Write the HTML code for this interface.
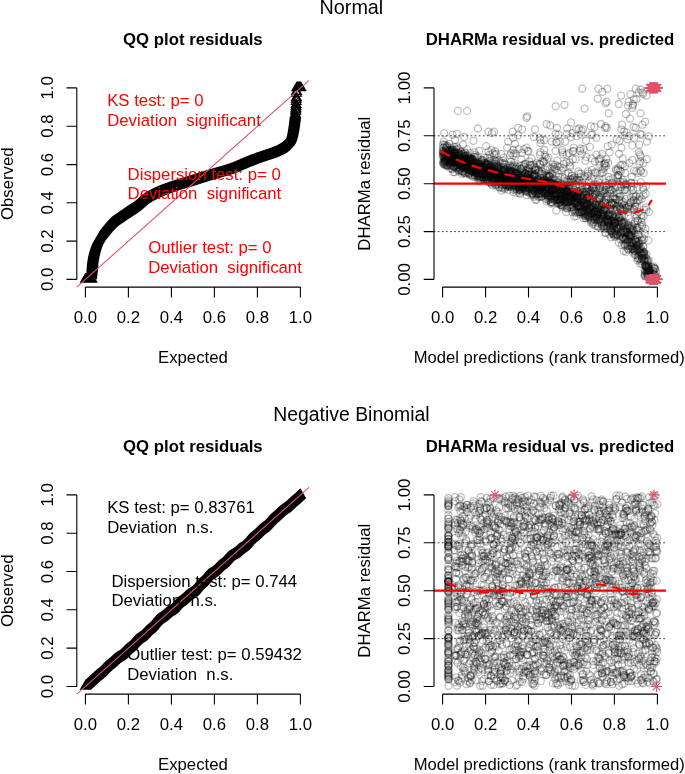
<!DOCTYPE html><html><head><meta charset="utf-8"><title>DHARMa residual plots</title>
<style>html,body{margin:0;padding:0;background:#fff}svg{display:block}text{font-family:"Liberation Sans",sans-serif;font-size:16.75px;fill:#000;white-space:pre}.b{font-weight:bold}.m{text-anchor:middle}.r{fill:#f00}.ax{stroke:#000;stroke-width:1.1;fill:none;stroke-linecap:butt}svg{will-change:transform}</style></head><body>
<svg width="685" height="774" viewBox="0 0 685 774">
<rect width="685" height="774" fill="#fff"/>
<defs><g id="st" stroke="#DF536B" stroke-opacity="1" stroke-width="1.1" fill="none"><path d="M-5.4 0H5.4M0-5.4V5.4M-3.8-3.8L3.8 3.8M-3.8 3.8L3.8-3.8"/></g><filter id="bl" x="-5%" y="-5%" width="110%" height="110%"><feGaussianBlur stdDeviation="0.45"/></filter></defs>
<text class="m" style="font-size:19.8px" x="351.4" y="14">Normal</text>
<text class="m" style="font-size:19.4px" x="351.4" y="421">Negative Binomial</text>
<path d="M91.0 270.5l4.9 8.5h-9.8zM91.0 270.3l4.9 8.5h-9.8zM91.1 270.0l4.9 8.5h-9.8zM91.1 269.8l4.9 8.5h-9.8zM91.2 269.5l4.9 8.5h-9.8zM91.3 269.2l4.9 8.5h-9.8zM91.3 268.9l4.9 8.5h-9.8zM91.4 268.5l4.9 8.5h-9.8zM91.4 268.2l4.9 8.5h-9.8zM91.5 267.8l4.9 8.5h-9.8zM91.6 267.4l4.9 8.5h-9.8zM91.6 267.0l4.9 8.5h-9.8zM91.7 266.6l4.9 8.5h-9.8zM91.7 266.2l4.9 8.5h-9.8zM91.8 265.7l4.9 8.5h-9.8zM91.9 265.3l4.9 8.5h-9.8zM91.9 264.8l4.9 8.5h-9.8zM92.0 264.4l4.9 8.5h-9.8zM92.0 263.9l4.9 8.5h-9.8zM92.0 263.5l4.9 8.5h-9.8zM92.1 263.0l4.9 8.5h-9.8zM92.1 262.6l4.9 8.5h-9.8zM92.2 262.1l4.9 8.5h-9.8zM92.2 261.6l4.9 8.5h-9.8zM92.2 261.1l4.9 8.5h-9.8zM92.3 260.7l4.9 8.5h-9.8zM92.3 260.2l4.9 8.5h-9.8zM92.3 259.7l4.9 8.5h-9.8zM92.4 259.3l4.9 8.5h-9.8zM92.4 258.8l4.9 8.5h-9.8zM92.4 258.3l4.9 8.5h-9.8zM92.5 257.9l4.9 8.5h-9.8zM92.5 257.4l4.9 8.5h-9.8zM92.6 256.9l4.9 8.5h-9.8zM92.6 256.5l4.9 8.5h-9.8zM92.6 256.0l4.9 8.5h-9.8zM92.7 255.5l4.9 8.5h-9.8zM92.7 255.1l4.9 8.5h-9.8zM92.8 254.6l4.9 8.5h-9.8zM92.8 254.2l4.9 8.5h-9.8zM92.9 253.7l4.9 8.5h-9.8zM93.0 253.2l4.9 8.5h-9.8zM93.0 252.8l4.9 8.5h-9.8zM93.1 252.3l4.9 8.5h-9.8zM93.2 251.9l4.9 8.5h-9.8zM93.2 251.4l4.9 8.5h-9.8zM93.3 251.0l4.9 8.5h-9.8zM93.4 250.5l4.9 8.5h-9.8zM93.5 250.1l4.9 8.5h-9.8zM93.6 249.6l4.9 8.5h-9.8zM93.6 249.2l4.9 8.5h-9.8zM93.7 248.7l4.9 8.5h-9.8zM93.8 248.3l4.9 8.5h-9.8zM93.9 247.8l4.9 8.5h-9.8zM94.0 247.4l4.9 8.5h-9.8zM94.1 246.9l4.9 8.5h-9.8zM94.2 246.5l4.9 8.5h-9.8zM94.3 246.0l4.9 8.5h-9.8zM94.4 245.6l4.9 8.5h-9.8zM94.5 245.1l4.9 8.5h-9.8zM94.6 244.7l4.9 8.5h-9.8zM94.8 244.2l4.9 8.5h-9.8zM94.9 243.8l4.9 8.5h-9.8zM95.0 243.3l4.9 8.5h-9.8zM95.1 242.9l4.9 8.5h-9.8zM95.2 242.4l4.9 8.5h-9.8zM95.4 242.0l4.9 8.5h-9.8zM95.5 241.5l4.9 8.5h-9.8zM95.6 241.1l4.9 8.5h-9.8zM95.8 240.6l4.9 8.5h-9.8zM95.9 240.2l4.9 8.5h-9.8zM96.1 239.7l4.9 8.5h-9.8zM96.2 239.3l4.9 8.5h-9.8zM96.4 238.8l4.9 8.5h-9.8zM96.5 238.4l4.9 8.5h-9.8zM96.7 237.9l4.9 8.5h-9.8zM96.9 237.5l4.9 8.5h-9.8zM97.1 237.0l4.9 8.5h-9.8zM97.2 236.6l4.9 8.5h-9.8zM97.4 236.2l4.9 8.5h-9.8zM97.6 235.7l4.9 8.5h-9.8zM97.8 235.3l4.9 8.5h-9.8zM98.0 234.9l4.9 8.5h-9.8zM98.3 234.5l4.9 8.5h-9.8zM98.5 234.1l4.9 8.5h-9.8zM98.7 233.7l4.9 8.5h-9.8zM98.9 233.3l4.9 8.5h-9.8zM99.2 232.9l4.9 8.5h-9.8zM99.4 232.5l4.9 8.5h-9.8zM99.6 232.1l4.9 8.5h-9.8zM99.9 231.7l4.9 8.5h-9.8zM100.1 231.3l4.9 8.5h-9.8zM100.4 231.0l4.9 8.5h-9.8zM100.7 230.6l4.9 8.5h-9.8zM100.9 230.2l4.9 8.5h-9.8zM101.2 229.9l4.9 8.5h-9.8zM101.5 229.5l4.9 8.5h-9.8zM101.8 229.2l4.9 8.5h-9.8zM102.0 228.8l4.9 8.5h-9.8zM102.3 228.4l4.9 8.5h-9.8zM102.6 228.1l4.9 8.5h-9.8zM102.9 227.8l4.9 8.5h-9.8zM103.2 227.4l4.9 8.5h-9.8zM103.5 227.1l4.9 8.5h-9.8zM103.8 226.7l4.9 8.5h-9.8zM104.0 226.4l4.9 8.5h-9.8zM104.3 226.0l4.9 8.5h-9.8zM104.6 225.7l4.9 8.5h-9.8zM104.9 225.3l4.9 8.5h-9.8zM105.2 224.9l4.9 8.5h-9.8zM105.5 224.6l4.9 8.5h-9.8zM105.8 224.2l4.9 8.5h-9.8zM106.1 223.9l4.9 8.5h-9.8zM106.4 223.5l4.9 8.5h-9.8zM106.7 223.2l4.9 8.5h-9.8zM107.0 222.8l4.9 8.5h-9.8zM107.3 222.4l4.9 8.5h-9.8zM107.6 222.1l4.9 8.5h-9.8zM108.0 221.7l4.9 8.5h-9.8zM108.3 221.4l4.9 8.5h-9.8zM108.6 221.0l4.9 8.5h-9.8zM108.9 220.7l4.9 8.5h-9.8zM109.2 220.3l4.9 8.5h-9.8zM109.6 220.0l4.9 8.5h-9.8zM109.9 219.7l4.9 8.5h-9.8zM110.2 219.3l4.9 8.5h-9.8zM110.6 219.0l4.9 8.5h-9.8zM110.9 218.7l4.9 8.5h-9.8zM111.2 218.3l4.9 8.5h-9.8zM111.6 218.0l4.9 8.5h-9.8zM111.9 217.7l4.9 8.5h-9.8zM112.3 217.4l4.9 8.5h-9.8zM112.6 217.1l4.9 8.5h-9.8zM113.0 216.8l4.9 8.5h-9.8zM113.3 216.6l4.9 8.5h-9.8zM113.7 216.3l4.9 8.5h-9.8zM114.1 216.1l4.9 8.5h-9.8zM114.4 215.8l4.9 8.5h-9.8zM114.8 215.6l4.9 8.5h-9.8zM115.2 215.3l4.9 8.5h-9.8zM115.5 215.0l4.9 8.5h-9.8zM115.9 214.8l4.9 8.5h-9.8zM116.3 214.5l4.9 8.5h-9.8zM116.7 214.3l4.9 8.5h-9.8zM117.0 214.0l4.9 8.5h-9.8zM117.4 213.7l4.9 8.5h-9.8zM117.8 213.5l4.9 8.5h-9.8zM118.2 213.2l4.9 8.5h-9.8zM118.6 212.9l4.9 8.5h-9.8zM119.0 212.7l4.9 8.5h-9.8zM119.4 212.4l4.9 8.5h-9.8zM119.7 212.1l4.9 8.5h-9.8zM120.1 211.9l4.9 8.5h-9.8zM120.5 211.6l4.9 8.5h-9.8zM120.9 211.3l4.9 8.5h-9.8zM121.3 211.1l4.9 8.5h-9.8zM121.7 210.8l4.9 8.5h-9.8zM122.1 210.5l4.9 8.5h-9.8zM122.5 210.3l4.9 8.5h-9.8zM122.8 210.0l4.9 8.5h-9.8zM123.2 209.7l4.9 8.5h-9.8zM123.6 209.5l4.9 8.5h-9.8zM124.0 209.2l4.9 8.5h-9.8zM124.4 208.9l4.9 8.5h-9.8zM124.8 208.7l4.9 8.5h-9.8zM125.2 208.4l4.9 8.5h-9.8zM125.6 208.2l4.9 8.5h-9.8zM126.0 207.9l4.9 8.5h-9.8zM126.4 207.6l4.9 8.5h-9.8zM126.7 207.4l4.9 8.5h-9.8zM127.1 207.1l4.9 8.5h-9.8zM127.5 206.9l4.9 8.5h-9.8zM127.9 206.6l4.9 8.5h-9.8zM128.3 206.4l4.9 8.5h-9.8zM128.7 206.1l4.9 8.5h-9.8zM129.1 205.9l4.9 8.5h-9.8zM129.5 205.6l4.9 8.5h-9.8zM129.9 205.4l4.9 8.5h-9.8zM130.3 205.1l4.9 8.5h-9.8zM130.6 204.9l4.9 8.5h-9.8zM131.0 204.6l4.9 8.5h-9.8zM131.4 204.4l4.9 8.5h-9.8zM131.8 204.1l4.9 8.5h-9.8zM132.2 203.9l4.9 8.5h-9.8zM132.6 203.6l4.9 8.5h-9.8zM133.0 203.3l4.9 8.5h-9.8zM133.3 203.1l4.9 8.5h-9.8zM133.7 202.8l4.9 8.5h-9.8zM134.1 202.5l4.9 8.5h-9.8zM134.5 202.3l4.9 8.5h-9.8zM134.8 202.0l4.9 8.5h-9.8zM135.2 201.7l4.9 8.5h-9.8zM135.6 201.4l4.9 8.5h-9.8zM136.0 201.1l4.9 8.5h-9.8zM136.3 200.8l4.9 8.5h-9.8zM136.7 200.5l4.9 8.5h-9.8zM137.1 200.2l4.9 8.5h-9.8zM137.4 199.9l4.9 8.5h-9.8zM137.8 199.6l4.9 8.5h-9.8zM138.1 199.3l4.9 8.5h-9.8zM138.5 199.0l4.9 8.5h-9.8zM138.8 198.7l4.9 8.5h-9.8zM139.2 198.3l4.9 8.5h-9.8zM139.5 198.0l4.9 8.5h-9.8zM139.9 197.7l4.9 8.5h-9.8zM140.2 197.4l4.9 8.5h-9.8zM140.6 197.1l4.9 8.5h-9.8zM140.9 196.8l4.9 8.5h-9.8zM141.2 196.5l4.9 8.5h-9.8zM141.6 196.2l4.9 8.5h-9.8zM141.9 195.9l4.9 8.5h-9.8zM142.3 195.6l4.9 8.5h-9.8zM142.6 195.3l4.9 8.5h-9.8zM143.0 195.1l4.9 8.5h-9.8zM143.3 194.8l4.9 8.5h-9.8zM143.7 194.6l4.9 8.5h-9.8zM144.0 194.3l4.9 8.5h-9.8zM144.4 194.1l4.9 8.5h-9.8zM144.7 193.8l4.9 8.5h-9.8zM145.1 193.6l4.9 8.5h-9.8zM145.4 193.4l4.9 8.5h-9.8zM145.8 193.1l4.9 8.5h-9.8zM146.2 192.9l4.9 8.5h-9.8zM146.5 192.7l4.9 8.5h-9.8zM146.9 192.5l4.9 8.5h-9.8zM147.3 192.3l4.9 8.5h-9.8zM147.6 192.0l4.9 8.5h-9.8zM148.0 191.8l4.9 8.5h-9.8zM148.4 191.6l4.9 8.5h-9.8zM148.8 191.4l4.9 8.5h-9.8zM149.2 191.2l4.9 8.5h-9.8zM149.6 191.0l4.9 8.5h-9.8zM150.0 190.8l4.9 8.5h-9.8zM150.3 190.6l4.9 8.5h-9.8zM150.7 190.4l4.9 8.5h-9.8zM151.1 190.2l4.9 8.5h-9.8zM151.5 190.0l4.9 8.5h-9.8zM151.9 189.8l4.9 8.5h-9.8zM152.3 189.6l4.9 8.5h-9.8zM152.7 189.4l4.9 8.5h-9.8zM153.1 189.2l4.9 8.5h-9.8zM153.5 189.0l4.9 8.5h-9.8zM153.9 188.8l4.9 8.5h-9.8zM154.4 188.6l4.9 8.5h-9.8zM154.8 188.4l4.9 8.5h-9.8zM155.2 188.2l4.9 8.5h-9.8zM155.6 188.0l4.9 8.5h-9.8zM156.0 187.9l4.9 8.5h-9.8zM156.4 187.7l4.9 8.5h-9.8zM156.8 187.5l4.9 8.5h-9.8zM157.2 187.3l4.9 8.5h-9.8zM157.6 187.1l4.9 8.5h-9.8zM158.0 187.0l4.9 8.5h-9.8zM158.5 186.8l4.9 8.5h-9.8zM158.9 186.6l4.9 8.5h-9.8zM159.3 186.4l4.9 8.5h-9.8zM159.7 186.3l4.9 8.5h-9.8zM160.1 186.1l4.9 8.5h-9.8zM160.5 185.9l4.9 8.5h-9.8zM160.9 185.7l4.9 8.5h-9.8zM161.4 185.6l4.9 8.5h-9.8zM161.8 185.4l4.9 8.5h-9.8zM162.2 185.2l4.9 8.5h-9.8zM162.6 185.1l4.9 8.5h-9.8zM163.0 184.9l4.9 8.5h-9.8zM163.5 184.8l4.9 8.5h-9.8zM163.9 184.6l4.9 8.5h-9.8zM164.3 184.5l4.9 8.5h-9.8zM164.7 184.3l4.9 8.5h-9.8zM165.2 184.1l4.9 8.5h-9.8zM165.6 184.0l4.9 8.5h-9.8zM166.0 183.8l4.9 8.5h-9.8zM166.4 183.7l4.9 8.5h-9.8zM166.9 183.5l4.9 8.5h-9.8zM167.3 183.4l4.9 8.5h-9.8zM167.7 183.2l4.9 8.5h-9.8zM168.2 183.1l4.9 8.5h-9.8zM168.6 182.9l4.9 8.5h-9.8zM169.0 182.8l4.9 8.5h-9.8zM169.5 182.6l4.9 8.5h-9.8zM169.9 182.5l4.9 8.5h-9.8zM170.3 182.4l4.9 8.5h-9.8zM170.8 182.2l4.9 8.5h-9.8zM171.2 182.1l4.9 8.5h-9.8zM171.7 181.9l4.9 8.5h-9.8zM172.1 181.8l4.9 8.5h-9.8zM172.5 181.6l4.9 8.5h-9.8zM173.0 181.5l4.9 8.5h-9.8zM173.4 181.3l4.9 8.5h-9.8zM173.9 181.2l4.9 8.5h-9.8zM174.3 181.1l4.9 8.5h-9.8zM174.7 180.9l4.9 8.5h-9.8zM175.2 180.8l4.9 8.5h-9.8zM175.6 180.6l4.9 8.5h-9.8zM176.1 180.5l4.9 8.5h-9.8zM176.5 180.4l4.9 8.5h-9.8zM176.9 180.2l4.9 8.5h-9.8zM177.4 180.1l4.9 8.5h-9.8zM177.8 180.0l4.9 8.5h-9.8zM178.2 179.8l4.9 8.5h-9.8zM178.7 179.7l4.9 8.5h-9.8zM179.1 179.6l4.9 8.5h-9.8zM179.5 179.5l4.9 8.5h-9.8zM180.0 179.3l4.9 8.5h-9.8zM180.4 179.2l4.9 8.5h-9.8zM180.8 179.1l4.9 8.5h-9.8zM181.2 179.0l4.9 8.5h-9.8zM181.7 178.8l4.9 8.5h-9.8zM182.1 178.7l4.9 8.5h-9.8zM182.5 178.6l4.9 8.5h-9.8zM182.9 178.5l4.9 8.5h-9.8zM183.4 178.4l4.9 8.5h-9.8zM183.8 178.2l4.9 8.5h-9.8zM184.2 178.1l4.9 8.5h-9.8zM184.6 178.0l4.9 8.5h-9.8zM185.1 177.9l4.9 8.5h-9.8zM185.5 177.7l4.9 8.5h-9.8zM185.9 177.6l4.9 8.5h-9.8zM186.3 177.5l4.9 8.5h-9.8zM186.8 177.3l4.9 8.5h-9.8zM187.2 177.2l4.9 8.5h-9.8zM187.6 177.1l4.9 8.5h-9.8zM188.0 177.0l4.9 8.5h-9.8zM188.5 176.8l4.9 8.5h-9.8zM188.9 176.7l4.9 8.5h-9.8zM189.3 176.5l4.9 8.5h-9.8zM189.7 176.4l4.9 8.5h-9.8zM190.2 176.3l4.9 8.5h-9.8zM190.6 176.1l4.9 8.5h-9.8zM191.0 176.0l4.9 8.5h-9.8zM191.4 175.9l4.9 8.5h-9.8zM191.9 175.7l4.9 8.5h-9.8zM192.3 175.6l4.9 8.5h-9.8zM192.7 175.4l4.9 8.5h-9.8zM193.2 175.3l4.9 8.5h-9.8zM193.6 175.2l4.9 8.5h-9.8zM194.0 175.0l4.9 8.5h-9.8zM194.5 174.9l4.9 8.5h-9.8zM194.9 174.7l4.9 8.5h-9.8zM195.4 174.6l4.9 8.5h-9.8zM195.8 174.4l4.9 8.5h-9.8zM196.2 174.3l4.9 8.5h-9.8zM196.7 174.2l4.9 8.5h-9.8zM197.1 174.0l4.9 8.5h-9.8zM197.6 173.9l4.9 8.5h-9.8zM198.0 173.7l4.9 8.5h-9.8zM198.5 173.6l4.9 8.5h-9.8zM198.9 173.4l4.9 8.5h-9.8zM199.4 173.3l4.9 8.5h-9.8zM199.8 173.2l4.9 8.5h-9.8zM200.3 173.0l4.9 8.5h-9.8zM200.7 172.9l4.9 8.5h-9.8zM201.2 172.7l4.9 8.5h-9.8zM201.6 172.6l4.9 8.5h-9.8zM202.1 172.5l4.9 8.5h-9.8zM202.5 172.3l4.9 8.5h-9.8zM203.0 172.2l4.9 8.5h-9.8zM203.4 172.0l4.9 8.5h-9.8zM203.9 171.9l4.9 8.5h-9.8zM204.3 171.8l4.9 8.5h-9.8zM204.7 171.6l4.9 8.5h-9.8zM205.2 171.5l4.9 8.5h-9.8zM205.6 171.4l4.9 8.5h-9.8zM206.1 171.2l4.9 8.5h-9.8zM206.5 171.1l4.9 8.5h-9.8zM207.0 171.0l4.9 8.5h-9.8zM207.4 170.8l4.9 8.5h-9.8zM207.8 170.7l4.9 8.5h-9.8zM208.3 170.6l4.9 8.5h-9.8zM208.7 170.4l4.9 8.5h-9.8zM209.2 170.3l4.9 8.5h-9.8zM209.6 170.2l4.9 8.5h-9.8zM210.0 170.0l4.9 8.5h-9.8zM210.5 169.9l4.9 8.5h-9.8zM210.9 169.8l4.9 8.5h-9.8zM211.4 169.7l4.9 8.5h-9.8zM211.8 169.5l4.9 8.5h-9.8zM212.2 169.4l4.9 8.5h-9.8zM212.7 169.3l4.9 8.5h-9.8zM213.1 169.1l4.9 8.5h-9.8zM213.6 169.0l4.9 8.5h-9.8zM214.0 168.9l4.9 8.5h-9.8zM214.5 168.7l4.9 8.5h-9.8zM214.9 168.6l4.9 8.5h-9.8zM215.4 168.5l4.9 8.5h-9.8zM215.8 168.4l4.9 8.5h-9.8zM216.2 168.2l4.9 8.5h-9.8zM216.7 168.1l4.9 8.5h-9.8zM217.1 168.0l4.9 8.5h-9.8zM217.6 167.8l4.9 8.5h-9.8zM218.0 167.7l4.9 8.5h-9.8zM218.5 167.6l4.9 8.5h-9.8zM218.9 167.4l4.9 8.5h-9.8zM219.4 167.3l4.9 8.5h-9.8zM219.8 167.2l4.9 8.5h-9.8zM220.3 167.1l4.9 8.5h-9.8zM220.7 166.9l4.9 8.5h-9.8zM221.2 166.8l4.9 8.5h-9.8zM221.6 166.7l4.9 8.5h-9.8zM222.1 166.6l4.9 8.5h-9.8zM222.5 166.4l4.9 8.5h-9.8zM223.0 166.3l4.9 8.5h-9.8zM223.4 166.2l4.9 8.5h-9.8zM223.8 166.0l4.9 8.5h-9.8zM224.3 165.9l4.9 8.5h-9.8zM224.7 165.8l4.9 8.5h-9.8zM225.2 165.6l4.9 8.5h-9.8zM225.6 165.5l4.9 8.5h-9.8zM226.1 165.4l4.9 8.5h-9.8zM226.5 165.2l4.9 8.5h-9.8zM227.0 165.1l4.9 8.5h-9.8zM227.4 164.9l4.9 8.5h-9.8zM227.9 164.8l4.9 8.5h-9.8zM228.3 164.6l4.9 8.5h-9.8zM228.8 164.5l4.9 8.5h-9.8zM229.2 164.4l4.9 8.5h-9.8zM229.6 164.2l4.9 8.5h-9.8zM230.1 164.0l4.9 8.5h-9.8zM230.5 163.9l4.9 8.5h-9.8zM231.0 163.7l4.9 8.5h-9.8zM231.4 163.6l4.9 8.5h-9.8zM231.8 163.4l4.9 8.5h-9.8zM232.3 163.2l4.9 8.5h-9.8zM232.7 163.1l4.9 8.5h-9.8zM233.1 162.9l4.9 8.5h-9.8zM233.6 162.7l4.9 8.5h-9.8zM234.0 162.6l4.9 8.5h-9.8zM234.5 162.4l4.9 8.5h-9.8zM234.9 162.2l4.9 8.5h-9.8zM235.3 162.0l4.9 8.5h-9.8zM235.8 161.8l4.9 8.5h-9.8zM236.2 161.6l4.9 8.5h-9.8zM236.6 161.5l4.9 8.5h-9.8zM237.0 161.3l4.9 8.5h-9.8zM237.5 161.1l4.9 8.5h-9.8zM237.9 160.9l4.9 8.5h-9.8zM238.3 160.7l4.9 8.5h-9.8zM238.7 160.5l4.9 8.5h-9.8zM239.2 160.3l4.9 8.5h-9.8zM239.6 160.2l4.9 8.5h-9.8zM240.0 160.0l4.9 8.5h-9.8zM240.4 159.8l4.9 8.5h-9.8zM240.9 159.6l4.9 8.5h-9.8zM241.3 159.4l4.9 8.5h-9.8zM241.7 159.2l4.9 8.5h-9.8zM242.1 159.1l4.9 8.5h-9.8zM242.5 158.9l4.9 8.5h-9.8zM243.0 158.7l4.9 8.5h-9.8zM243.4 158.5l4.9 8.5h-9.8zM243.8 158.3l4.9 8.5h-9.8zM244.2 158.2l4.9 8.5h-9.8zM244.6 158.0l4.9 8.5h-9.8zM245.1 157.8l4.9 8.5h-9.8zM245.5 157.6l4.9 8.5h-9.8zM245.9 157.5l4.9 8.5h-9.8zM246.3 157.3l4.9 8.5h-9.8zM246.7 157.1l4.9 8.5h-9.8zM247.2 157.0l4.9 8.5h-9.8zM247.6 156.8l4.9 8.5h-9.8zM248.0 156.6l4.9 8.5h-9.8zM248.4 156.5l4.9 8.5h-9.8zM248.8 156.3l4.9 8.5h-9.8zM249.3 156.1l4.9 8.5h-9.8zM249.7 156.0l4.9 8.5h-9.8zM250.1 155.8l4.9 8.5h-9.8zM250.5 155.6l4.9 8.5h-9.8zM251.0 155.5l4.9 8.5h-9.8zM251.4 155.3l4.9 8.5h-9.8zM251.8 155.1l4.9 8.5h-9.8zM252.2 155.0l4.9 8.5h-9.8zM252.6 154.8l4.9 8.5h-9.8zM253.1 154.7l4.9 8.5h-9.8zM253.5 154.5l4.9 8.5h-9.8zM253.9 154.3l4.9 8.5h-9.8zM254.3 154.2l4.9 8.5h-9.8zM254.8 154.0l4.9 8.5h-9.8zM255.2 153.9l4.9 8.5h-9.8zM255.6 153.7l4.9 8.5h-9.8zM256.0 153.6l4.9 8.5h-9.8zM256.5 153.4l4.9 8.5h-9.8zM256.9 153.3l4.9 8.5h-9.8zM257.3 153.1l4.9 8.5h-9.8zM257.8 153.0l4.9 8.5h-9.8zM258.2 152.8l4.9 8.5h-9.8zM258.7 152.7l4.9 8.5h-9.8zM259.1 152.5l4.9 8.5h-9.8zM259.5 152.4l4.9 8.5h-9.8zM260.0 152.2l4.9 8.5h-9.8zM260.4 152.1l4.9 8.5h-9.8zM260.9 151.9l4.9 8.5h-9.8zM261.3 151.8l4.9 8.5h-9.8zM261.8 151.6l4.9 8.5h-9.8zM262.2 151.5l4.9 8.5h-9.8zM262.7 151.3l4.9 8.5h-9.8zM263.1 151.2l4.9 8.5h-9.8zM263.6 151.0l4.9 8.5h-9.8zM264.0 150.9l4.9 8.5h-9.8zM264.5 150.7l4.9 8.5h-9.8zM264.9 150.6l4.9 8.5h-9.8zM265.4 150.4l4.9 8.5h-9.8zM265.9 150.3l4.9 8.5h-9.8zM266.3 150.2l4.9 8.5h-9.8zM266.8 150.0l4.9 8.5h-9.8zM267.2 149.9l4.9 8.5h-9.8zM267.7 149.7l4.9 8.5h-9.8zM268.1 149.6l4.9 8.5h-9.8zM268.5 149.4l4.9 8.5h-9.8zM269.0 149.3l4.9 8.5h-9.8zM269.4 149.1l4.9 8.5h-9.8zM269.9 148.9l4.9 8.5h-9.8zM270.3 148.8l4.9 8.5h-9.8zM270.8 148.6l4.9 8.5h-9.8zM271.2 148.5l4.9 8.5h-9.8zM271.6 148.3l4.9 8.5h-9.8zM272.1 148.1l4.9 8.5h-9.8zM272.5 148.0l4.9 8.5h-9.8zM272.9 147.8l4.9 8.5h-9.8zM273.4 147.6l4.9 8.5h-9.8zM273.8 147.5l4.9 8.5h-9.8zM274.2 147.3l4.9 8.5h-9.8zM274.7 147.1l4.9 8.5h-9.8zM275.1 146.9l4.9 8.5h-9.8zM275.5 146.7l4.9 8.5h-9.8zM276.0 146.5l4.9 8.5h-9.8zM276.4 146.3l4.9 8.5h-9.8zM276.8 146.2l4.9 8.5h-9.8zM277.2 146.0l4.9 8.5h-9.8zM277.6 145.8l4.9 8.5h-9.8zM278.1 145.5l4.9 8.5h-9.8zM278.5 145.3l4.9 8.5h-9.8zM278.9 145.1l4.9 8.5h-9.8zM279.3 144.9l4.9 8.5h-9.8zM279.7 144.7l4.9 8.5h-9.8zM280.1 144.4l4.9 8.5h-9.8zM280.5 144.2l4.9 8.5h-9.8zM280.9 143.9l4.9 8.5h-9.8zM281.3 143.7l4.9 8.5h-9.8zM281.7 143.4l4.9 8.5h-9.8zM282.1 143.1l4.9 8.5h-9.8zM282.5 142.8l4.9 8.5h-9.8zM282.9 142.5l4.9 8.5h-9.8zM283.2 142.2l4.9 8.5h-9.8zM283.6 141.9l4.9 8.5h-9.8zM284.0 141.6l4.9 8.5h-9.8zM284.4 141.3l4.9 8.5h-9.8zM284.7 140.9l4.9 8.5h-9.8zM285.1 140.6l4.9 8.5h-9.8zM285.4 140.2l4.9 8.5h-9.8zM285.8 139.8l4.9 8.5h-9.8zM286.1 139.5l4.9 8.5h-9.8zM286.5 139.2l4.9 8.5h-9.8zM286.8 138.8l4.9 8.5h-9.8zM287.1 138.5l4.9 8.5h-9.8zM287.4 138.2l4.9 8.5h-9.8zM287.7 137.9l4.9 8.5h-9.8zM288.0 137.5l4.9 8.5h-9.8zM288.3 137.2l4.9 8.5h-9.8zM288.6 136.8l4.9 8.5h-9.8zM288.9 136.4l4.9 8.5h-9.8zM289.1 136.1l4.9 8.5h-9.8zM289.4 135.7l4.9 8.5h-9.8zM289.6 135.3l4.9 8.5h-9.8zM289.8 134.9l4.9 8.5h-9.8zM290.1 134.5l4.9 8.5h-9.8zM290.3 134.1l4.9 8.5h-9.8zM290.5 133.7l4.9 8.5h-9.8zM290.7 133.3l4.9 8.5h-9.8zM290.9 132.8l4.9 8.5h-9.8zM291.0 132.4l4.9 8.5h-9.8zM291.2 132.0l4.9 8.5h-9.8zM291.4 131.6l4.9 8.5h-9.8zM291.5 131.1l4.9 8.5h-9.8zM291.7 130.7l4.9 8.5h-9.8zM291.8 130.2l4.9 8.5h-9.8zM291.9 129.8l4.9 8.5h-9.8zM292.0 129.3l4.9 8.5h-9.8zM292.2 128.9l4.9 8.5h-9.8zM292.3 128.4l4.9 8.5h-9.8zM292.4 128.0l4.9 8.5h-9.8zM292.5 127.5l4.9 8.5h-9.8zM292.6 127.1l4.9 8.5h-9.8zM292.7 126.6l4.9 8.5h-9.8zM292.8 126.1l4.9 8.5h-9.8zM292.9 125.7l4.9 8.5h-9.8zM293.0 125.2l4.9 8.5h-9.8zM293.1 124.8l4.9 8.5h-9.8zM293.2 124.3l4.9 8.5h-9.8zM293.3 123.8l4.9 8.5h-9.8zM293.3 123.4l4.9 8.5h-9.8zM293.4 122.9l4.9 8.5h-9.8zM293.5 122.5l4.9 8.5h-9.8zM293.6 122.0l4.9 8.5h-9.8zM293.7 121.5l4.9 8.5h-9.8zM293.7 121.1l4.9 8.5h-9.8zM293.8 120.6l4.9 8.5h-9.8zM293.9 120.1l4.9 8.5h-9.8zM294.0 119.7l4.9 8.5h-9.8zM294.0 119.2l4.9 8.5h-9.8zM294.1 118.7l4.9 8.5h-9.8zM294.2 118.3l4.9 8.5h-9.8zM294.2 117.8l4.9 8.5h-9.8zM294.3 117.3l4.9 8.5h-9.8zM294.4 116.8l4.9 8.5h-9.8zM294.4 116.4l4.9 8.5h-9.8zM294.5 115.9l4.9 8.5h-9.8zM294.6 115.4l4.9 8.5h-9.8zM294.6 115.0l4.9 8.5h-9.8zM294.7 114.5l4.9 8.5h-9.8zM294.8 114.0l4.9 8.5h-9.8zM294.8 113.6l4.9 8.5h-9.8zM294.9 113.1l4.9 8.5h-9.8zM294.9 112.7l4.9 8.5h-9.8zM295.0 112.2l4.9 8.5h-9.8zM295.0 111.8l4.9 8.5h-9.8zM295.1 111.4l4.9 8.5h-9.8zM295.1 111.0l4.9 8.5h-9.8zM295.2 110.6l4.9 8.5h-9.8zM295.2 110.2l4.9 8.5h-9.8zM295.2 109.8l4.9 8.5h-9.8zM295.3 109.5l4.9 8.5h-9.8zM295.3 109.2l4.9 8.5h-9.8zM295.4 108.9l4.9 8.5h-9.8zM295.4 108.6l4.9 8.5h-9.8zM295.4 108.3l4.9 8.5h-9.8zM295.4 108.1l4.9 8.5h-9.8zM295.7 105.6l4.9 8.5h-9.8zM295.8 104.3l4.9 8.5h-9.8zM295.9 102.8l4.9 8.5h-9.8zM296.0 100.6l4.9 8.5h-9.8zM296.1 98.9l4.9 8.5h-9.8zM296.2 95.9l4.9 8.5h-9.8zM296.3 93.8l4.9 8.5h-9.8zM296.4 91.9l4.9 8.5h-9.8zM296.5 87.8l4.9 8.5h-9.8zM296.6 85.9l4.9 8.5h-9.8z" fill="none" stroke="#000" stroke-width="1.07" stroke-linejoin="miter"/>
<path d="M85.4 273.8l4.9 8.5h-9.8zM85.9 273.8l4.9 8.5h-9.8zM86.4 273.8l4.9 8.5h-9.8zM86.9 273.8l4.9 8.5h-9.8zM87.4 273.8l4.9 8.5h-9.8zM87.9 273.8l4.9 8.5h-9.8zM88.4 273.8l4.9 8.5h-9.8zM88.9 273.8l4.9 8.5h-9.8zM89.4 273.8l4.9 8.5h-9.8zM89.9 273.8l4.9 8.5h-9.8zM90.4 273.8l4.9 8.5h-9.8zM90.9 273.8l4.9 8.5h-9.8zM91.4 273.8l4.9 8.5h-9.8zM91.9 273.8l4.9 8.5h-9.8zM296.8 82.3l4.9 8.5h-9.8zM297.4 82.3l4.9 8.5h-9.8zM298.0 82.3l4.9 8.5h-9.8zM298.6 82.3l4.9 8.5h-9.8zM299.2 82.3l4.9 8.5h-9.8zM299.8 82.3l4.9 8.5h-9.8zM300.4 82.3l4.9 8.5h-9.8zM301.0 82.3l4.9 8.5h-9.8z" fill="#000" stroke="#000" stroke-width="1.07" stroke-linejoin="miter"/>
<path d="M76.8 287.1L309 80.3" stroke="#DF536B" stroke-width="1.1" fill="none"/>
<path class="ax" d="M76.8 87.9V279.4M76.8 279.4h-10.3M76.8 241.1h-10.3M76.8 202.8h-10.3M76.8 164.6h-10.3M76.8 126.2h-10.3M76.8 87.9h-10.3M85.4 287.1H300.4M85.4 287.1v10.3M128.4 287.1v10.3M171.4 287.1v10.3M214.4 287.1v10.3M257.4 287.1v10.3M300.4 287.1v10.3"/>
<text class="m" x="85.4" y="322.6">0.0</text>
<text class="m" x="128.4" y="322.6">0.2</text>
<text class="m" x="171.4" y="322.6">0.4</text>
<text class="m" x="214.4" y="322.6">0.6</text>
<text class="m" x="257.4" y="322.6">0.8</text>
<text class="m" x="300.4" y="322.6">1.0</text>
<text class="m" transform="translate(53.1 279.4) rotate(-90)">0.0</text>
<text class="m" transform="translate(53.1 241.1) rotate(-90)">0.2</text>
<text class="m" transform="translate(53.1 202.8) rotate(-90)">0.4</text>
<text class="m" transform="translate(53.1 164.6) rotate(-90)">0.6</text>
<text class="m" transform="translate(53.1 126.2) rotate(-90)">0.8</text>
<text class="m" transform="translate(53.1 87.9) rotate(-90)">1.0</text>
<text class="m b" x="192.9" y="45.1">QQ plot residuals</text>
<text class="m" x="192.9" y="363.1">Expected</text>
<text class="m" transform="translate(13 183.7) rotate(-90)">Observed</text>
<text class="r" x="107.2" y="106.3">KS test: p= 0</text>
<text class="r" x="107.2" y="125.9">Deviation  significant</text>
<text class="r" x="127.6" y="179.6">Dispersion test: p= 0</text>
<text class="r" x="127.6" y="199.2">Deviation  significant</text>
<text class="r" x="148.2" y="253.1">Outlier test: p= 0</text>
<text class="r" x="148.2" y="272.7">Deviation  significant</text>
<path d="M85.4 680.8l4.9 8.5h-9.8zM85.7 680.4l4.9 8.5h-9.8zM86.1 680.1l4.9 8.5h-9.8zM86.4 679.8l4.9 8.5h-9.8zM86.7 679.5l4.9 8.5h-9.8zM87.1 679.2l4.9 8.5h-9.8zM87.4 678.9l4.9 8.5h-9.8zM87.8 678.6l4.9 8.5h-9.8zM88.1 678.3l4.9 8.5h-9.8zM88.4 678.0l4.9 8.5h-9.8zM88.8 677.7l4.9 8.5h-9.8zM89.1 677.4l4.9 8.5h-9.8zM89.4 677.1l4.9 8.5h-9.8zM89.8 676.8l4.9 8.5h-9.8zM90.1 676.5l4.9 8.5h-9.8zM90.4 676.2l4.9 8.5h-9.8zM90.8 675.9l4.9 8.5h-9.8zM91.1 675.6l4.9 8.5h-9.8zM91.5 675.2l4.9 8.5h-9.8zM91.8 674.9l4.9 8.5h-9.8zM92.1 674.6l4.9 8.5h-9.8zM92.5 674.3l4.9 8.5h-9.8zM92.8 674.0l4.9 8.5h-9.8zM93.1 673.6l4.9 8.5h-9.8zM93.5 673.3l4.9 8.5h-9.8zM93.8 673.0l4.9 8.5h-9.8zM94.1 672.7l4.9 8.5h-9.8zM94.5 672.4l4.9 8.5h-9.8zM94.8 672.1l4.9 8.5h-9.8zM95.2 671.8l4.9 8.5h-9.8zM95.5 671.5l4.9 8.5h-9.8zM95.8 671.2l4.9 8.5h-9.8zM96.2 671.0l4.9 8.5h-9.8zM96.5 670.7l4.9 8.5h-9.8zM96.8 670.4l4.9 8.5h-9.8zM97.2 670.2l4.9 8.5h-9.8zM97.5 669.9l4.9 8.5h-9.8zM97.8 669.6l4.9 8.5h-9.8zM98.2 669.4l4.9 8.5h-9.8zM98.5 669.1l4.9 8.5h-9.8zM98.9 668.8l4.9 8.5h-9.8zM99.2 668.6l4.9 8.5h-9.8zM99.5 668.3l4.9 8.5h-9.8zM99.9 668.0l4.9 8.5h-9.8zM100.2 667.7l4.9 8.5h-9.8zM100.5 667.4l4.9 8.5h-9.8zM100.9 667.1l4.9 8.5h-9.8zM101.2 666.7l4.9 8.5h-9.8zM101.6 666.4l4.9 8.5h-9.8zM101.9 666.1l4.9 8.5h-9.8zM102.2 665.7l4.9 8.5h-9.8zM102.6 665.4l4.9 8.5h-9.8zM102.9 665.0l4.9 8.5h-9.8zM103.2 664.6l4.9 8.5h-9.8zM103.6 664.3l4.9 8.5h-9.8zM103.9 663.9l4.9 8.5h-9.8zM104.2 663.6l4.9 8.5h-9.8zM104.6 663.2l4.9 8.5h-9.8zM104.9 662.9l4.9 8.5h-9.8zM105.3 662.6l4.9 8.5h-9.8zM105.6 662.3l4.9 8.5h-9.8zM105.9 661.9l4.9 8.5h-9.8zM106.3 661.6l4.9 8.5h-9.8zM106.6 661.3l4.9 8.5h-9.8zM106.9 661.1l4.9 8.5h-9.8zM107.3 660.8l4.9 8.5h-9.8zM107.6 660.5l4.9 8.5h-9.8zM107.9 660.2l4.9 8.5h-9.8zM108.3 660.0l4.9 8.5h-9.8zM108.6 659.7l4.9 8.5h-9.8zM109.0 659.4l4.9 8.5h-9.8zM109.3 659.2l4.9 8.5h-9.8zM109.6 658.9l4.9 8.5h-9.8zM110.0 658.6l4.9 8.5h-9.8zM110.3 658.3l4.9 8.5h-9.8zM110.6 658.0l4.9 8.5h-9.8zM111.0 657.7l4.9 8.5h-9.8zM111.3 657.4l4.9 8.5h-9.8zM111.6 657.1l4.9 8.5h-9.8zM112.0 656.8l4.9 8.5h-9.8zM112.3 656.5l4.9 8.5h-9.8zM112.7 656.1l4.9 8.5h-9.8zM113.0 655.8l4.9 8.5h-9.8zM113.3 655.5l4.9 8.5h-9.8zM113.7 655.2l4.9 8.5h-9.8zM114.0 654.9l4.9 8.5h-9.8zM114.3 654.6l4.9 8.5h-9.8zM114.7 654.3l4.9 8.5h-9.8zM115.0 654.0l4.9 8.5h-9.8zM115.3 653.7l4.9 8.5h-9.8zM115.7 653.5l4.9 8.5h-9.8zM116.0 653.2l4.9 8.5h-9.8zM116.4 653.0l4.9 8.5h-9.8zM116.7 652.8l4.9 8.5h-9.8zM117.0 652.6l4.9 8.5h-9.8zM117.4 652.4l4.9 8.5h-9.8zM117.7 652.2l4.9 8.5h-9.8zM118.0 652.0l4.9 8.5h-9.8zM118.4 651.8l4.9 8.5h-9.8zM118.7 651.6l4.9 8.5h-9.8zM119.0 651.4l4.9 8.5h-9.8zM119.4 651.2l4.9 8.5h-9.8zM119.7 651.0l4.9 8.5h-9.8zM120.1 650.7l4.9 8.5h-9.8zM120.4 650.5l4.9 8.5h-9.8zM120.7 650.2l4.9 8.5h-9.8zM121.1 650.0l4.9 8.5h-9.8zM121.4 649.7l4.9 8.5h-9.8zM121.7 649.4l4.9 8.5h-9.8zM122.1 649.1l4.9 8.5h-9.8zM122.4 648.8l4.9 8.5h-9.8zM122.7 648.5l4.9 8.5h-9.8zM123.1 648.1l4.9 8.5h-9.8zM123.4 647.8l4.9 8.5h-9.8zM123.8 647.4l4.9 8.5h-9.8zM124.1 647.1l4.9 8.5h-9.8zM124.4 646.7l4.9 8.5h-9.8zM124.8 646.4l4.9 8.5h-9.8zM125.1 646.1l4.9 8.5h-9.8zM125.4 645.7l4.9 8.5h-9.8zM125.8 645.4l4.9 8.5h-9.8zM126.1 645.1l4.9 8.5h-9.8zM126.4 644.8l4.9 8.5h-9.8zM126.8 644.5l4.9 8.5h-9.8zM127.1 644.2l4.9 8.5h-9.8zM127.5 643.9l4.9 8.5h-9.8zM127.8 643.6l4.9 8.5h-9.8zM128.1 643.4l4.9 8.5h-9.8zM128.5 643.1l4.9 8.5h-9.8zM128.8 642.8l4.9 8.5h-9.8zM129.1 642.5l4.9 8.5h-9.8zM129.5 642.2l4.9 8.5h-9.8zM129.8 642.0l4.9 8.5h-9.8zM130.1 641.7l4.9 8.5h-9.8zM130.5 641.3l4.9 8.5h-9.8zM130.8 641.0l4.9 8.5h-9.8zM131.2 640.7l4.9 8.5h-9.8zM131.5 640.4l4.9 8.5h-9.8zM131.8 640.0l4.9 8.5h-9.8zM132.2 639.6l4.9 8.5h-9.8zM132.5 639.3l4.9 8.5h-9.8zM132.8 638.9l4.9 8.5h-9.8zM133.2 638.5l4.9 8.5h-9.8zM133.5 638.1l4.9 8.5h-9.8zM133.9 637.7l4.9 8.5h-9.8zM134.2 637.3l4.9 8.5h-9.8zM134.5 637.0l4.9 8.5h-9.8zM134.9 636.6l4.9 8.5h-9.8zM135.2 636.2l4.9 8.5h-9.8zM135.5 635.9l4.9 8.5h-9.8zM135.9 635.6l4.9 8.5h-9.8zM136.2 635.3l4.9 8.5h-9.8zM136.5 635.0l4.9 8.5h-9.8zM136.9 634.7l4.9 8.5h-9.8zM137.2 634.4l4.9 8.5h-9.8zM137.6 634.2l4.9 8.5h-9.8zM137.9 633.9l4.9 8.5h-9.8zM138.2 633.7l4.9 8.5h-9.8zM138.6 633.5l4.9 8.5h-9.8zM138.9 633.3l4.9 8.5h-9.8zM139.2 633.0l4.9 8.5h-9.8zM139.6 632.8l4.9 8.5h-9.8zM139.9 632.6l4.9 8.5h-9.8zM140.2 632.4l4.9 8.5h-9.8zM140.6 632.1l4.9 8.5h-9.8zM140.9 631.9l4.9 8.5h-9.8zM141.3 631.6l4.9 8.5h-9.8zM141.6 631.3l4.9 8.5h-9.8zM141.9 631.1l4.9 8.5h-9.8zM142.3 630.7l4.9 8.5h-9.8zM142.6 630.4l4.9 8.5h-9.8zM142.9 630.1l4.9 8.5h-9.8zM143.3 629.8l4.9 8.5h-9.8zM143.6 629.4l4.9 8.5h-9.8zM143.9 629.0l4.9 8.5h-9.8zM144.3 628.7l4.9 8.5h-9.8zM144.6 628.3l4.9 8.5h-9.8zM145.0 628.0l4.9 8.5h-9.8zM145.3 627.6l4.9 8.5h-9.8zM145.6 627.2l4.9 8.5h-9.8zM146.0 626.9l4.9 8.5h-9.8zM146.3 626.6l4.9 8.5h-9.8zM146.6 626.2l4.9 8.5h-9.8zM147.0 625.9l4.9 8.5h-9.8zM147.3 625.6l4.9 8.5h-9.8zM147.6 625.3l4.9 8.5h-9.8zM148.0 625.0l4.9 8.5h-9.8zM148.3 624.8l4.9 8.5h-9.8zM148.7 624.5l4.9 8.5h-9.8zM149.0 624.2l4.9 8.5h-9.8zM149.3 623.9l4.9 8.5h-9.8zM149.7 623.7l4.9 8.5h-9.8zM150.0 623.4l4.9 8.5h-9.8zM150.3 623.1l4.9 8.5h-9.8zM150.7 622.8l4.9 8.5h-9.8zM151.0 622.4l4.9 8.5h-9.8zM151.3 622.1l4.9 8.5h-9.8zM151.7 621.7l4.9 8.5h-9.8zM152.0 621.4l4.9 8.5h-9.8zM152.4 621.0l4.9 8.5h-9.8zM152.7 620.6l4.9 8.5h-9.8zM153.0 620.2l4.9 8.5h-9.8zM153.4 619.8l4.9 8.5h-9.8zM153.7 619.4l4.9 8.5h-9.8zM154.0 618.9l4.9 8.5h-9.8zM154.4 618.5l4.9 8.5h-9.8zM154.7 618.1l4.9 8.5h-9.8zM155.0 617.7l4.9 8.5h-9.8zM155.4 617.2l4.9 8.5h-9.8zM155.7 616.8l4.9 8.5h-9.8zM156.1 616.5l4.9 8.5h-9.8zM156.4 616.1l4.9 8.5h-9.8zM156.7 615.8l4.9 8.5h-9.8zM157.1 615.4l4.9 8.5h-9.8zM157.4 615.1l4.9 8.5h-9.8zM157.7 614.8l4.9 8.5h-9.8zM158.1 614.6l4.9 8.5h-9.8zM158.4 614.3l4.9 8.5h-9.8zM158.7 614.1l4.9 8.5h-9.8zM159.1 613.8l4.9 8.5h-9.8zM159.4 613.6l4.9 8.5h-9.8zM159.8 613.4l4.9 8.5h-9.8zM160.1 613.2l4.9 8.5h-9.8zM160.4 613.0l4.9 8.5h-9.8zM160.8 612.8l4.9 8.5h-9.8zM161.1 612.5l4.9 8.5h-9.8zM161.4 612.3l4.9 8.5h-9.8zM161.8 612.1l4.9 8.5h-9.8zM162.1 611.8l4.9 8.5h-9.8zM162.5 611.6l4.9 8.5h-9.8zM162.8 611.3l4.9 8.5h-9.8zM163.1 611.0l4.9 8.5h-9.8zM163.5 610.7l4.9 8.5h-9.8zM163.8 610.4l4.9 8.5h-9.8zM164.1 610.1l4.9 8.5h-9.8zM164.5 609.8l4.9 8.5h-9.8zM164.8 609.5l4.9 8.5h-9.8zM165.1 609.2l4.9 8.5h-9.8zM165.5 608.9l4.9 8.5h-9.8zM165.8 608.6l4.9 8.5h-9.8zM166.2 608.3l4.9 8.5h-9.8zM166.5 608.0l4.9 8.5h-9.8zM166.8 607.7l4.9 8.5h-9.8zM167.2 607.5l4.9 8.5h-9.8zM167.5 607.3l4.9 8.5h-9.8zM167.8 607.0l4.9 8.5h-9.8zM168.2 606.8l4.9 8.5h-9.8zM168.5 606.6l4.9 8.5h-9.8zM168.8 606.4l4.9 8.5h-9.8zM169.2 606.2l4.9 8.5h-9.8zM169.5 606.1l4.9 8.5h-9.8zM169.9 605.9l4.9 8.5h-9.8zM170.2 605.7l4.9 8.5h-9.8zM170.5 605.5l4.9 8.5h-9.8zM170.9 605.3l4.9 8.5h-9.8zM171.2 605.0l4.9 8.5h-9.8zM171.5 604.8l4.9 8.5h-9.8zM171.9 604.5l4.9 8.5h-9.8zM172.2 604.3l4.9 8.5h-9.8zM172.5 604.0l4.9 8.5h-9.8zM172.9 603.6l4.9 8.5h-9.8zM173.2 603.3l4.9 8.5h-9.8zM173.6 603.0l4.9 8.5h-9.8zM173.9 602.6l4.9 8.5h-9.8zM174.2 602.2l4.9 8.5h-9.8zM174.6 601.8l4.9 8.5h-9.8zM174.9 601.4l4.9 8.5h-9.8zM175.2 601.0l4.9 8.5h-9.8zM175.6 600.6l4.9 8.5h-9.8zM175.9 600.2l4.9 8.5h-9.8zM176.2 599.9l4.9 8.5h-9.8zM176.6 599.5l4.9 8.5h-9.8zM176.9 599.1l4.9 8.5h-9.8zM177.3 598.8l4.9 8.5h-9.8zM177.6 598.5l4.9 8.5h-9.8zM177.9 598.1l4.9 8.5h-9.8zM178.3 597.9l4.9 8.5h-9.8zM178.6 597.6l4.9 8.5h-9.8zM178.9 597.3l4.9 8.5h-9.8zM179.3 597.1l4.9 8.5h-9.8zM179.6 596.8l4.9 8.5h-9.8zM179.9 596.6l4.9 8.5h-9.8zM180.3 596.4l4.9 8.5h-9.8zM180.6 596.1l4.9 8.5h-9.8zM181.0 595.9l4.9 8.5h-9.8zM181.3 595.7l4.9 8.5h-9.8zM181.6 595.4l4.9 8.5h-9.8zM182.0 595.2l4.9 8.5h-9.8zM182.3 594.9l4.9 8.5h-9.8zM182.6 594.6l4.9 8.5h-9.8zM183.0 594.3l4.9 8.5h-9.8zM183.3 594.1l4.9 8.5h-9.8zM183.6 593.7l4.9 8.5h-9.8zM184.0 593.4l4.9 8.5h-9.8zM184.3 593.1l4.9 8.5h-9.8zM184.7 592.8l4.9 8.5h-9.8zM185.0 592.4l4.9 8.5h-9.8zM185.3 592.1l4.9 8.5h-9.8zM185.7 591.8l4.9 8.5h-9.8zM186.0 591.4l4.9 8.5h-9.8zM186.3 591.1l4.9 8.5h-9.8zM186.7 590.8l4.9 8.5h-9.8zM187.0 590.5l4.9 8.5h-9.8zM187.3 590.2l4.9 8.5h-9.8zM187.7 590.0l4.9 8.5h-9.8zM188.0 589.7l4.9 8.5h-9.8zM188.4 589.5l4.9 8.5h-9.8zM188.7 589.3l4.9 8.5h-9.8zM189.0 589.1l4.9 8.5h-9.8zM189.4 588.9l4.9 8.5h-9.8zM189.7 588.7l4.9 8.5h-9.8zM190.0 588.5l4.9 8.5h-9.8zM190.4 588.3l4.9 8.5h-9.8zM190.7 588.2l4.9 8.5h-9.8zM191.0 588.0l4.9 8.5h-9.8zM191.4 587.8l4.9 8.5h-9.8zM191.7 587.5l4.9 8.5h-9.8zM192.1 587.3l4.9 8.5h-9.8zM192.4 587.1l4.9 8.5h-9.8zM192.7 586.8l4.9 8.5h-9.8zM193.1 586.5l4.9 8.5h-9.8zM193.4 586.2l4.9 8.5h-9.8zM193.7 585.8l4.9 8.5h-9.8zM194.1 585.5l4.9 8.5h-9.8zM194.4 585.1l4.9 8.5h-9.8zM194.8 584.7l4.9 8.5h-9.8zM195.1 584.3l4.9 8.5h-9.8zM195.4 583.9l4.9 8.5h-9.8zM195.8 583.5l4.9 8.5h-9.8zM196.1 583.1l4.9 8.5h-9.8zM196.4 582.7l4.9 8.5h-9.8zM196.8 582.3l4.9 8.5h-9.8zM197.1 581.8l4.9 8.5h-9.8zM197.4 581.4l4.9 8.5h-9.8zM197.8 581.1l4.9 8.5h-9.8zM198.1 580.7l4.9 8.5h-9.8zM198.5 580.3l4.9 8.5h-9.8zM198.8 580.0l4.9 8.5h-9.8zM199.1 579.6l4.9 8.5h-9.8zM199.5 579.3l4.9 8.5h-9.8zM199.8 579.0l4.9 8.5h-9.8zM200.1 578.7l4.9 8.5h-9.8zM200.5 578.4l4.9 8.5h-9.8zM200.8 578.1l4.9 8.5h-9.8zM201.1 577.8l4.9 8.5h-9.8zM201.5 577.5l4.9 8.5h-9.8zM201.8 577.2l4.9 8.5h-9.8zM202.2 576.9l4.9 8.5h-9.8zM202.5 576.5l4.9 8.5h-9.8zM202.8 576.2l4.9 8.5h-9.8zM203.2 575.9l4.9 8.5h-9.8zM203.5 575.5l4.9 8.5h-9.8zM203.8 575.1l4.9 8.5h-9.8zM204.2 574.7l4.9 8.5h-9.8zM204.5 574.3l4.9 8.5h-9.8zM204.8 573.9l4.9 8.5h-9.8zM205.2 573.5l4.9 8.5h-9.8zM205.5 573.1l4.9 8.5h-9.8zM205.9 572.7l4.9 8.5h-9.8zM206.2 572.3l4.9 8.5h-9.8zM206.5 571.9l4.9 8.5h-9.8zM206.9 571.5l4.9 8.5h-9.8zM207.2 571.2l4.9 8.5h-9.8zM207.5 570.8l4.9 8.5h-9.8zM207.9 570.5l4.9 8.5h-9.8zM208.2 570.2l4.9 8.5h-9.8zM208.5 569.9l4.9 8.5h-9.8zM208.9 569.6l4.9 8.5h-9.8zM209.2 569.3l4.9 8.5h-9.8zM209.6 569.1l4.9 8.5h-9.8zM209.9 568.9l4.9 8.5h-9.8zM210.2 568.7l4.9 8.5h-9.8zM210.6 568.5l4.9 8.5h-9.8zM210.9 568.3l4.9 8.5h-9.8zM211.2 568.1l4.9 8.5h-9.8zM211.6 567.9l4.9 8.5h-9.8zM211.9 567.7l4.9 8.5h-9.8zM212.2 567.5l4.9 8.5h-9.8zM212.6 567.3l4.9 8.5h-9.8zM212.9 567.0l4.9 8.5h-9.8zM213.3 566.8l4.9 8.5h-9.8zM213.6 566.5l4.9 8.5h-9.8zM213.9 566.3l4.9 8.5h-9.8zM214.3 566.0l4.9 8.5h-9.8zM214.6 565.7l4.9 8.5h-9.8zM214.9 565.4l4.9 8.5h-9.8zM215.3 565.0l4.9 8.5h-9.8zM215.6 564.7l4.9 8.5h-9.8zM215.9 564.3l4.9 8.5h-9.8zM216.3 564.0l4.9 8.5h-9.8zM216.6 563.6l4.9 8.5h-9.8zM217.0 563.3l4.9 8.5h-9.8zM217.3 562.9l4.9 8.5h-9.8zM217.6 562.5l4.9 8.5h-9.8zM218.0 562.2l4.9 8.5h-9.8zM218.3 561.9l4.9 8.5h-9.8zM218.6 561.6l4.9 8.5h-9.8zM219.0 561.3l4.9 8.5h-9.8zM219.3 561.0l4.9 8.5h-9.8zM219.6 560.7l4.9 8.5h-9.8zM220.0 560.4l4.9 8.5h-9.8zM220.3 560.2l4.9 8.5h-9.8zM220.7 559.9l4.9 8.5h-9.8zM221.0 559.6l4.9 8.5h-9.8zM221.3 559.4l4.9 8.5h-9.8zM221.7 559.1l4.9 8.5h-9.8zM222.0 558.9l4.9 8.5h-9.8zM222.3 558.6l4.9 8.5h-9.8zM222.7 558.3l4.9 8.5h-9.8zM223.0 558.0l4.9 8.5h-9.8zM223.3 557.7l4.9 8.5h-9.8zM223.7 557.4l4.9 8.5h-9.8zM224.0 557.1l4.9 8.5h-9.8zM224.4 556.8l4.9 8.5h-9.8zM224.7 556.4l4.9 8.5h-9.8zM225.0 556.0l4.9 8.5h-9.8zM225.4 555.7l4.9 8.5h-9.8zM225.7 555.3l4.9 8.5h-9.8zM226.0 554.9l4.9 8.5h-9.8zM226.4 554.5l4.9 8.5h-9.8zM226.7 554.1l4.9 8.5h-9.8zM227.1 553.7l4.9 8.5h-9.8zM227.4 553.4l4.9 8.5h-9.8zM227.7 553.0l4.9 8.5h-9.8zM228.1 552.6l4.9 8.5h-9.8zM228.4 552.3l4.9 8.5h-9.8zM228.7 552.0l4.9 8.5h-9.8zM229.1 551.7l4.9 8.5h-9.8zM229.4 551.4l4.9 8.5h-9.8zM229.7 551.2l4.9 8.5h-9.8zM230.1 551.0l4.9 8.5h-9.8zM230.4 550.7l4.9 8.5h-9.8zM230.8 550.5l4.9 8.5h-9.8zM231.1 550.3l4.9 8.5h-9.8zM231.4 550.2l4.9 8.5h-9.8zM231.8 550.0l4.9 8.5h-9.8zM232.1 549.8l4.9 8.5h-9.8zM232.4 549.6l4.9 8.5h-9.8zM232.8 549.4l4.9 8.5h-9.8zM233.1 549.2l4.9 8.5h-9.8zM233.4 549.0l4.9 8.5h-9.8zM233.8 548.8l4.9 8.5h-9.8zM234.1 548.6l4.9 8.5h-9.8zM234.5 548.4l4.9 8.5h-9.8zM234.8 548.1l4.9 8.5h-9.8zM235.1 547.9l4.9 8.5h-9.8zM235.5 547.6l4.9 8.5h-9.8zM235.8 547.3l4.9 8.5h-9.8zM236.1 547.0l4.9 8.5h-9.8zM236.5 546.7l4.9 8.5h-9.8zM236.8 546.4l4.9 8.5h-9.8zM237.1 546.1l4.9 8.5h-9.8zM237.5 545.8l4.9 8.5h-9.8zM237.8 545.5l4.9 8.5h-9.8zM238.2 545.2l4.9 8.5h-9.8zM238.5 544.9l4.9 8.5h-9.8zM238.8 544.6l4.9 8.5h-9.8zM239.2 544.4l4.9 8.5h-9.8zM239.5 544.1l4.9 8.5h-9.8zM239.8 543.9l4.9 8.5h-9.8zM240.2 543.6l4.9 8.5h-9.8zM240.5 543.4l4.9 8.5h-9.8zM240.8 543.2l4.9 8.5h-9.8zM241.2 542.9l4.9 8.5h-9.8zM241.5 542.7l4.9 8.5h-9.8zM241.9 542.5l4.9 8.5h-9.8zM242.2 542.3l4.9 8.5h-9.8zM242.5 542.0l4.9 8.5h-9.8zM242.9 541.8l4.9 8.5h-9.8zM243.2 541.5l4.9 8.5h-9.8zM243.5 541.3l4.9 8.5h-9.8zM243.9 541.0l4.9 8.5h-9.8zM244.2 540.7l4.9 8.5h-9.8zM244.5 540.4l4.9 8.5h-9.8zM244.9 540.0l4.9 8.5h-9.8zM245.2 539.7l4.9 8.5h-9.8zM245.6 539.3l4.9 8.5h-9.8zM245.9 538.9l4.9 8.5h-9.8zM246.2 538.5l4.9 8.5h-9.8zM246.6 538.1l4.9 8.5h-9.8zM246.9 537.7l4.9 8.5h-9.8zM247.2 537.3l4.9 8.5h-9.8zM247.6 536.9l4.9 8.5h-9.8zM247.9 536.5l4.9 8.5h-9.8zM248.2 536.1l4.9 8.5h-9.8zM248.6 535.7l4.9 8.5h-9.8zM248.9 535.3l4.9 8.5h-9.8zM249.3 534.9l4.9 8.5h-9.8zM249.6 534.6l4.9 8.5h-9.8zM249.9 534.3l4.9 8.5h-9.8zM250.3 533.9l4.9 8.5h-9.8zM250.6 533.6l4.9 8.5h-9.8zM250.9 533.3l4.9 8.5h-9.8zM251.3 533.0l4.9 8.5h-9.8zM251.6 532.8l4.9 8.5h-9.8zM251.9 532.5l4.9 8.5h-9.8zM252.3 532.2l4.9 8.5h-9.8zM252.6 532.0l4.9 8.5h-9.8zM253.0 531.7l4.9 8.5h-9.8zM253.3 531.5l4.9 8.5h-9.8zM253.6 531.2l4.9 8.5h-9.8zM254.0 530.9l4.9 8.5h-9.8zM254.3 530.6l4.9 8.5h-9.8zM254.6 530.3l4.9 8.5h-9.8zM255.0 530.0l4.9 8.5h-9.8zM255.3 529.7l4.9 8.5h-9.8zM255.7 529.4l4.9 8.5h-9.8zM256.0 529.1l4.9 8.5h-9.8zM256.3 528.7l4.9 8.5h-9.8zM256.7 528.4l4.9 8.5h-9.8zM257.0 528.1l4.9 8.5h-9.8zM257.3 527.7l4.9 8.5h-9.8zM257.7 527.4l4.9 8.5h-9.8zM258.0 527.0l4.9 8.5h-9.8zM258.3 526.7l4.9 8.5h-9.8zM258.7 526.4l4.9 8.5h-9.8zM259.0 526.0l4.9 8.5h-9.8zM259.4 525.7l4.9 8.5h-9.8zM259.7 525.4l4.9 8.5h-9.8zM260.0 525.1l4.9 8.5h-9.8zM260.4 524.9l4.9 8.5h-9.8zM260.7 524.6l4.9 8.5h-9.8zM261.0 524.3l4.9 8.5h-9.8zM261.4 524.1l4.9 8.5h-9.8zM261.7 523.9l4.9 8.5h-9.8zM262.0 523.6l4.9 8.5h-9.8zM262.4 523.4l4.9 8.5h-9.8zM262.7 523.1l4.9 8.5h-9.8zM263.1 522.9l4.9 8.5h-9.8zM263.4 522.7l4.9 8.5h-9.8zM263.7 522.4l4.9 8.5h-9.8zM264.1 522.1l4.9 8.5h-9.8zM264.4 521.8l4.9 8.5h-9.8zM264.7 521.6l4.9 8.5h-9.8zM265.1 521.2l4.9 8.5h-9.8zM265.4 520.9l4.9 8.5h-9.8zM265.7 520.6l4.9 8.5h-9.8zM266.1 520.2l4.9 8.5h-9.8zM266.4 519.9l4.9 8.5h-9.8zM266.8 519.5l4.9 8.5h-9.8zM267.1 519.1l4.9 8.5h-9.8zM267.4 518.7l4.9 8.5h-9.8zM267.8 518.4l4.9 8.5h-9.8zM268.1 518.0l4.9 8.5h-9.8zM268.4 517.6l4.9 8.5h-9.8zM268.8 517.2l4.9 8.5h-9.8zM269.1 516.8l4.9 8.5h-9.8zM269.4 516.4l4.9 8.5h-9.8zM269.8 516.1l4.9 8.5h-9.8zM270.1 515.7l4.9 8.5h-9.8zM270.5 515.4l4.9 8.5h-9.8zM270.8 515.1l4.9 8.5h-9.8zM271.1 514.7l4.9 8.5h-9.8zM271.5 514.4l4.9 8.5h-9.8zM271.8 514.1l4.9 8.5h-9.8zM272.1 513.8l4.9 8.5h-9.8zM272.5 513.6l4.9 8.5h-9.8zM272.8 513.3l4.9 8.5h-9.8zM273.1 513.0l4.9 8.5h-9.8zM273.5 512.7l4.9 8.5h-9.8zM273.8 512.4l4.9 8.5h-9.8zM274.2 512.1l4.9 8.5h-9.8zM274.5 511.8l4.9 8.5h-9.8zM274.8 511.5l4.9 8.5h-9.8zM275.2 511.2l4.9 8.5h-9.8zM275.5 510.9l4.9 8.5h-9.8zM275.8 510.6l4.9 8.5h-9.8zM276.2 510.3l4.9 8.5h-9.8zM276.5 510.0l4.9 8.5h-9.8zM276.8 509.6l4.9 8.5h-9.8zM277.2 509.3l4.9 8.5h-9.8zM277.5 509.0l4.9 8.5h-9.8zM277.9 508.7l4.9 8.5h-9.8zM278.2 508.3l4.9 8.5h-9.8zM278.5 508.0l4.9 8.5h-9.8zM278.9 507.7l4.9 8.5h-9.8zM279.2 507.4l4.9 8.5h-9.8zM279.5 507.1l4.9 8.5h-9.8zM279.9 506.8l4.9 8.5h-9.8zM280.2 506.5l4.9 8.5h-9.8zM280.5 506.2l4.9 8.5h-9.8zM280.9 506.0l4.9 8.5h-9.8zM281.2 505.7l4.9 8.5h-9.8zM281.6 505.5l4.9 8.5h-9.8zM281.9 505.2l4.9 8.5h-9.8zM282.2 505.0l4.9 8.5h-9.8zM282.6 504.8l4.9 8.5h-9.8zM282.9 504.5l4.9 8.5h-9.8zM283.2 504.3l4.9 8.5h-9.8zM283.6 504.1l4.9 8.5h-9.8zM283.9 503.9l4.9 8.5h-9.8zM284.2 503.6l4.9 8.5h-9.8zM284.6 503.4l4.9 8.5h-9.8zM284.9 503.2l4.9 8.5h-9.8zM285.3 502.9l4.9 8.5h-9.8zM285.6 502.6l4.9 8.5h-9.8zM285.9 502.4l4.9 8.5h-9.8zM286.3 502.1l4.9 8.5h-9.8zM286.6 501.8l4.9 8.5h-9.8zM286.9 501.5l4.9 8.5h-9.8zM287.3 501.2l4.9 8.5h-9.8zM287.6 500.9l4.9 8.5h-9.8zM288.0 500.6l4.9 8.5h-9.8zM288.3 500.2l4.9 8.5h-9.8zM288.6 499.9l4.9 8.5h-9.8zM289.0 499.6l4.9 8.5h-9.8zM289.3 499.3l4.9 8.5h-9.8zM289.6 499.0l4.9 8.5h-9.8zM290.0 498.7l4.9 8.5h-9.8zM290.3 498.3l4.9 8.5h-9.8zM290.6 498.0l4.9 8.5h-9.8zM291.0 497.7l4.9 8.5h-9.8zM291.3 497.4l4.9 8.5h-9.8zM291.7 497.1l4.9 8.5h-9.8zM292.0 496.9l4.9 8.5h-9.8zM292.3 496.6l4.9 8.5h-9.8zM292.7 496.3l4.9 8.5h-9.8zM293.0 496.0l4.9 8.5h-9.8zM293.3 495.7l4.9 8.5h-9.8zM293.7 495.4l4.9 8.5h-9.8zM294.0 495.1l4.9 8.5h-9.8zM294.3 494.9l4.9 8.5h-9.8zM294.7 494.6l4.9 8.5h-9.8zM295.0 494.3l4.9 8.5h-9.8zM295.4 494.0l4.9 8.5h-9.8zM295.7 493.7l4.9 8.5h-9.8zM296.0 493.4l4.9 8.5h-9.8zM296.4 493.0l4.9 8.5h-9.8zM296.7 492.7l4.9 8.5h-9.8zM297.0 492.4l4.9 8.5h-9.8zM297.4 492.1l4.9 8.5h-9.8zM297.7 491.8l4.9 8.5h-9.8zM298.0 491.4l4.9 8.5h-9.8zM298.4 491.1l4.9 8.5h-9.8zM298.7 490.8l4.9 8.5h-9.8zM299.1 490.5l4.9 8.5h-9.8zM299.4 490.2l4.9 8.5h-9.8zM299.7 489.9l4.9 8.5h-9.8zM300.1 489.6l4.9 8.5h-9.8zM300.4 489.3l4.9 8.5h-9.8z" fill="none" stroke="#000" stroke-width="1.07" stroke-linejoin="miter"/>
<path d="M76.8 694.1L309 487.3" stroke="#DF536B" stroke-width="1.1" fill="none"/>
<path class="ax" d="M76.8 494.9V686.5M76.8 686.5h-10.3M76.8 648.1h-10.3M76.8 609.8h-10.3M76.8 571.5h-10.3M76.8 533.2h-10.3M76.8 494.9h-10.3M85.4 694.1H300.4M85.4 694.1v10.3M128.4 694.1v10.3M171.4 694.1v10.3M214.4 694.1v10.3M257.4 694.1v10.3M300.4 694.1v10.3"/>
<text class="m" x="85.4" y="729.6">0.0</text>
<text class="m" x="128.4" y="729.6">0.2</text>
<text class="m" x="171.4" y="729.6">0.4</text>
<text class="m" x="214.4" y="729.6">0.6</text>
<text class="m" x="257.4" y="729.6">0.8</text>
<text class="m" x="300.4" y="729.6">1.0</text>
<text class="m" transform="translate(53.1 686.5) rotate(-90)">0.0</text>
<text class="m" transform="translate(53.1 648.1) rotate(-90)">0.2</text>
<text class="m" transform="translate(53.1 609.8) rotate(-90)">0.4</text>
<text class="m" transform="translate(53.1 571.5) rotate(-90)">0.6</text>
<text class="m" transform="translate(53.1 533.2) rotate(-90)">0.8</text>
<text class="m" transform="translate(53.1 494.9) rotate(-90)">1.0</text>
<text class="m b" x="192.9" y="452.1">QQ plot residuals</text>
<text class="m" x="192.9" y="770.1">Expected</text>
<text class="m" transform="translate(13 590.7) rotate(-90)">Observed</text>
<text class="k" x="107.2" y="513.3">KS test: p= 0.83761</text>
<text class="k" x="107.2" y="532.9">Deviation  n.s.</text>
<text class="k" x="111.4" y="586.6">Dispersion test: p= 0.744</text>
<text class="k" x="111.4" y="606.2">Deviation  n.s.</text>
<text class="k" x="127.2" y="660.1">Outlier test: p= 0.59432</text>
<text class="k" x="127.2" y="679.7">Deviation  n.s.</text>
<g filter="url(#bl)" fill="none" stroke="#000" stroke-opacity="0.25" stroke-width="1.3"><circle cx="467" cy="170.7" r="3.5"/><circle cx="632.3" cy="160" r="3.5"/><circle cx="502.2" cy="181.4" r="3.5"/><circle cx="507.2" cy="173" r="3.5"/><circle cx="453.4" cy="172.2" r="3.5"/><circle cx="644.8" cy="258" r="3.5"/><circle cx="498.3" cy="166.8" r="3.5"/><circle cx="565.2" cy="193.7" r="3.5"/><circle cx="606.2" cy="223.5" r="3.5"/><circle cx="608.8" cy="222" r="3.5"/><circle cx="474.2" cy="169.9" r="3.5"/><circle cx="624.8" cy="189.8" r="3.5"/><circle cx="565.2" cy="192.1" r="3.5"/><circle cx="615.5" cy="236.6" r="3.5"/><circle cx="604.5" cy="167.6" r="3.5"/><circle cx="582.1" cy="182.9" r="3.5"/><circle cx="540.8" cy="196.7" r="3.5"/><circle cx="489.1" cy="169.9" r="3.5"/><circle cx="452.7" cy="156.1" r="3.5"/><circle cx="595.1" cy="172.2" r="3.5"/><circle cx="498.6" cy="173" r="3.5"/><circle cx="511.2" cy="182.2" r="3.5"/><circle cx="541" cy="192.9" r="3.5"/><circle cx="632.6" cy="248.8" r="3.5"/><circle cx="526.2" cy="179.9" r="3.5"/><circle cx="540.9" cy="189.8" r="3.5"/><circle cx="486.1" cy="175.3" r="3.5"/><circle cx="463" cy="144.6" r="3.5"/><circle cx="594.6" cy="210.5" r="3.5"/><circle cx="480.4" cy="168.4" r="3.5"/><circle cx="554.6" cy="191.4" r="3.5"/><circle cx="445.2" cy="155.4" r="3.5"/><circle cx="583.2" cy="195.2" r="3.5"/><circle cx="595.8" cy="204.4" r="3.5"/><circle cx="541.1" cy="187.5" r="3.5"/><circle cx="455.1" cy="162.3" r="3.5"/><circle cx="556.7" cy="185.2" r="3.5"/><circle cx="613" cy="178.3" r="3.5"/><circle cx="458.4" cy="148.5" r="3.5"/><circle cx="585.9" cy="191.4" r="3.5"/><circle cx="601.7" cy="173" r="3.5"/><circle cx="461.8" cy="163" r="3.5"/><circle cx="521.1" cy="189.1" r="3.5"/><circle cx="595.5" cy="214.3" r="3.5"/><circle cx="444.6" cy="155.4" r="3.5"/><circle cx="549.7" cy="182.9" r="3.5"/><circle cx="481.3" cy="174.5" r="3.5"/><circle cx="580.5" cy="148.5" r="3.5"/><circle cx="532" cy="189.1" r="3.5"/><circle cx="459.1" cy="153.1" r="3.5"/><circle cx="486.8" cy="166.1" r="3.5"/><circle cx="592" cy="169.9" r="3.5"/><circle cx="615.2" cy="230.4" r="3.5"/><circle cx="622.1" cy="124.7" r="3.5"/><circle cx="621.2" cy="220.5" r="3.5"/><circle cx="545.9" cy="199" r="3.5"/><circle cx="524.3" cy="181.4" r="3.5"/><circle cx="618.5" cy="184.5" r="3.5"/><circle cx="492" cy="133.1" r="3.5"/><circle cx="612.9" cy="225.8" r="3.5"/><circle cx="483" cy="166.8" r="3.5"/><circle cx="520.6" cy="174.5" r="3.5"/><circle cx="520.7" cy="180.6" r="3.5"/><circle cx="457.7" cy="167.6" r="3.5"/><circle cx="583.4" cy="192.1" r="3.5"/><circle cx="556.2" cy="142.3" r="3.5"/><circle cx="594.9" cy="161.5" r="3.5"/><circle cx="523.2" cy="179.1" r="3.5"/><circle cx="514.7" cy="169.1" r="3.5"/><circle cx="606.8" cy="196" r="3.5"/><circle cx="455.4" cy="158.4" r="3.5"/><circle cx="537.8" cy="193.7" r="3.5"/><circle cx="560.5" cy="205.1" r="3.5"/><circle cx="540.2" cy="182.2" r="3.5"/><circle cx="468.3" cy="159.2" r="3.5"/><circle cx="550.3" cy="125.5" r="3.5"/><circle cx="585.6" cy="202.8" r="3.5"/><circle cx="508" cy="181.4" r="3.5"/><circle cx="554.9" cy="189.8" r="3.5"/><circle cx="445" cy="157.7" r="3.5"/><circle cx="592.2" cy="208.2" r="3.5"/><circle cx="512.8" cy="179.9" r="3.5"/><circle cx="621.5" cy="147.7" r="3.5"/><circle cx="467.6" cy="165.3" r="3.5"/><circle cx="470.9" cy="175.3" r="3.5"/><circle cx="477.5" cy="173" r="3.5"/><circle cx="609.3" cy="179.9" r="3.5"/><circle cx="498.8" cy="173.7" r="3.5"/><circle cx="510.8" cy="171.4" r="3.5"/><circle cx="457.5" cy="163" r="3.5"/><circle cx="565.7" cy="185.2" r="3.5"/><circle cx="565.1" cy="141.6" r="3.5"/><circle cx="511.8" cy="181.4" r="3.5"/><circle cx="571.1" cy="122.4" r="3.5"/><circle cx="637.7" cy="250.3" r="3.5"/><circle cx="478.2" cy="167.6" r="3.5"/><circle cx="449.7" cy="153.8" r="3.5"/><circle cx="589.6" cy="204.4" r="3.5"/><circle cx="530.5" cy="182.9" r="3.5"/><circle cx="522.3" cy="185.2" r="3.5"/><circle cx="619.2" cy="205.9" r="3.5"/><circle cx="577.9" cy="207.4" r="3.5"/><circle cx="581" cy="196" r="3.5"/><circle cx="605.4" cy="103.3" r="3.5"/><circle cx="456.4" cy="160.7" r="3.5"/><circle cx="533.3" cy="188.3" r="3.5"/><circle cx="589.7" cy="209.7" r="3.5"/><circle cx="561.2" cy="193.7" r="3.5"/><circle cx="586.5" cy="198.3" r="3.5"/><circle cx="598.1" cy="181.4" r="3.5"/><circle cx="451.5" cy="153.8" r="3.5"/><circle cx="527.8" cy="181.4" r="3.5"/><circle cx="565.4" cy="202.8" r="3.5"/><circle cx="481.8" cy="160" r="3.5"/><circle cx="622.2" cy="222" r="3.5"/><circle cx="491.7" cy="163" r="3.5"/><circle cx="546.7" cy="182.2" r="3.5"/><circle cx="510.2" cy="173.7" r="3.5"/><circle cx="478.6" cy="165.3" r="3.5"/><circle cx="579.6" cy="193.7" r="3.5"/><circle cx="564.4" cy="199" r="3.5"/><circle cx="529.2" cy="174.5" r="3.5"/><circle cx="479.2" cy="150.8" r="3.5"/><circle cx="556.3" cy="210.5" r="3.5"/><circle cx="464.5" cy="171.4" r="3.5"/><circle cx="605.5" cy="202.8" r="3.5"/><circle cx="645.9" cy="207.4" r="3.5"/><circle cx="561.8" cy="204.4" r="3.5"/><circle cx="618.5" cy="218.9" r="3.5"/><circle cx="457.4" cy="159.2" r="3.5"/><circle cx="647.5" cy="260.3" r="3.5"/><circle cx="553.8" cy="183.7" r="3.5"/><circle cx="489.5" cy="168.4" r="3.5"/><circle cx="536.3" cy="187.5" r="3.5"/><circle cx="627.2" cy="139.3" r="3.5"/><circle cx="635.9" cy="218.2" r="3.5"/><circle cx="638.6" cy="92.5" r="3.5"/><circle cx="650.3" cy="272.6" r="3.5"/><circle cx="632.8" cy="248.8" r="3.5"/><circle cx="630.2" cy="209" r="3.5"/><circle cx="628.2" cy="224.3" r="3.5"/><circle cx="447" cy="145.4" r="3.5"/><circle cx="622.9" cy="179.9" r="3.5"/><circle cx="638.7" cy="258.8" r="3.5"/><circle cx="504" cy="171.4" r="3.5"/><circle cx="479.7" cy="163.8" r="3.5"/><circle cx="589.8" cy="202.1" r="3.5"/><circle cx="558.1" cy="179.9" r="3.5"/><circle cx="515.7" cy="180.6" r="3.5"/><circle cx="457.1" cy="161.5" r="3.5"/><circle cx="502.6" cy="176" r="3.5"/><circle cx="543.1" cy="179.1" r="3.5"/><circle cx="577.2" cy="196" r="3.5"/><circle cx="584.9" cy="215.9" r="3.5"/><circle cx="450.3" cy="151.5" r="3.5"/><circle cx="612.7" cy="228.1" r="3.5"/><circle cx="458.1" cy="163.8" r="3.5"/><circle cx="494.3" cy="180.6" r="3.5"/><circle cx="553.4" cy="189.8" r="3.5"/><circle cx="588.5" cy="212" r="3.5"/><circle cx="631.9" cy="246.5" r="3.5"/><circle cx="594.4" cy="219.7" r="3.5"/><circle cx="480.9" cy="167.6" r="3.5"/><circle cx="598.4" cy="226.6" r="3.5"/><circle cx="630.7" cy="197.5" r="3.5"/><circle cx="524.7" cy="173" r="3.5"/><circle cx="444.6" cy="161.5" r="3.5"/><circle cx="490.9" cy="177.6" r="3.5"/><circle cx="487.7" cy="162.3" r="3.5"/><circle cx="624.2" cy="131.6" r="3.5"/><circle cx="534.9" cy="180.6" r="3.5"/><circle cx="587.2" cy="215.1" r="3.5"/><circle cx="491.5" cy="150" r="3.5"/><circle cx="457.6" cy="160.7" r="3.5"/><circle cx="638" cy="250.3" r="3.5"/><circle cx="588.2" cy="209" r="3.5"/><circle cx="539.3" cy="179.9" r="3.5"/><circle cx="601.1" cy="197.5" r="3.5"/><circle cx="481.1" cy="169.1" r="3.5"/><circle cx="475.9" cy="172.2" r="3.5"/><circle cx="601.5" cy="210.5" r="3.5"/><circle cx="564.5" cy="181.4" r="3.5"/><circle cx="611.2" cy="223.5" r="3.5"/><circle cx="595" cy="219.7" r="3.5"/><circle cx="579.9" cy="186" r="3.5"/><circle cx="559.7" cy="196.7" r="3.5"/><circle cx="548.7" cy="176" r="3.5"/><circle cx="482.8" cy="174.5" r="3.5"/><circle cx="464" cy="169.1" r="3.5"/><circle cx="459.8" cy="170.7" r="3.5"/><circle cx="497.9" cy="176" r="3.5"/><circle cx="577.3" cy="195.2" r="3.5"/><circle cx="518.8" cy="182.9" r="3.5"/><circle cx="584.3" cy="203.6" r="3.5"/><circle cx="497.3" cy="170.7" r="3.5"/><circle cx="567.3" cy="200.6" r="3.5"/><circle cx="455.3" cy="157.7" r="3.5"/><circle cx="620.5" cy="196" r="3.5"/><circle cx="510.1" cy="173.7" r="3.5"/><circle cx="566.9" cy="133.9" r="3.5"/><circle cx="544.7" cy="181.4" r="3.5"/><circle cx="523" cy="187.5" r="3.5"/><circle cx="605.3" cy="208.2" r="3.5"/><circle cx="555.6" cy="150.8" r="3.5"/><circle cx="644.2" cy="238.9" r="3.5"/><circle cx="531" cy="182.9" r="3.5"/><circle cx="533.9" cy="188.3" r="3.5"/><circle cx="450.8" cy="153.1" r="3.5"/><circle cx="623" cy="232.7" r="3.5"/><circle cx="590.1" cy="208.2" r="3.5"/><circle cx="525.3" cy="188.3" r="3.5"/><circle cx="500.5" cy="169.9" r="3.5"/><circle cx="477.9" cy="173.7" r="3.5"/><circle cx="543.9" cy="185.2" r="3.5"/><circle cx="600.5" cy="195.2" r="3.5"/><circle cx="536.8" cy="187.5" r="3.5"/><circle cx="542.5" cy="184.5" r="3.5"/><circle cx="626.2" cy="251.9" r="3.5"/><circle cx="559.6" cy="203.6" r="3.5"/><circle cx="561.5" cy="198.3" r="3.5"/><circle cx="493.3" cy="169.1" r="3.5"/><circle cx="460.9" cy="164.6" r="3.5"/><circle cx="514.6" cy="185.2" r="3.5"/><circle cx="557.2" cy="189.8" r="3.5"/><circle cx="620" cy="217.4" r="3.5"/><circle cx="638" cy="221.2" r="3.5"/><circle cx="499" cy="160.7" r="3.5"/><circle cx="501.5" cy="185.2" r="3.5"/><circle cx="460.4" cy="165.3" r="3.5"/><circle cx="607.3" cy="215.1" r="3.5"/><circle cx="519.6" cy="171.4" r="3.5"/><circle cx="473.5" cy="140.8" r="3.5"/><circle cx="634.6" cy="249.6" r="3.5"/><circle cx="591.1" cy="220.5" r="3.5"/><circle cx="504.4" cy="163" r="3.5"/><circle cx="621.5" cy="232" r="3.5"/><circle cx="512.9" cy="186" r="3.5"/><circle cx="584.6" cy="108.6" r="3.5"/><circle cx="556.6" cy="195.2" r="3.5"/><circle cx="581.9" cy="207.4" r="3.5"/><circle cx="497.8" cy="169.1" r="3.5"/><circle cx="635.1" cy="221.2" r="3.5"/><circle cx="490.2" cy="166.8" r="3.5"/><circle cx="568.8" cy="199.8" r="3.5"/><circle cx="506.3" cy="179.9" r="3.5"/><circle cx="642.6" cy="251.1" r="3.5"/><circle cx="482.5" cy="167.6" r="3.5"/><circle cx="505" cy="184.5" r="3.5"/><circle cx="582.8" cy="196.7" r="3.5"/><circle cx="515.7" cy="173" r="3.5"/><circle cx="473.7" cy="171.4" r="3.5"/><circle cx="594.2" cy="207.4" r="3.5"/><circle cx="629.5" cy="245" r="3.5"/><circle cx="602.4" cy="190.6" r="3.5"/><circle cx="546.9" cy="195.2" r="3.5"/><circle cx="638.4" cy="230.4" r="3.5"/><circle cx="484.2" cy="173.7" r="3.5"/><circle cx="572.8" cy="159.2" r="3.5"/><circle cx="577" cy="212" r="3.5"/><circle cx="501.9" cy="177.6" r="3.5"/><circle cx="543.8" cy="182.9" r="3.5"/><circle cx="477.8" cy="168.4" r="3.5"/><circle cx="543.7" cy="179.9" r="3.5"/><circle cx="466.9" cy="149.2" r="3.5"/><circle cx="554.7" cy="187.5" r="3.5"/><circle cx="502.3" cy="175.3" r="3.5"/><circle cx="623.7" cy="222" r="3.5"/><circle cx="617.3" cy="234.3" r="3.5"/><circle cx="498.2" cy="179.9" r="3.5"/><circle cx="525.3" cy="173.7" r="3.5"/><circle cx="537.2" cy="185.2" r="3.5"/><circle cx="494.7" cy="173" r="3.5"/><circle cx="558.6" cy="134.7" r="3.5"/><circle cx="467.5" cy="158.4" r="3.5"/><circle cx="653.4" cy="270.8" r="3.5"/><circle cx="590.9" cy="222" r="3.5"/><circle cx="630.4" cy="94.1" r="3.5"/><circle cx="609.4" cy="234.3" r="3.5"/><circle cx="489.4" cy="166.8" r="3.5"/><circle cx="448.5" cy="156.9" r="3.5"/><circle cx="611.7" cy="144.6" r="3.5"/><circle cx="573.8" cy="209" r="3.5"/><circle cx="615.2" cy="202.8" r="3.5"/><circle cx="549.7" cy="185.2" r="3.5"/><circle cx="515.2" cy="189.1" r="3.5"/><circle cx="513.5" cy="166.8" r="3.5"/><circle cx="451" cy="151.5" r="3.5"/><circle cx="556" cy="186" r="3.5"/><circle cx="471.2" cy="160.7" r="3.5"/><circle cx="597.1" cy="215.1" r="3.5"/><circle cx="526" cy="186.8" r="3.5"/><circle cx="636.3" cy="241.9" r="3.5"/><circle cx="616.4" cy="235" r="3.5"/><circle cx="449.8" cy="161.5" r="3.5"/><circle cx="473" cy="176.8" r="3.5"/><circle cx="567.2" cy="128.5" r="3.5"/><circle cx="556.6" cy="195.2" r="3.5"/><circle cx="475.6" cy="162.3" r="3.5"/><circle cx="609.7" cy="205.1" r="3.5"/><circle cx="595.1" cy="203.6" r="3.5"/><circle cx="637.1" cy="229.7" r="3.5"/><circle cx="614" cy="205.1" r="3.5"/><circle cx="604.7" cy="164.6" r="3.5"/><circle cx="490.4" cy="160.7" r="3.5"/><circle cx="608.6" cy="184.5" r="3.5"/><circle cx="578.7" cy="206.7" r="3.5"/><circle cx="550.8" cy="193.7" r="3.5"/><circle cx="502.5" cy="176.8" r="3.5"/><circle cx="624.9" cy="239.6" r="3.5"/><circle cx="563.9" cy="184.5" r="3.5"/><circle cx="502.9" cy="188.3" r="3.5"/><circle cx="603.9" cy="224.3" r="3.5"/><circle cx="530.8" cy="182.2" r="3.5"/><circle cx="459.6" cy="165.3" r="3.5"/><circle cx="483.5" cy="167.6" r="3.5"/><circle cx="450.9" cy="147.7" r="3.5"/><circle cx="449.5" cy="155.4" r="3.5"/><circle cx="549.4" cy="192.9" r="3.5"/><circle cx="496.6" cy="178.3" r="3.5"/><circle cx="547.7" cy="196" r="3.5"/><circle cx="461.6" cy="154.6" r="3.5"/><circle cx="646.2" cy="258" r="3.5"/><circle cx="480.3" cy="181.4" r="3.5"/><circle cx="527.3" cy="177.6" r="3.5"/><circle cx="574" cy="192.1" r="3.5"/><circle cx="462.9" cy="157.7" r="3.5"/><circle cx="491.6" cy="179.9" r="3.5"/><circle cx="558.3" cy="203.6" r="3.5"/><circle cx="505.3" cy="187.5" r="3.5"/><circle cx="499.3" cy="179.1" r="3.5"/><circle cx="608" cy="215.1" r="3.5"/><circle cx="619.5" cy="140.8" r="3.5"/><circle cx="458.6" cy="153.1" r="3.5"/><circle cx="642.9" cy="187.5" r="3.5"/><circle cx="481.4" cy="176.8" r="3.5"/><circle cx="446.9" cy="160" r="3.5"/><circle cx="656.1" cy="272" r="3.5"/><circle cx="557.9" cy="185.2" r="3.5"/><circle cx="567.8" cy="191.4" r="3.5"/><circle cx="604.7" cy="210.5" r="3.5"/><circle cx="486.1" cy="146.2" r="3.5"/><circle cx="548.9" cy="181.4" r="3.5"/><circle cx="620.1" cy="235.8" r="3.5"/><circle cx="535.4" cy="181.4" r="3.5"/><circle cx="482.7" cy="174.5" r="3.5"/><circle cx="456.8" cy="160" r="3.5"/><circle cx="624.1" cy="205.1" r="3.5"/><circle cx="487.3" cy="176.8" r="3.5"/><circle cx="483.7" cy="179.1" r="3.5"/><circle cx="520.7" cy="178.3" r="3.5"/><circle cx="646.3" cy="254.2" r="3.5"/><circle cx="621.8" cy="223.5" r="3.5"/><circle cx="569.1" cy="194.4" r="3.5"/><circle cx="579.3" cy="212" r="3.5"/><circle cx="533" cy="182.2" r="3.5"/><circle cx="630.8" cy="238.9" r="3.5"/><circle cx="576.1" cy="202.1" r="3.5"/><circle cx="639.2" cy="144.6" r="3.5"/><circle cx="606" cy="196.7" r="3.5"/><circle cx="468.5" cy="156.9" r="3.5"/><circle cx="614.5" cy="210.5" r="3.5"/><circle cx="535" cy="129.3" r="3.5"/><circle cx="648.8" cy="212" r="3.5"/><circle cx="625.9" cy="114" r="3.5"/><circle cx="602.6" cy="205.9" r="3.5"/><circle cx="626.3" cy="232" r="3.5"/><circle cx="534" cy="175.3" r="3.5"/><circle cx="521.2" cy="182.2" r="3.5"/><circle cx="606.4" cy="187.5" r="3.5"/><circle cx="471.9" cy="169.9" r="3.5"/><circle cx="626.7" cy="132.4" r="3.5"/><circle cx="614.9" cy="223.5" r="3.5"/><circle cx="456.7" cy="146.9" r="3.5"/><circle cx="644.9" cy="275.5" r="3.5"/><circle cx="587.7" cy="204.4" r="3.5"/><circle cx="443.5" cy="157.7" r="3.5"/><circle cx="562.7" cy="168.4" r="3.5"/><circle cx="516.7" cy="185.2" r="3.5"/><circle cx="629.8" cy="241.9" r="3.5"/><circle cx="485.4" cy="175.3" r="3.5"/><circle cx="618.3" cy="232" r="3.5"/><circle cx="578.7" cy="184.5" r="3.5"/><circle cx="534.7" cy="166.8" r="3.5"/><circle cx="591" cy="190.6" r="3.5"/><circle cx="454.4" cy="166.8" r="3.5"/><circle cx="563.7" cy="191.4" r="3.5"/><circle cx="483.8" cy="166.1" r="3.5"/><circle cx="624.6" cy="226.6" r="3.5"/><circle cx="617.2" cy="176.8" r="3.5"/><circle cx="631.3" cy="182.9" r="3.5"/><circle cx="503.5" cy="170.7" r="3.5"/><circle cx="504.2" cy="169.1" r="3.5"/><circle cx="444.3" cy="144.6" r="3.5"/><circle cx="496.5" cy="184.5" r="3.5"/><circle cx="522" cy="129.3" r="3.5"/><circle cx="592.5" cy="213.6" r="3.5"/><circle cx="528.9" cy="179.1" r="3.5"/><circle cx="585.3" cy="213.6" r="3.5"/><circle cx="476.8" cy="173" r="3.5"/><circle cx="524.8" cy="182.2" r="3.5"/><circle cx="570.1" cy="196.7" r="3.5"/><circle cx="523.3" cy="177.6" r="3.5"/><circle cx="612" cy="232.7" r="3.5"/><circle cx="573.4" cy="197.5" r="3.5"/><circle cx="589.1" cy="212.8" r="3.5"/><circle cx="586.9" cy="200.6" r="3.5"/><circle cx="576.5" cy="136.2" r="3.5"/><circle cx="514" cy="177.6" r="3.5"/><circle cx="558.2" cy="187.5" r="3.5"/><circle cx="614.8" cy="188.3" r="3.5"/><circle cx="445.9" cy="150.8" r="3.5"/><circle cx="493.5" cy="172.2" r="3.5"/><circle cx="633.8" cy="99.4" r="3.5"/><circle cx="544.6" cy="154.6" r="3.5"/><circle cx="494.5" cy="169.1" r="3.5"/><circle cx="462.7" cy="153.8" r="3.5"/><circle cx="648.1" cy="267.6" r="3.5"/><circle cx="618.9" cy="228.1" r="3.5"/><circle cx="534.6" cy="174.5" r="3.5"/><circle cx="565.8" cy="201.3" r="3.5"/><circle cx="516.7" cy="189.1" r="3.5"/><circle cx="522.7" cy="179.1" r="3.5"/><circle cx="523.6" cy="186" r="3.5"/><circle cx="604.3" cy="192.9" r="3.5"/><circle cx="618.2" cy="229.7" r="3.5"/><circle cx="542.3" cy="171.4" r="3.5"/><circle cx="609.6" cy="152.3" r="3.5"/><circle cx="641.4" cy="240.4" r="3.5"/><circle cx="634.7" cy="183.7" r="3.5"/><circle cx="631.8" cy="176.8" r="3.5"/><circle cx="632.9" cy="243.4" r="3.5"/><circle cx="632.2" cy="248.8" r="3.5"/><circle cx="638.2" cy="241.1" r="3.5"/><circle cx="467.2" cy="155.4" r="3.5"/><circle cx="471.7" cy="166.1" r="3.5"/><circle cx="454.1" cy="150.8" r="3.5"/><circle cx="494.6" cy="154.6" r="3.5"/><circle cx="536.5" cy="187.5" r="3.5"/><circle cx="600.4" cy="222" r="3.5"/><circle cx="477.9" cy="128.5" r="3.5"/><circle cx="552.3" cy="189.1" r="3.5"/><circle cx="575.8" cy="200.6" r="3.5"/><circle cx="452.5" cy="154.6" r="3.5"/><circle cx="488.4" cy="151.5" r="3.5"/><circle cx="472.1" cy="175.3" r="3.5"/><circle cx="487.4" cy="175.3" r="3.5"/><circle cx="453.1" cy="162.3" r="3.5"/><circle cx="509.1" cy="173.7" r="3.5"/><circle cx="577" cy="198.3" r="3.5"/><circle cx="491.8" cy="170.7" r="3.5"/><circle cx="575.6" cy="159.2" r="3.5"/><circle cx="571" cy="137" r="3.5"/><circle cx="625.2" cy="208.2" r="3.5"/><circle cx="453.3" cy="157.7" r="3.5"/><circle cx="529.7" cy="165.3" r="3.5"/><circle cx="565.8" cy="186.8" r="3.5"/><circle cx="461" cy="166.1" r="3.5"/><circle cx="651.2" cy="276.8" r="3.5"/><circle cx="646.5" cy="95.6" r="3.5"/><circle cx="471.3" cy="158.4" r="3.5"/><circle cx="503.7" cy="168.4" r="3.5"/><circle cx="478.5" cy="163.8" r="3.5"/><circle cx="524.5" cy="177.6" r="3.5"/><circle cx="557.8" cy="182.2" r="3.5"/><circle cx="488.5" cy="176" r="3.5"/><circle cx="520.3" cy="184.5" r="3.5"/><circle cx="594" cy="211.3" r="3.5"/><circle cx="567" cy="191.4" r="3.5"/><circle cx="598.6" cy="208.2" r="3.5"/><circle cx="476.2" cy="170.7" r="3.5"/><circle cx="600.7" cy="213.6" r="3.5"/><circle cx="550" cy="168.4" r="3.5"/><circle cx="636.5" cy="247.3" r="3.5"/><circle cx="643.6" cy="195.2" r="3.5"/><circle cx="499.7" cy="174.5" r="3.5"/><circle cx="588.2" cy="192.1" r="3.5"/><circle cx="593.7" cy="218.9" r="3.5"/><circle cx="506.8" cy="185.2" r="3.5"/><circle cx="533.7" cy="176.8" r="3.5"/><circle cx="456.4" cy="149.2" r="3.5"/><circle cx="517.7" cy="178.3" r="3.5"/><circle cx="581.2" cy="195.2" r="3.5"/><circle cx="525.4" cy="188.3" r="3.5"/><circle cx="529.6" cy="179.1" r="3.5"/><circle cx="502.8" cy="171.4" r="3.5"/><circle cx="455.5" cy="160" r="3.5"/><circle cx="541.8" cy="187.5" r="3.5"/><circle cx="534.1" cy="181.4" r="3.5"/><circle cx="459.4" cy="163.8" r="3.5"/><circle cx="561.3" cy="190.6" r="3.5"/><circle cx="625.3" cy="173" r="3.5"/><circle cx="644.6" cy="270.6" r="3.5"/><circle cx="549" cy="199.8" r="3.5"/><circle cx="449.9" cy="165.3" r="3.5"/><circle cx="532.7" cy="192.9" r="3.5"/><circle cx="554.1" cy="184.5" r="3.5"/><circle cx="592.8" cy="187.5" r="3.5"/><circle cx="492.2" cy="185.2" r="3.5"/><circle cx="507" cy="182.2" r="3.5"/><circle cx="636.2" cy="171.4" r="3.5"/><circle cx="483.1" cy="173.7" r="3.5"/><circle cx="511.8" cy="171.4" r="3.5"/><circle cx="575.3" cy="195.2" r="3.5"/><circle cx="471.9" cy="160" r="3.5"/><circle cx="634.9" cy="242.7" r="3.5"/><circle cx="516.8" cy="166.8" r="3.5"/><circle cx="631.7" cy="231.2" r="3.5"/><circle cx="639.5" cy="199.8" r="3.5"/><circle cx="571.6" cy="175.3" r="3.5"/><circle cx="519.4" cy="180.6" r="3.5"/><circle cx="486.4" cy="176.8" r="3.5"/><circle cx="604" cy="213.6" r="3.5"/><circle cx="488.1" cy="179.9" r="3.5"/><circle cx="617.1" cy="186" r="3.5"/><circle cx="579.7" cy="212" r="3.5"/><circle cx="450.2" cy="154.6" r="3.5"/><circle cx="586.4" cy="156.9" r="3.5"/><circle cx="537.6" cy="185.2" r="3.5"/><circle cx="614.3" cy="228.9" r="3.5"/><circle cx="570.4" cy="205.1" r="3.5"/><circle cx="463.5" cy="157.7" r="3.5"/><circle cx="555.3" cy="188.3" r="3.5"/><circle cx="612.3" cy="215.9" r="3.5"/><circle cx="512.7" cy="165.3" r="3.5"/><circle cx="580.6" cy="205.9" r="3.5"/><circle cx="587.3" cy="205.1" r="3.5"/><circle cx="633.1" cy="230.4" r="3.5"/><circle cx="462.1" cy="155.4" r="3.5"/><circle cx="643" cy="255.7" r="3.5"/><circle cx="631.6" cy="235" r="3.5"/><circle cx="565.5" cy="187.5" r="3.5"/><circle cx="489.3" cy="165.3" r="3.5"/><circle cx="519.2" cy="179.9" r="3.5"/><circle cx="636" cy="196" r="3.5"/><circle cx="599.6" cy="164.6" r="3.5"/><circle cx="609.8" cy="212" r="3.5"/><circle cx="522.5" cy="184.5" r="3.5"/><circle cx="600.1" cy="188.3" r="3.5"/><circle cx="633.4" cy="243.4" r="3.5"/><circle cx="529.9" cy="186.8" r="3.5"/><circle cx="580.4" cy="176.8" r="3.5"/><circle cx="607.7" cy="218.9" r="3.5"/><circle cx="445.5" cy="155.4" r="3.5"/><circle cx="555.2" cy="164.6" r="3.5"/><circle cx="529.4" cy="186.8" r="3.5"/><circle cx="588.8" cy="215.1" r="3.5"/><circle cx="580.1" cy="214.3" r="3.5"/><circle cx="580.7" cy="198.3" r="3.5"/><circle cx="452.5" cy="155.4" r="3.5"/><circle cx="595.7" cy="205.1" r="3.5"/><circle cx="493.1" cy="173" r="3.5"/><circle cx="547.2" cy="176.8" r="3.5"/><circle cx="568" cy="186.8" r="3.5"/><circle cx="481.1" cy="161.5" r="3.5"/><circle cx="516.3" cy="178.3" r="3.5"/><circle cx="496.2" cy="163.8" r="3.5"/><circle cx="446.4" cy="165.3" r="3.5"/><circle cx="499.4" cy="178.3" r="3.5"/><circle cx="540.7" cy="173.7" r="3.5"/><circle cx="445.4" cy="153.8" r="3.5"/><circle cx="461.2" cy="152.3" r="3.5"/><circle cx="632" cy="243.4" r="3.5"/><circle cx="529.8" cy="192.9" r="3.5"/><circle cx="596.9" cy="209" r="3.5"/><circle cx="590.3" cy="212" r="3.5"/><circle cx="563.4" cy="196" r="3.5"/><circle cx="456.1" cy="150" r="3.5"/><circle cx="605" cy="209.7" r="3.5"/><circle cx="587.8" cy="188.3" r="3.5"/><circle cx="491.1" cy="176.8" r="3.5"/><circle cx="551" cy="197.5" r="3.5"/><circle cx="451.1" cy="165.3" r="3.5"/><circle cx="629.6" cy="236.6" r="3.5"/><circle cx="608.1" cy="214.3" r="3.5"/><circle cx="449.4" cy="150.8" r="3.5"/><circle cx="621.6" cy="245" r="3.5"/><circle cx="462.4" cy="171.4" r="3.5"/><circle cx="454" cy="163.8" r="3.5"/><circle cx="588" cy="176" r="3.5"/><circle cx="629" cy="206.7" r="3.5"/><circle cx="489.9" cy="169.1" r="3.5"/><circle cx="616" cy="216.6" r="3.5"/><circle cx="530.6" cy="174.5" r="3.5"/><circle cx="640.1" cy="263.4" r="3.5"/><circle cx="577.8" cy="182.2" r="3.5"/><circle cx="503" cy="160.7" r="3.5"/><circle cx="553" cy="185.2" r="3.5"/><circle cx="506.1" cy="176.8" r="3.5"/><circle cx="549.9" cy="199" r="3.5"/><circle cx="623.6" cy="251.1" r="3.5"/><circle cx="448.3" cy="164.6" r="3.5"/><circle cx="517.8" cy="181.4" r="3.5"/><circle cx="574" cy="196" r="3.5"/><circle cx="602.5" cy="193.7" r="3.5"/><circle cx="580.6" cy="204.4" r="3.5"/><circle cx="456.6" cy="168.4" r="3.5"/><circle cx="486.5" cy="176.8" r="3.5"/><circle cx="587.6" cy="198.3" r="3.5"/><circle cx="583.3" cy="213.6" r="3.5"/><circle cx="540.1" cy="182.2" r="3.5"/><circle cx="564.9" cy="195.2" r="3.5"/><circle cx="615.8" cy="169.1" r="3.5"/><circle cx="607.2" cy="226.6" r="3.5"/><circle cx="558.9" cy="199.8" r="3.5"/><circle cx="655" cy="268.5" r="3.5"/><circle cx="527.9" cy="187.5" r="3.5"/><circle cx="568.1" cy="202.1" r="3.5"/><circle cx="591.3" cy="219.7" r="3.5"/><circle cx="533.9" cy="137" r="3.5"/><circle cx="583.6" cy="215.1" r="3.5"/><circle cx="613.3" cy="232.7" r="3.5"/><circle cx="641.3" cy="215.1" r="3.5"/><circle cx="542.4" cy="173.7" r="3.5"/><circle cx="583.6" cy="149.2" r="3.5"/><circle cx="648.3" cy="268.7" r="3.5"/><circle cx="602.4" cy="218.2" r="3.5"/><circle cx="504.9" cy="189.1" r="3.5"/><circle cx="494.2" cy="162.3" r="3.5"/><circle cx="591.8" cy="213.6" r="3.5"/><circle cx="537.5" cy="189.1" r="3.5"/><circle cx="569.2" cy="182.2" r="3.5"/><circle cx="483.1" cy="167.6" r="3.5"/><circle cx="566.8" cy="192.1" r="3.5"/><circle cx="485.1" cy="175.3" r="3.5"/><circle cx="456.8" cy="165.3" r="3.5"/><circle cx="620.6" cy="226.6" r="3.5"/><circle cx="509.7" cy="172.2" r="3.5"/><circle cx="521.7" cy="176" r="3.5"/><circle cx="561.9" cy="188.3" r="3.5"/><circle cx="466.6" cy="158.4" r="3.5"/><circle cx="530.2" cy="177.6" r="3.5"/><circle cx="525" cy="163.8" r="3.5"/><circle cx="470.4" cy="158.4" r="3.5"/><circle cx="562" cy="192.9" r="3.5"/><circle cx="569.9" cy="200.6" r="3.5"/><circle cx="516.5" cy="183.7" r="3.5"/><circle cx="567.9" cy="196.7" r="3.5"/><circle cx="519.3" cy="187.5" r="3.5"/><circle cx="489.8" cy="171.4" r="3.5"/><circle cx="539.7" cy="187.5" r="3.5"/><circle cx="479.1" cy="180.6" r="3.5"/><circle cx="596.1" cy="211.3" r="3.5"/><circle cx="607.3" cy="88.7" r="3.5"/><circle cx="452" cy="150" r="3.5"/><circle cx="622" cy="210.5" r="3.5"/><circle cx="614.7" cy="223.5" r="3.5"/><circle cx="564.5" cy="104.8" r="3.5"/><circle cx="543.6" cy="162.3" r="3.5"/><circle cx="450" cy="152.3" r="3.5"/><circle cx="548.4" cy="194.4" r="3.5"/><circle cx="516.9" cy="184.5" r="3.5"/><circle cx="508.8" cy="173" r="3.5"/><circle cx="482.8" cy="169.9" r="3.5"/><circle cx="621" cy="231.2" r="3.5"/><circle cx="653.1" cy="271" r="3.5"/><circle cx="461.7" cy="164.6" r="3.5"/><circle cx="497.4" cy="171.4" r="3.5"/><circle cx="592.2" cy="204.4" r="3.5"/><circle cx="596" cy="211.3" r="3.5"/><circle cx="517.9" cy="173" r="3.5"/><circle cx="489.6" cy="154.6" r="3.5"/><circle cx="535.8" cy="184.5" r="3.5"/><circle cx="531.2" cy="181.4" r="3.5"/><circle cx="460.1" cy="160" r="3.5"/><circle cx="600.6" cy="212.8" r="3.5"/><circle cx="563.2" cy="188.3" r="3.5"/><circle cx="467.3" cy="155.4" r="3.5"/><circle cx="607" cy="219.7" r="3.5"/><circle cx="614.2" cy="222.8" r="3.5"/><circle cx="510.3" cy="170.7" r="3.5"/><circle cx="564.2" cy="189.8" r="3.5"/><circle cx="522.7" cy="181.4" r="3.5"/><circle cx="465.9" cy="163.8" r="3.5"/><circle cx="600" cy="173.7" r="3.5"/><circle cx="517.3" cy="176" r="3.5"/><circle cx="521.4" cy="159.2" r="3.5"/><circle cx="613.7" cy="192.1" r="3.5"/><circle cx="453.5" cy="161.5" r="3.5"/><circle cx="550.1" cy="176.8" r="3.5"/><circle cx="629.1" cy="235" r="3.5"/><circle cx="460.4" cy="169.1" r="3.5"/><circle cx="627.7" cy="232.7" r="3.5"/><circle cx="470.9" cy="170.7" r="3.5"/><circle cx="501.6" cy="176.8" r="3.5"/><circle cx="605.8" cy="218.9" r="3.5"/><circle cx="648.2" cy="270.3" r="3.5"/><circle cx="549.8" cy="176" r="3.5"/><circle cx="634.3" cy="251.1" r="3.5"/><circle cx="574.7" cy="193.7" r="3.5"/><circle cx="608.4" cy="216.6" r="3.5"/><circle cx="506.5" cy="182.2" r="3.5"/><circle cx="520.3" cy="193.7" r="3.5"/><circle cx="464.7" cy="173" r="3.5"/><circle cx="521.3" cy="176.8" r="3.5"/><circle cx="474.5" cy="175.3" r="3.5"/><circle cx="608.5" cy="176.8" r="3.5"/><circle cx="550.6" cy="173" r="3.5"/><circle cx="512.1" cy="182.9" r="3.5"/><circle cx="467.3" cy="166.8" r="3.5"/><circle cx="636" cy="249.6" r="3.5"/><circle cx="582.3" cy="186.8" r="3.5"/><circle cx="624.1" cy="231.2" r="3.5"/><circle cx="587" cy="209" r="3.5"/><circle cx="570.8" cy="201.3" r="3.5"/><circle cx="561.6" cy="205.1" r="3.5"/><circle cx="491.9" cy="169.9" r="3.5"/><circle cx="599.8" cy="208.2" r="3.5"/><circle cx="482.2" cy="173.7" r="3.5"/><circle cx="457.1" cy="166.8" r="3.5"/><circle cx="457" cy="160.7" r="3.5"/><circle cx="489.2" cy="167.6" r="3.5"/><circle cx="525.6" cy="163.8" r="3.5"/><circle cx="502.6" cy="171.4" r="3.5"/><circle cx="536.8" cy="181.4" r="3.5"/><circle cx="578.9" cy="179.9" r="3.5"/><circle cx="542.9" cy="184.5" r="3.5"/><circle cx="469" cy="168.4" r="3.5"/><circle cx="639" cy="254.2" r="3.5"/><circle cx="471" cy="160.7" r="3.5"/><circle cx="462.7" cy="172.2" r="3.5"/><circle cx="587.4" cy="203.6" r="3.5"/><circle cx="482.1" cy="167.6" r="3.5"/><circle cx="501.9" cy="178.3" r="3.5"/><circle cx="493" cy="171.4" r="3.5"/><circle cx="481.9" cy="164.6" r="3.5"/><circle cx="485.4" cy="169.9" r="3.5"/><circle cx="529" cy="191.4" r="3.5"/><circle cx="623.1" cy="182.2" r="3.5"/><circle cx="622.6" cy="225.8" r="3.5"/><circle cx="578.6" cy="205.9" r="3.5"/><circle cx="524" cy="166.8" r="3.5"/><circle cx="452.4" cy="156.1" r="3.5"/><circle cx="547.8" cy="166.8" r="3.5"/><circle cx="540.6" cy="186" r="3.5"/><circle cx="597.1" cy="215.9" r="3.5"/><circle cx="634.1" cy="245.7" r="3.5"/><circle cx="553.3" cy="183.7" r="3.5"/><circle cx="589.5" cy="210.5" r="3.5"/><circle cx="541.7" cy="196.7" r="3.5"/><circle cx="531.9" cy="165.3" r="3.5"/><circle cx="488.1" cy="182.2" r="3.5"/><circle cx="625.6" cy="236.6" r="3.5"/><circle cx="482" cy="160" r="3.5"/><circle cx="455.8" cy="157.7" r="3.5"/><circle cx="566.7" cy="189.8" r="3.5"/><circle cx="651.6" cy="266.8" r="3.5"/><circle cx="645.6" cy="266.4" r="3.5"/><circle cx="644.6" cy="276.2" r="3.5"/><circle cx="508.7" cy="170.7" r="3.5"/><circle cx="451.8" cy="150" r="3.5"/><circle cx="566.3" cy="204.4" r="3.5"/><circle cx="582.3" cy="88.7" r="3.5"/><circle cx="631.4" cy="245.7" r="3.5"/><circle cx="563.6" cy="193.7" r="3.5"/><circle cx="620.5" cy="165.3" r="3.5"/><circle cx="545.3" cy="189.8" r="3.5"/><circle cx="519.8" cy="189.8" r="3.5"/><circle cx="536.2" cy="193.7" r="3.5"/><circle cx="447.2" cy="153.8" r="3.5"/><circle cx="557.1" cy="195.2" r="3.5"/><circle cx="495.3" cy="171.4" r="3.5"/><circle cx="593.3" cy="185.2" r="3.5"/><circle cx="580.3" cy="196.7" r="3.5"/><circle cx="495.2" cy="151.5" r="3.5"/><circle cx="454.9" cy="152.3" r="3.5"/><circle cx="578.8" cy="197.5" r="3.5"/><circle cx="534.5" cy="183.7" r="3.5"/><circle cx="627.1" cy="187.5" r="3.5"/><circle cx="449.3" cy="156.9" r="3.5"/><circle cx="620.3" cy="181.4" r="3.5"/><circle cx="541.9" cy="186" r="3.5"/><circle cx="567.1" cy="208.2" r="3.5"/><circle cx="636.9" cy="206.7" r="3.5"/><circle cx="515" cy="176" r="3.5"/><circle cx="554.4" cy="179.9" r="3.5"/><circle cx="646.9" cy="266.7" r="3.5"/><circle cx="468.8" cy="163.8" r="3.5"/><circle cx="465.4" cy="165.3" r="3.5"/><circle cx="558.7" cy="194.4" r="3.5"/><circle cx="583.5" cy="205.9" r="3.5"/><circle cx="634" cy="231.2" r="3.5"/><circle cx="647.8" cy="261.8" r="3.5"/><circle cx="506.2" cy="176" r="3.5"/><circle cx="547" cy="186" r="3.5"/><circle cx="647.5" cy="276.7" r="3.5"/><circle cx="510.1" cy="175.3" r="3.5"/><circle cx="543.1" cy="181.4" r="3.5"/><circle cx="453.8" cy="150" r="3.5"/><circle cx="473.9" cy="156.9" r="3.5"/><circle cx="594.5" cy="127" r="3.5"/><circle cx="610.6" cy="229.7" r="3.5"/><circle cx="600.1" cy="190.6" r="3.5"/><circle cx="547.5" cy="186.8" r="3.5"/><circle cx="536.9" cy="163" r="3.5"/><circle cx="547.1" cy="182.9" r="3.5"/><circle cx="573.7" cy="210.5" r="3.5"/><circle cx="613.5" cy="224.3" r="3.5"/><circle cx="641.8" cy="258.8" r="3.5"/><circle cx="443.9" cy="161.5" r="3.5"/><circle cx="496" cy="153.8" r="3.5"/><circle cx="574.1" cy="189.8" r="3.5"/><circle cx="538.9" cy="172.2" r="3.5"/><circle cx="471.8" cy="167.6" r="3.5"/><circle cx="594.8" cy="211.3" r="3.5"/><circle cx="611.9" cy="204.4" r="3.5"/><circle cx="514.4" cy="177.6" r="3.5"/><circle cx="499.5" cy="187.5" r="3.5"/><circle cx="457.9" cy="161.5" r="3.5"/><circle cx="508.9" cy="186.8" r="3.5"/><circle cx="453.2" cy="159.2" r="3.5"/><circle cx="536" cy="167.6" r="3.5"/><circle cx="516" cy="182.2" r="3.5"/><circle cx="615.6" cy="222.8" r="3.5"/><circle cx="452.3" cy="160" r="3.5"/><circle cx="458.9" cy="157.7" r="3.5"/><circle cx="621.8" cy="203.6" r="3.5"/><circle cx="642" cy="264.1" r="3.5"/><circle cx="573.1" cy="202.8" r="3.5"/><circle cx="601.2" cy="192.9" r="3.5"/><circle cx="621.1" cy="95.6" r="3.5"/><circle cx="573.1" cy="207.4" r="3.5"/><circle cx="507.5" cy="182.9" r="3.5"/><circle cx="446.8" cy="155.4" r="3.5"/><circle cx="632.4" cy="145.4" r="3.5"/><circle cx="589.2" cy="196.7" r="3.5"/><circle cx="564.6" cy="192.9" r="3.5"/><circle cx="490.6" cy="166.1" r="3.5"/><circle cx="614.2" cy="236.6" r="3.5"/><circle cx="592.9" cy="196" r="3.5"/><circle cx="584.7" cy="211.3" r="3.5"/><circle cx="625.5" cy="185.2" r="3.5"/><circle cx="635" cy="206.7" r="3.5"/><circle cx="602.7" cy="169.1" r="3.5"/><circle cx="548.7" cy="191.4" r="3.5"/><circle cx="544.1" cy="161.5" r="3.5"/><circle cx="453.5" cy="153.1" r="3.5"/><circle cx="517.6" cy="178.3" r="3.5"/><circle cx="518.9" cy="187.5" r="3.5"/><circle cx="500.3" cy="162.3" r="3.5"/><circle cx="649.4" cy="275.5" r="3.5"/><circle cx="591.6" cy="178.3" r="3.5"/><circle cx="531.6" cy="172.2" r="3.5"/><circle cx="472.6" cy="165.3" r="3.5"/><circle cx="627.1" cy="228.9" r="3.5"/><circle cx="529.2" cy="172.2" r="3.5"/><circle cx="466.4" cy="160.7" r="3.5"/><circle cx="466.6" cy="160" r="3.5"/><circle cx="484" cy="169.1" r="3.5"/><circle cx="575.1" cy="199.8" r="3.5"/><circle cx="608" cy="222" r="3.5"/><circle cx="477.1" cy="170.7" r="3.5"/><circle cx="625.8" cy="243.4" r="3.5"/><circle cx="557.6" cy="199.8" r="3.5"/><circle cx="574.4" cy="216.6" r="3.5"/><circle cx="625" cy="232.7" r="3.5"/><circle cx="516.6" cy="175.3" r="3.5"/><circle cx="543.2" cy="174.5" r="3.5"/><circle cx="606.6" cy="212" r="3.5"/><circle cx="569.6" cy="162.3" r="3.5"/><circle cx="592.3" cy="193.7" r="3.5"/><circle cx="580" cy="150.8" r="3.5"/><circle cx="643.5" cy="189.8" r="3.5"/><circle cx="575" cy="194.4" r="3.5"/><circle cx="537.5" cy="186" r="3.5"/><circle cx="474.4" cy="169.9" r="3.5"/><circle cx="553.6" cy="193.7" r="3.5"/><circle cx="444.4" cy="158.4" r="3.5"/><circle cx="586.1" cy="140.8" r="3.5"/><circle cx="567.4" cy="208.2" r="3.5"/><circle cx="577.5" cy="207.4" r="3.5"/><circle cx="501.7" cy="169.9" r="3.5"/><circle cx="649.2" cy="273.6" r="3.5"/><circle cx="526.9" cy="169.9" r="3.5"/><circle cx="547.4" cy="181.4" r="3.5"/><circle cx="521.8" cy="189.1" r="3.5"/><circle cx="596.4" cy="200.6" r="3.5"/><circle cx="576.9" cy="196.7" r="3.5"/><circle cx="506.6" cy="176" r="3.5"/><circle cx="549" cy="192.1" r="3.5"/><circle cx="629.1" cy="235" r="3.5"/><circle cx="616.9" cy="228.1" r="3.5"/><circle cx="532.3" cy="193.7" r="3.5"/><circle cx="599.4" cy="203.6" r="3.5"/><circle cx="589.9" cy="194.4" r="3.5"/><circle cx="550.5" cy="190.6" r="3.5"/><circle cx="637" cy="238.9" r="3.5"/><circle cx="576" cy="197.5" r="3.5"/><circle cx="611.8" cy="220.5" r="3.5"/><circle cx="627.4" cy="235.8" r="3.5"/><circle cx="564.7" cy="201.3" r="3.5"/><circle cx="602.3" cy="91.8" r="3.5"/><circle cx="597.4" cy="214.3" r="3.5"/><circle cx="604.1" cy="201.3" r="3.5"/><circle cx="560.3" cy="186" r="3.5"/><circle cx="514.2" cy="163" r="3.5"/><circle cx="479.2" cy="176.8" r="3.5"/><circle cx="493.3" cy="169.9" r="3.5"/><circle cx="584.4" cy="210.5" r="3.5"/><circle cx="574.9" cy="202.1" r="3.5"/><circle cx="522.9" cy="168.4" r="3.5"/><circle cx="513.8" cy="182.2" r="3.5"/><circle cx="507.7" cy="169.1" r="3.5"/><circle cx="528.3" cy="182.2" r="3.5"/><circle cx="628.5" cy="249.6" r="3.5"/><circle cx="488.7" cy="169.1" r="3.5"/><circle cx="588.3" cy="212" r="3.5"/><circle cx="605.7" cy="189.8" r="3.5"/><circle cx="546.4" cy="201.3" r="3.5"/><circle cx="513.2" cy="155.4" r="3.5"/><circle cx="589.3" cy="198.3" r="3.5"/><circle cx="588.6" cy="216.6" r="3.5"/><circle cx="593.6" cy="212.8" r="3.5"/><circle cx="459.2" cy="169.9" r="3.5"/><circle cx="509.5" cy="174.5" r="3.5"/><circle cx="639" cy="248.8" r="3.5"/><circle cx="452.1" cy="149.2" r="3.5"/><circle cx="607.1" cy="228.1" r="3.5"/><circle cx="568.5" cy="198.3" r="3.5"/><circle cx="617.9" cy="222" r="3.5"/><circle cx="579.8" cy="209" r="3.5"/><circle cx="465.1" cy="167.6" r="3.5"/><circle cx="526.4" cy="147.7" r="3.5"/><circle cx="556.5" cy="199.8" r="3.5"/><circle cx="484.6" cy="169.1" r="3.5"/><circle cx="619.8" cy="221.2" r="3.5"/><circle cx="590.8" cy="213.6" r="3.5"/><circle cx="581.6" cy="130.8" r="3.5"/><circle cx="527.3" cy="116.3" r="3.5"/><circle cx="639.3" cy="163.8" r="3.5"/><circle cx="511.9" cy="177.6" r="3.5"/><circle cx="563.3" cy="196" r="3.5"/><circle cx="574.2" cy="202.8" r="3.5"/><circle cx="454.8" cy="172.2" r="3.5"/><circle cx="645.1" cy="121.7" r="3.5"/><circle cx="626.5" cy="207.4" r="3.5"/><circle cx="546.4" cy="191.4" r="3.5"/><circle cx="554.2" cy="169.1" r="3.5"/><circle cx="478" cy="179.9" r="3.5"/><circle cx="513.1" cy="179.1" r="3.5"/><circle cx="604.6" cy="215.1" r="3.5"/><circle cx="454.7" cy="152.3" r="3.5"/><circle cx="515.6" cy="173.7" r="3.5"/><circle cx="629.9" cy="241.9" r="3.5"/><circle cx="443.7" cy="141.6" r="3.5"/><circle cx="460.8" cy="163.8" r="3.5"/><circle cx="629.4" cy="228.1" r="3.5"/><circle cx="589" cy="192.1" r="3.5"/><circle cx="476.5" cy="164.6" r="3.5"/><circle cx="635.3" cy="247.3" r="3.5"/><circle cx="554.3" cy="198.3" r="3.5"/><circle cx="480.5" cy="167.6" r="3.5"/><circle cx="449.8" cy="160" r="3.5"/><circle cx="639.6" cy="196.7" r="3.5"/><circle cx="578.1" cy="209.7" r="3.5"/><circle cx="465.3" cy="153.1" r="3.5"/><circle cx="452.8" cy="155.4" r="3.5"/><circle cx="572.5" cy="133.1" r="3.5"/><circle cx="477.3" cy="176" r="3.5"/><circle cx="534.2" cy="186.8" r="3.5"/><circle cx="535.2" cy="176.8" r="3.5"/><circle cx="620.4" cy="239.6" r="3.5"/><circle cx="640.9" cy="171.4" r="3.5"/><circle cx="575.9" cy="204.4" r="3.5"/><circle cx="537.3" cy="183.7" r="3.5"/><circle cx="591.4" cy="209.7" r="3.5"/><circle cx="450.5" cy="156.1" r="3.5"/><circle cx="494.7" cy="160" r="3.5"/><circle cx="561" cy="184.5" r="3.5"/><circle cx="587.2" cy="204.4" r="3.5"/><circle cx="611.9" cy="182.9" r="3.5"/><circle cx="538.8" cy="186" r="3.5"/><circle cx="593" cy="201.3" r="3.5"/><circle cx="475.7" cy="169.9" r="3.5"/><circle cx="552" cy="168.4" r="3.5"/><circle cx="546.2" cy="169.9" r="3.5"/><circle cx="534.3" cy="175.3" r="3.5"/><circle cx="504.7" cy="182.2" r="3.5"/><circle cx="570.7" cy="205.1" r="3.5"/><circle cx="465.5" cy="156.1" r="3.5"/><circle cx="537.7" cy="179.1" r="3.5"/><circle cx="563.1" cy="154.6" r="3.5"/><circle cx="548.8" cy="187.5" r="3.5"/><circle cx="515.1" cy="143.9" r="3.5"/><circle cx="541.6" cy="184.5" r="3.5"/><circle cx="652.5" cy="275.9" r="3.5"/><circle cx="466.3" cy="159.2" r="3.5"/><circle cx="608.2" cy="163" r="3.5"/><circle cx="572.1" cy="198.3" r="3.5"/><circle cx="634.5" cy="233.5" r="3.5"/><circle cx="642.7" cy="92.5" r="3.5"/><circle cx="447.5" cy="156.9" r="3.5"/><circle cx="493.8" cy="179.9" r="3.5"/><circle cx="509" cy="177.6" r="3.5"/><circle cx="527.7" cy="150.8" r="3.5"/><circle cx="623.8" cy="202.1" r="3.5"/><circle cx="465.6" cy="159.2" r="3.5"/><circle cx="633.2" cy="196.7" r="3.5"/><circle cx="493" cy="167.6" r="3.5"/><circle cx="516.2" cy="173.7" r="3.5"/><circle cx="542" cy="192.1" r="3.5"/><circle cx="551.4" cy="191.4" r="3.5"/><circle cx="475.5" cy="171.4" r="3.5"/><circle cx="442.8" cy="162.3" r="3.5"/><circle cx="534.5" cy="182.2" r="3.5"/><circle cx="492.7" cy="174.5" r="3.5"/><circle cx="580.9" cy="173.7" r="3.5"/><circle cx="450.8" cy="163.8" r="3.5"/><circle cx="497.9" cy="168.4" r="3.5"/><circle cx="574.4" cy="179.9" r="3.5"/><circle cx="607.9" cy="215.9" r="3.5"/><circle cx="625.8" cy="222.8" r="3.5"/><circle cx="469.1" cy="163.8" r="3.5"/><circle cx="507.8" cy="186" r="3.5"/><circle cx="642.4" cy="124.7" r="3.5"/><circle cx="596.3" cy="137.7" r="3.5"/><circle cx="611.3" cy="221.2" r="3.5"/><circle cx="628.3" cy="215.9" r="3.5"/><circle cx="469.7" cy="166.1" r="3.5"/><circle cx="610.8" cy="221.2" r="3.5"/><circle cx="619.2" cy="190.6" r="3.5"/><circle cx="533.6" cy="185.2" r="3.5"/><circle cx="557" cy="127.8" r="3.5"/><circle cx="566.8" cy="202.1" r="3.5"/><circle cx="635.7" cy="127.8" r="3.5"/><circle cx="445.7" cy="147.7" r="3.5"/><circle cx="646.9" cy="141.6" r="3.5"/><circle cx="557.6" cy="182.9" r="3.5"/><circle cx="599.7" cy="182.9" r="3.5"/><circle cx="446.2" cy="146.9" r="3.5"/><circle cx="585.4" cy="160.7" r="3.5"/><circle cx="554.9" cy="196.7" r="3.5"/><circle cx="592.7" cy="224.3" r="3.5"/><circle cx="466.7" cy="169.1" r="3.5"/><circle cx="443.3" cy="147.7" r="3.5"/><circle cx="446.2" cy="165.3" r="3.5"/><circle cx="486.7" cy="179.9" r="3.5"/><circle cx="452.2" cy="169.1" r="3.5"/><circle cx="568.4" cy="191.4" r="3.5"/><circle cx="586.6" cy="195.2" r="3.5"/><circle cx="610.9" cy="202.8" r="3.5"/><circle cx="486.4" cy="166.8" r="3.5"/><circle cx="528.1" cy="184.5" r="3.5"/><circle cx="581.6" cy="202.1" r="3.5"/><circle cx="528.9" cy="187.5" r="3.5"/><circle cx="501.4" cy="190.6" r="3.5"/><circle cx="635.5" cy="196.7" r="3.5"/><circle cx="613.3" cy="202.8" r="3.5"/><circle cx="602.9" cy="212" r="3.5"/><circle cx="603.7" cy="186" r="3.5"/><circle cx="527.6" cy="187.5" r="3.5"/><circle cx="452.2" cy="168.4" r="3.5"/><circle cx="473.6" cy="167.6" r="3.5"/><circle cx="648" cy="277" r="3.5"/><circle cx="498.3" cy="173" r="3.5"/><circle cx="492.3" cy="174.5" r="3.5"/><circle cx="479.8" cy="166.8" r="3.5"/><circle cx="527.9" cy="175.3" r="3.5"/><circle cx="448" cy="152.3" r="3.5"/><circle cx="611.4" cy="189.8" r="3.5"/><circle cx="459.3" cy="153.8" r="3.5"/><circle cx="538.7" cy="194.4" r="3.5"/><circle cx="483.9" cy="174.5" r="3.5"/><circle cx="482.5" cy="166.8" r="3.5"/><circle cx="595.6" cy="225.8" r="3.5"/><circle cx="463.9" cy="159.2" r="3.5"/><circle cx="553.3" cy="190.6" r="3.5"/><circle cx="585" cy="206.7" r="3.5"/><circle cx="461.5" cy="170.7" r="3.5"/><circle cx="597.8" cy="226.6" r="3.5"/><circle cx="451.6" cy="162.3" r="3.5"/><circle cx="566.1" cy="212" r="3.5"/><circle cx="607.4" cy="225.8" r="3.5"/><circle cx="543.4" cy="184.5" r="3.5"/><circle cx="449.6" cy="157.7" r="3.5"/><circle cx="463" cy="163.8" r="3.5"/><circle cx="494.1" cy="131.6" r="3.5"/><circle cx="484.4" cy="171.4" r="3.5"/><circle cx="638.9" cy="244.2" r="3.5"/><circle cx="510.7" cy="173.7" r="3.5"/><circle cx="462.4" cy="159.2" r="3.5"/><circle cx="525.9" cy="183.7" r="3.5"/><circle cx="496.6" cy="173" r="3.5"/><circle cx="496.7" cy="172.2" r="3.5"/><circle cx="579.4" cy="206.7" r="3.5"/><circle cx="500.4" cy="175.3" r="3.5"/><circle cx="512.5" cy="185.2" r="3.5"/><circle cx="631.5" cy="228.9" r="3.5"/><circle cx="637" cy="245.7" r="3.5"/><circle cx="486.6" cy="179.9" r="3.5"/><circle cx="578.3" cy="205.1" r="3.5"/><circle cx="563.8" cy="190.6" r="3.5"/><circle cx="587.9" cy="216.6" r="3.5"/><circle cx="509.3" cy="184.5" r="3.5"/><circle cx="494" cy="173" r="3.5"/><circle cx="468" cy="169.1" r="3.5"/><circle cx="634.8" cy="254.9" r="3.5"/><circle cx="644.4" cy="255.7" r="3.5"/><circle cx="445.3" cy="159.2" r="3.5"/><circle cx="641.3" cy="134.7" r="3.5"/><circle cx="479.3" cy="163.8" r="3.5"/><circle cx="636.3" cy="99.4" r="3.5"/><circle cx="511.3" cy="178.3" r="3.5"/><circle cx="603.6" cy="210.5" r="3.5"/><circle cx="481.6" cy="166.1" r="3.5"/><circle cx="588.9" cy="217.4" r="3.5"/><circle cx="449.2" cy="162.3" r="3.5"/><circle cx="559.9" cy="202.1" r="3.5"/><circle cx="562.9" cy="205.9" r="3.5"/><circle cx="590" cy="208.2" r="3.5"/><circle cx="504.5" cy="177.6" r="3.5"/><circle cx="474.9" cy="166.1" r="3.5"/><circle cx="536.2" cy="195.2" r="3.5"/><circle cx="573" cy="194.4" r="3.5"/><circle cx="560.4" cy="199" r="3.5"/><circle cx="596.5" cy="218.2" r="3.5"/><circle cx="614.9" cy="231.2" r="3.5"/><circle cx="574.5" cy="201.3" r="3.5"/><circle cx="635.8" cy="88.7" r="3.5"/><circle cx="537" cy="189.8" r="3.5"/><circle cx="447.5" cy="147.7" r="3.5"/><circle cx="618.9" cy="222" r="3.5"/><circle cx="570.6" cy="199" r="3.5"/><circle cx="562.1" cy="150" r="3.5"/><circle cx="499.2" cy="179.9" r="3.5"/><circle cx="519.9" cy="188.3" r="3.5"/><circle cx="581.5" cy="212" r="3.5"/><circle cx="554.3" cy="183.7" r="3.5"/><circle cx="632" cy="225.8" r="3.5"/><circle cx="638.8" cy="152.3" r="3.5"/><circle cx="456.9" cy="133.9" r="3.5"/><circle cx="442.9" cy="144.6" r="3.5"/><circle cx="545.1" cy="188.3" r="3.5"/><circle cx="624" cy="224.3" r="3.5"/><circle cx="548" cy="197.5" r="3.5"/><circle cx="443.4" cy="155.4" r="3.5"/><circle cx="505.5" cy="169.1" r="3.5"/><circle cx="473.9" cy="160.7" r="3.5"/><circle cx="612.9" cy="204.4" r="3.5"/><circle cx="619.1" cy="199.8" r="3.5"/><circle cx="604.4" cy="163.8" r="3.5"/><circle cx="641.6" cy="222" r="3.5"/><circle cx="542.8" cy="192.1" r="3.5"/><circle cx="628.4" cy="238.9" r="3.5"/><circle cx="596.5" cy="154.6" r="3.5"/><circle cx="487.1" cy="163.8" r="3.5"/><circle cx="622.1" cy="223.5" r="3.5"/><circle cx="446.3" cy="160" r="3.5"/><circle cx="462" cy="157.7" r="3.5"/><circle cx="566.6" cy="154.6" r="3.5"/><circle cx="513.3" cy="192.1" r="3.5"/><circle cx="550.7" cy="180.6" r="3.5"/><circle cx="458.1" cy="159.2" r="3.5"/><circle cx="443.3" cy="147.7" r="3.5"/><circle cx="566" cy="191.4" r="3.5"/><circle cx="551.3" cy="196" r="3.5"/><circle cx="541.5" cy="186" r="3.5"/><circle cx="501.2" cy="172.2" r="3.5"/><circle cx="638.3" cy="173" r="3.5"/><circle cx="568.4" cy="206.7" r="3.5"/><circle cx="469.8" cy="166.1" r="3.5"/><circle cx="619.8" cy="170.7" r="3.5"/><circle cx="554.5" cy="194.4" r="3.5"/><circle cx="566.1" cy="197.5" r="3.5"/><circle cx="573.6" cy="150.8" r="3.5"/><circle cx="643.2" cy="94.1" r="3.5"/><circle cx="583" cy="200.6" r="3.5"/><circle cx="473.2" cy="162.3" r="3.5"/><circle cx="532.1" cy="178.3" r="3.5"/><circle cx="562.4" cy="189.8" r="3.5"/><circle cx="478.4" cy="172.2" r="3.5"/><circle cx="619.4" cy="224.3" r="3.5"/><circle cx="474.1" cy="172.2" r="3.5"/><circle cx="492.9" cy="176.8" r="3.5"/><circle cx="442.7" cy="151.5" r="3.5"/><circle cx="639.1" cy="235" r="3.5"/><circle cx="552.6" cy="183.7" r="3.5"/><circle cx="544.7" cy="193.7" r="3.5"/><circle cx="527" cy="175.3" r="3.5"/><circle cx="630.7" cy="235.8" r="3.5"/><circle cx="469.2" cy="158.4" r="3.5"/><circle cx="554.8" cy="193.7" r="3.5"/><circle cx="620.7" cy="209" r="3.5"/><circle cx="443.8" cy="163.8" r="3.5"/><circle cx="552.5" cy="189.1" r="3.5"/><circle cx="485.2" cy="172.2" r="3.5"/><circle cx="558.2" cy="176.8" r="3.5"/><circle cx="443" cy="150.8" r="3.5"/><circle cx="616.3" cy="231.2" r="3.5"/><circle cx="505.5" cy="179.1" r="3.5"/><circle cx="536.5" cy="193.7" r="3.5"/><circle cx="544.8" cy="180.6" r="3.5"/><circle cx="473.3" cy="168.4" r="3.5"/><circle cx="452.8" cy="152.3" r="3.5"/><circle cx="481.5" cy="166.8" r="3.5"/><circle cx="542.4" cy="187.5" r="3.5"/><circle cx="469.6" cy="165.3" r="3.5"/><circle cx="462.8" cy="166.8" r="3.5"/><circle cx="503.2" cy="179.1" r="3.5"/><circle cx="586.8" cy="204.4" r="3.5"/><circle cx="548.5" cy="157.7" r="3.5"/><circle cx="444.9" cy="161.5" r="3.5"/><circle cx="538.3" cy="169.9" r="3.5"/><circle cx="637.6" cy="258" r="3.5"/><circle cx="458.2" cy="169.9" r="3.5"/><circle cx="443.6" cy="156.1" r="3.5"/><circle cx="492.7" cy="176" r="3.5"/><circle cx="501.8" cy="175.3" r="3.5"/><circle cx="521.6" cy="168.4" r="3.5"/><circle cx="464.9" cy="162.3" r="3.5"/><circle cx="523.7" cy="184.5" r="3.5"/><circle cx="504.2" cy="170.7" r="3.5"/><circle cx="479.6" cy="172.2" r="3.5"/><circle cx="448.5" cy="160" r="3.5"/><circle cx="581" cy="134.7" r="3.5"/><circle cx="541.1" cy="189.1" r="3.5"/><circle cx="468.3" cy="165.3" r="3.5"/><circle cx="552.4" cy="173.7" r="3.5"/><circle cx="524.9" cy="191.4" r="3.5"/><circle cx="526.1" cy="178.3" r="3.5"/><circle cx="454.5" cy="156.9" r="3.5"/><circle cx="571.7" cy="201.3" r="3.5"/><circle cx="580.2" cy="212" r="3.5"/><circle cx="524" cy="186" r="3.5"/><circle cx="444.5" cy="160" r="3.5"/><circle cx="533.5" cy="179.9" r="3.5"/><circle cx="468.6" cy="166.1" r="3.5"/><circle cx="451.9" cy="156.9" r="3.5"/><circle cx="467.8" cy="162.3" r="3.5"/><circle cx="521.9" cy="153.1" r="3.5"/><circle cx="547.7" cy="194.4" r="3.5"/><circle cx="594.3" cy="217.4" r="3.5"/><circle cx="520" cy="181.4" r="3.5"/><circle cx="600.8" cy="205.1" r="3.5"/><circle cx="641.6" cy="218.2" r="3.5"/><circle cx="564.8" cy="199" r="3.5"/><circle cx="640.7" cy="89.5" r="3.5"/><circle cx="597.3" cy="199" r="3.5"/><circle cx="498.9" cy="174.5" r="3.5"/><circle cx="548.4" cy="176.8" r="3.5"/><circle cx="583.8" cy="178.3" r="3.5"/><circle cx="648.7" cy="260.3" r="3.5"/><circle cx="541.3" cy="181.4" r="3.5"/><circle cx="608.3" cy="222" r="3.5"/><circle cx="560.7" cy="198.3" r="3.5"/><circle cx="559.6" cy="201.3" r="3.5"/><circle cx="472.9" cy="170.7" r="3.5"/><circle cx="571.4" cy="187.5" r="3.5"/><circle cx="568.6" cy="173" r="3.5"/><circle cx="507.4" cy="167.6" r="3.5"/><circle cx="556.4" cy="191.4" r="3.5"/><circle cx="561.7" cy="199" r="3.5"/><circle cx="513.1" cy="137.7" r="3.5"/><circle cx="553.7" cy="196" r="3.5"/><circle cx="645.8" cy="265.2" r="3.5"/><circle cx="494.9" cy="176" r="3.5"/><circle cx="593.2" cy="206.7" r="3.5"/><circle cx="543" cy="185.2" r="3.5"/><circle cx="527.4" cy="181.4" r="3.5"/><circle cx="633.4" cy="194.4" r="3.5"/><circle cx="534.8" cy="191.4" r="3.5"/><circle cx="451.8" cy="153.1" r="3.5"/><circle cx="506.9" cy="172.2" r="3.5"/><circle cx="514.1" cy="177.6" r="3.5"/><circle cx="630.1" cy="118.6" r="3.5"/><circle cx="538.8" cy="193.7" r="3.5"/><circle cx="524.3" cy="182.2" r="3.5"/><circle cx="617.9" cy="169.9" r="3.5"/><circle cx="534.2" cy="191.4" r="3.5"/><circle cx="471.6" cy="171.4" r="3.5"/><circle cx="481" cy="172.2" r="3.5"/><circle cx="610" cy="193.7" r="3.5"/><circle cx="503.5" cy="157.7" r="3.5"/><circle cx="648.5" cy="240.4" r="3.5"/><circle cx="570.8" cy="194.4" r="3.5"/><circle cx="564.1" cy="186" r="3.5"/><circle cx="644.5" cy="254.2" r="3.5"/><circle cx="565.9" cy="189.1" r="3.5"/><circle cx="525" cy="173.7" r="3.5"/><circle cx="641.2" cy="261.1" r="3.5"/><circle cx="514.9" cy="183.7" r="3.5"/><circle cx="448.1" cy="160" r="3.5"/><circle cx="490.5" cy="166.1" r="3.5"/><circle cx="611" cy="230.4" r="3.5"/><circle cx="531.9" cy="168.4" r="3.5"/><circle cx="535.1" cy="174.5" r="3.5"/><circle cx="461" cy="159.2" r="3.5"/><circle cx="626" cy="232" r="3.5"/><circle cx="591.5" cy="173.7" r="3.5"/><circle cx="473.4" cy="165.3" r="3.5"/><circle cx="608.7" cy="113.2" r="3.5"/><circle cx="505.1" cy="175.3" r="3.5"/><circle cx="464.1" cy="166.8" r="3.5"/><circle cx="562.6" cy="152.3" r="3.5"/><circle cx="467.7" cy="162.3" r="3.5"/><circle cx="517.4" cy="176" r="3.5"/><circle cx="455.6" cy="155.4" r="3.5"/><circle cx="513.9" cy="173.7" r="3.5"/><circle cx="559.2" cy="189.8" r="3.5"/><circle cx="646.6" cy="209.7" r="3.5"/><circle cx="533.2" cy="183.7" r="3.5"/><circle cx="519.4" cy="182.9" r="3.5"/><circle cx="630.5" cy="235.8" r="3.5"/><circle cx="477" cy="169.9" r="3.5"/><circle cx="475.1" cy="156.9" r="3.5"/><circle cx="480.7" cy="166.8" r="3.5"/><circle cx="467" cy="160" r="3.5"/><circle cx="470.8" cy="159.2" r="3.5"/><circle cx="522.1" cy="170.7" r="3.5"/><circle cx="623.9" cy="229.7" r="3.5"/><circle cx="622.5" cy="207.4" r="3.5"/><circle cx="518.7" cy="180.6" r="3.5"/><circle cx="616.8" cy="206.7" r="3.5"/><circle cx="461.3" cy="159.2" r="3.5"/><circle cx="589.5" cy="207.4" r="3.5"/><circle cx="637.4" cy="245.7" r="3.5"/><circle cx="615" cy="235" r="3.5"/><circle cx="565.3" cy="200.6" r="3.5"/><circle cx="642.9" cy="246.5" r="3.5"/><circle cx="449.5" cy="150" r="3.5"/><circle cx="497.6" cy="179.9" r="3.5"/><circle cx="536.1" cy="186.8" r="3.5"/><circle cx="639.7" cy="249.6" r="3.5"/><circle cx="567.7" cy="202.1" r="3.5"/><circle cx="585.1" cy="214.3" r="3.5"/><circle cx="624.8" cy="189.8" r="3.5"/><circle cx="627.3" cy="225.1" r="3.5"/><circle cx="466.8" cy="160.7" r="3.5"/><circle cx="469.9" cy="169.9" r="3.5"/><circle cx="520.9" cy="169.1" r="3.5"/><circle cx="508.2" cy="177.6" r="3.5"/><circle cx="507.9" cy="174.5" r="3.5"/><circle cx="618.2" cy="193.7" r="3.5"/><circle cx="618.8" cy="242.7" r="3.5"/><circle cx="539.8" cy="182.2" r="3.5"/><circle cx="487.8" cy="167.6" r="3.5"/><circle cx="630.6" cy="232" r="3.5"/><circle cx="539.1" cy="196.7" r="3.5"/><circle cx="640.3" cy="248.8" r="3.5"/><circle cx="577.3" cy="198.3" r="3.5"/><circle cx="463.4" cy="156.1" r="3.5"/><circle cx="645.5" cy="228.9" r="3.5"/><circle cx="454.2" cy="166.1" r="3.5"/><circle cx="514.3" cy="153.1" r="3.5"/><circle cx="604" cy="216.6" r="3.5"/><circle cx="484.8" cy="157.7" r="3.5"/><circle cx="482.6" cy="177.6" r="3.5"/><circle cx="570" cy="199" r="3.5"/><circle cx="626.4" cy="236.6" r="3.5"/><circle cx="613.2" cy="219.7" r="3.5"/><circle cx="577.6" cy="202.8" r="3.5"/><circle cx="627.4" cy="248" r="3.5"/><circle cx="587.5" cy="188.3" r="3.5"/><circle cx="574.3" cy="196.7" r="3.5"/><circle cx="531.6" cy="181.4" r="3.5"/><circle cx="623.5" cy="227.4" r="3.5"/><circle cx="561.4" cy="195.2" r="3.5"/><circle cx="487.2" cy="157.7" r="3.5"/><circle cx="523.5" cy="184.5" r="3.5"/><circle cx="471.5" cy="169.1" r="3.5"/><circle cx="607.7" cy="221.2" r="3.5"/><circle cx="575.4" cy="201.3" r="3.5"/><circle cx="567.6" cy="194.4" r="3.5"/><circle cx="559.4" cy="192.1" r="3.5"/><circle cx="531.1" cy="181.4" r="3.5"/><circle cx="448.4" cy="151.5" r="3.5"/><circle cx="443.6" cy="156.1" r="3.5"/><circle cx="553.6" cy="178.3" r="3.5"/><circle cx="517.4" cy="173.7" r="3.5"/><circle cx="524.1" cy="149.2" r="3.5"/><circle cx="629.3" cy="235" r="3.5"/><circle cx="545.8" cy="193.7" r="3.5"/><circle cx="533.1" cy="189.8" r="3.5"/><circle cx="494.8" cy="163.8" r="3.5"/><circle cx="491.7" cy="169.1" r="3.5"/><circle cx="512.4" cy="182.9" r="3.5"/><circle cx="591.9" cy="215.9" r="3.5"/><circle cx="479.4" cy="178.3" r="3.5"/><circle cx="552.8" cy="192.9" r="3.5"/><circle cx="617.2" cy="209" r="3.5"/><circle cx="633" cy="189.8" r="3.5"/><circle cx="638.1" cy="234.3" r="3.5"/><circle cx="523.6" cy="187.5" r="3.5"/><circle cx="542.2" cy="180.6" r="3.5"/><circle cx="647.8" cy="269.8" r="3.5"/><circle cx="574.6" cy="177.6" r="3.5"/><circle cx="484.5" cy="166.1" r="3.5"/><circle cx="465" cy="166.1" r="3.5"/><circle cx="511.5" cy="166.8" r="3.5"/><circle cx="525.2" cy="181.4" r="3.5"/><circle cx="565.5" cy="207.4" r="3.5"/><circle cx="576.4" cy="215.9" r="3.5"/><circle cx="528.3" cy="174.5" r="3.5"/><circle cx="476.1" cy="163.8" r="3.5"/><circle cx="597.6" cy="212.8" r="3.5"/><circle cx="484.7" cy="173" r="3.5"/><circle cx="584.8" cy="194.4" r="3.5"/><circle cx="529.6" cy="185.2" r="3.5"/><circle cx="579.5" cy="200.6" r="3.5"/><circle cx="561.2" cy="201.3" r="3.5"/><circle cx="584.2" cy="201.3" r="3.5"/><circle cx="622.3" cy="239.6" r="3.5"/><circle cx="626.1" cy="183.7" r="3.5"/><circle cx="650.2" cy="270.1" r="3.5"/><circle cx="462.5" cy="159.2" r="3.5"/><circle cx="529.3" cy="161.5" r="3.5"/><circle cx="491.2" cy="176" r="3.5"/><circle cx="590.2" cy="218.2" r="3.5"/><circle cx="448.8" cy="157.7" r="3.5"/><circle cx="542.1" cy="184.5" r="3.5"/><circle cx="546" cy="189.1" r="3.5"/><circle cx="571.8" cy="200.6" r="3.5"/><circle cx="463.1" cy="161.5" r="3.5"/><circle cx="582.6" cy="206.7" r="3.5"/><circle cx="598.3" cy="198.3" r="3.5"/><circle cx="572.6" cy="196" r="3.5"/><circle cx="512.3" cy="183.7" r="3.5"/><circle cx="442.9" cy="153.1" r="3.5"/><circle cx="604.8" cy="228.9" r="3.5"/><circle cx="486.9" cy="179.1" r="3.5"/><circle cx="533.5" cy="185.2" r="3.5"/><circle cx="528.2" cy="189.1" r="3.5"/><circle cx="578" cy="212.8" r="3.5"/><circle cx="558.9" cy="185.2" r="3.5"/><circle cx="579.7" cy="180.6" r="3.5"/><circle cx="476.6" cy="170.7" r="3.5"/><circle cx="604.4" cy="208.2" r="3.5"/><circle cx="574.8" cy="196.7" r="3.5"/><circle cx="609" cy="213.6" r="3.5"/><circle cx="542.8" cy="188.3" r="3.5"/><circle cx="567.5" cy="191.4" r="3.5"/><circle cx="615.9" cy="210.5" r="3.5"/><circle cx="503.2" cy="181.4" r="3.5"/><circle cx="532.2" cy="175.3" r="3.5"/><circle cx="450.1" cy="164.6" r="3.5"/><circle cx="492.5" cy="171.4" r="3.5"/><circle cx="468.2" cy="169.9" r="3.5"/><circle cx="518.3" cy="188.3" r="3.5"/><circle cx="457.4" cy="152.3" r="3.5"/><circle cx="443.9" cy="152.3" r="3.5"/><circle cx="570.5" cy="207.4" r="3.5"/><circle cx="487.1" cy="164.6" r="3.5"/><circle cx="468.1" cy="169.9" r="3.5"/><circle cx="451.3" cy="161.5" r="3.5"/><circle cx="559.8" cy="166.8" r="3.5"/><circle cx="557.3" cy="160.7" r="3.5"/><circle cx="583.3" cy="218.2" r="3.5"/><circle cx="600.7" cy="158.4" r="3.5"/><circle cx="641.9" cy="258" r="3.5"/><circle cx="486.7" cy="166.1" r="3.5"/><circle cx="447.4" cy="150" r="3.5"/><circle cx="571.7" cy="179.9" r="3.5"/><circle cx="601.6" cy="206.7" r="3.5"/><circle cx="491.4" cy="174.5" r="3.5"/><circle cx="575.4" cy="203.6" r="3.5"/><circle cx="556.9" cy="202.8" r="3.5"/><circle cx="634.4" cy="137.7" r="3.5"/><circle cx="461.4" cy="163" r="3.5"/><circle cx="630.3" cy="248.8" r="3.5"/><circle cx="605.2" cy="232.7" r="3.5"/><circle cx="472.3" cy="159.2" r="3.5"/><circle cx="590.2" cy="216.6" r="3.5"/><circle cx="523.9" cy="182.9" r="3.5"/><circle cx="466.2" cy="173" r="3.5"/><circle cx="553" cy="164.6" r="3.5"/><circle cx="483.8" cy="176.8" r="3.5"/><circle cx="588.9" cy="204.4" r="3.5"/><circle cx="472.5" cy="171.4" r="3.5"/><circle cx="490" cy="170.7" r="3.5"/><circle cx="582.5" cy="205.1" r="3.5"/><circle cx="469.5" cy="173.7" r="3.5"/><circle cx="560" cy="141.6" r="3.5"/><circle cx="483.2" cy="173" r="3.5"/><circle cx="474.9" cy="176" r="3.5"/><circle cx="447.3" cy="146.2" r="3.5"/><circle cx="543.3" cy="192.1" r="3.5"/><circle cx="599.2" cy="159.2" r="3.5"/><circle cx="476.3" cy="173.7" r="3.5"/><circle cx="534.4" cy="175.3" r="3.5"/><circle cx="649.5" cy="274.6" r="3.5"/><circle cx="474" cy="172.2" r="3.5"/><circle cx="517.1" cy="182.2" r="3.5"/><circle cx="505.8" cy="174.5" r="3.5"/><circle cx="506" cy="179.1" r="3.5"/><circle cx="572.4" cy="179.1" r="3.5"/><circle cx="446.6" cy="150" r="3.5"/><circle cx="579.2" cy="173.7" r="3.5"/><circle cx="630.1" cy="246.5" r="3.5"/><circle cx="635.4" cy="240.4" r="3.5"/><circle cx="630" cy="202.8" r="3.5"/><circle cx="460.5" cy="160.7" r="3.5"/><circle cx="582" cy="153.8" r="3.5"/><circle cx="483.5" cy="168.4" r="3.5"/><circle cx="503.6" cy="167.6" r="3.5"/><circle cx="469.9" cy="160.7" r="3.5"/><circle cx="637.3" cy="220.5" r="3.5"/><circle cx="643.3" cy="163" r="3.5"/><circle cx="635" cy="205.1" r="3.5"/><circle cx="593.8" cy="212.8" r="3.5"/><circle cx="629.4" cy="163" r="3.5"/><circle cx="522.3" cy="173" r="3.5"/><circle cx="487.5" cy="168.4" r="3.5"/><circle cx="631.4" cy="186.8" r="3.5"/><circle cx="509.1" cy="179.9" r="3.5"/><circle cx="599.4" cy="199" r="3.5"/><circle cx="468.7" cy="169.1" r="3.5"/><circle cx="579.3" cy="196.7" r="3.5"/><circle cx="551.5" cy="183.7" r="3.5"/><circle cx="531.7" cy="179.9" r="3.5"/><circle cx="540.8" cy="193.7" r="3.5"/><circle cx="488.9" cy="177.6" r="3.5"/><circle cx="453.6" cy="161.5" r="3.5"/><circle cx="591.5" cy="158.4" r="3.5"/><circle cx="453.9" cy="166.1" r="3.5"/><circle cx="507.3" cy="185.2" r="3.5"/><circle cx="453.8" cy="161.5" r="3.5"/><circle cx="653.7" cy="266.4" r="3.5"/><circle cx="569.8" cy="186" r="3.5"/><circle cx="564" cy="202.1" r="3.5"/><circle cx="478.2" cy="173" r="3.5"/><circle cx="498.1" cy="173" r="3.5"/><circle cx="572.7" cy="151.5" r="3.5"/><circle cx="443.1" cy="153.1" r="3.5"/><circle cx="590.5" cy="182.9" r="3.5"/><circle cx="637.2" cy="249.6" r="3.5"/><circle cx="606.9" cy="185.2" r="3.5"/><circle cx="447.8" cy="156.1" r="3.5"/><circle cx="507.2" cy="147.7" r="3.5"/><circle cx="646.2" cy="276.6" r="3.5"/><circle cx="492.3" cy="182.2" r="3.5"/><circle cx="460.2" cy="168.4" r="3.5"/><circle cx="504.6" cy="176.8" r="3.5"/><circle cx="624.7" cy="223.5" r="3.5"/><circle cx="590.6" cy="207.4" r="3.5"/><circle cx="642.2" cy="254.9" r="3.5"/><circle cx="484.9" cy="164.6" r="3.5"/><circle cx="578" cy="191.4" r="3.5"/><circle cx="653.8" cy="273.9" r="3.5"/><circle cx="519.7" cy="186.8" r="3.5"/><circle cx="452.9" cy="153.8" r="3.5"/><circle cx="555.5" cy="169.1" r="3.5"/><circle cx="598" cy="212" r="3.5"/><circle cx="479" cy="167.6" r="3.5"/><circle cx="611.3" cy="221.2" r="3.5"/><circle cx="609.9" cy="209" r="3.5"/><circle cx="445.6" cy="156.1" r="3.5"/><circle cx="526.8" cy="183.7" r="3.5"/><circle cx="601.9" cy="225.8" r="3.5"/><circle cx="464.2" cy="137" r="3.5"/><circle cx="490.4" cy="167.6" r="3.5"/><circle cx="631" cy="202.1" r="3.5"/><circle cx="475.9" cy="168.4" r="3.5"/><circle cx="630.9" cy="234.3" r="3.5"/><circle cx="595.4" cy="190.6" r="3.5"/><circle cx="586.6" cy="186.8" r="3.5"/><circle cx="553.2" cy="185.2" r="3.5"/><circle cx="581.4" cy="202.1" r="3.5"/><circle cx="511.7" cy="182.2" r="3.5"/><circle cx="479.9" cy="173" r="3.5"/><circle cx="635.2" cy="239.6" r="3.5"/><circle cx="551.6" cy="187.5" r="3.5"/><circle cx="567.5" cy="192.9" r="3.5"/><circle cx="545.1" cy="192.1" r="3.5"/><circle cx="551.2" cy="203.6" r="3.5"/><circle cx="571.2" cy="181.4" r="3.5"/><circle cx="505.9" cy="174.5" r="3.5"/><circle cx="594.8" cy="195.2" r="3.5"/><circle cx="448.9" cy="154.6" r="3.5"/><circle cx="529.9" cy="189.1" r="3.5"/><circle cx="623.3" cy="222.8" r="3.5"/><circle cx="539.4" cy="163.8" r="3.5"/><circle cx="469.3" cy="173" r="3.5"/><circle cx="619.3" cy="217.4" r="3.5"/><circle cx="476.7" cy="168.4" r="3.5"/><circle cx="512.4" cy="182.9" r="3.5"/><circle cx="456.2" cy="158.4" r="3.5"/><circle cx="500.9" cy="183.7" r="3.5"/><circle cx="573.4" cy="206.7" r="3.5"/><circle cx="572.7" cy="192.9" r="3.5"/><circle cx="470.6" cy="164.6" r="3.5"/><circle cx="526.9" cy="174.5" r="3.5"/><circle cx="498.9" cy="171.4" r="3.5"/><circle cx="538.1" cy="196.7" r="3.5"/><circle cx="559.2" cy="189.8" r="3.5"/><circle cx="586.9" cy="191.4" r="3.5"/><circle cx="639.4" cy="240.4" r="3.5"/><circle cx="525.6" cy="184.5" r="3.5"/><circle cx="591.7" cy="199" r="3.5"/><circle cx="602.1" cy="205.1" r="3.5"/><circle cx="576" cy="203.6" r="3.5"/><circle cx="644.1" cy="259.5" r="3.5"/><circle cx="476.9" cy="166.8" r="3.5"/><circle cx="552.6" cy="202.8" r="3.5"/><circle cx="571.5" cy="204.4" r="3.5"/><circle cx="459.9" cy="159.2" r="3.5"/><circle cx="448.2" cy="158.4" r="3.5"/><circle cx="469.3" cy="167.6" r="3.5"/><circle cx="500.6" cy="180.6" r="3.5"/><circle cx="546.6" cy="124" r="3.5"/><circle cx="470.2" cy="162.3" r="3.5"/><circle cx="623.1" cy="231.2" r="3.5"/><circle cx="647.2" cy="261.8" r="3.5"/><circle cx="627" cy="244.2" r="3.5"/><circle cx="542.7" cy="185.2" r="3.5"/><circle cx="499.8" cy="176" r="3.5"/><circle cx="603" cy="215.1" r="3.5"/><circle cx="536.7" cy="190.6" r="3.5"/><circle cx="561.1" cy="201.3" r="3.5"/><circle cx="505.2" cy="171.4" r="3.5"/><circle cx="643.2" cy="251.9" r="3.5"/><circle cx="526.5" cy="117.8" r="3.5"/><circle cx="641.7" cy="199" r="3.5"/><circle cx="499.1" cy="179.9" r="3.5"/><circle cx="478.9" cy="169.9" r="3.5"/><circle cx="573.9" cy="198.3" r="3.5"/><circle cx="592.6" cy="192.9" r="3.5"/><circle cx="489" cy="175.3" r="3.5"/><circle cx="524.2" cy="172.2" r="3.5"/><circle cx="616.5" cy="215.9" r="3.5"/><circle cx="444.7" cy="165.3" r="3.5"/><circle cx="477.2" cy="174.5" r="3.5"/><circle cx="547.4" cy="187.5" r="3.5"/><circle cx="637.9" cy="200.6" r="3.5"/><circle cx="587.6" cy="212.8" r="3.5"/><circle cx="643.9" cy="252.6" r="3.5"/><circle cx="466" cy="166.8" r="3.5"/><circle cx="572.3" cy="200.6" r="3.5"/><circle cx="513" cy="179.1" r="3.5"/><circle cx="637.3" cy="187.5" r="3.5"/><circle cx="464.3" cy="156.9" r="3.5"/><circle cx="484.4" cy="174.5" r="3.5"/><circle cx="602.1" cy="153.8" r="3.5"/><circle cx="463.8" cy="163" r="3.5"/><circle cx="473.1" cy="163" r="3.5"/><circle cx="511.6" cy="179.1" r="3.5"/><circle cx="598.8" cy="219.7" r="3.5"/><circle cx="637.6" cy="227.4" r="3.5"/><circle cx="519" cy="184.5" r="3.5"/><circle cx="648.8" cy="265.1" r="3.5"/><circle cx="472.3" cy="168.4" r="3.5"/><circle cx="532.8" cy="174.5" r="3.5"/><circle cx="578.2" cy="205.9" r="3.5"/><circle cx="628" cy="105.6" r="3.5"/><circle cx="518" cy="186" r="3.5"/><circle cx="500.3" cy="180.6" r="3.5"/><circle cx="510.5" cy="182.2" r="3.5"/><circle cx="613.9" cy="225.8" r="3.5"/><circle cx="517.1" cy="169.1" r="3.5"/><circle cx="637.8" cy="243.4" r="3.5"/><circle cx="605.9" cy="166.1" r="3.5"/><circle cx="561.5" cy="170.7" r="3.5"/><circle cx="628.1" cy="249.6" r="3.5"/><circle cx="469.4" cy="174.5" r="3.5"/><circle cx="502" cy="179.9" r="3.5"/><circle cx="485.7" cy="164.6" r="3.5"/><circle cx="617.6" cy="220.5" r="3.5"/><circle cx="621.3" cy="186.8" r="3.5"/><circle cx="481.2" cy="166.8" r="3.5"/><circle cx="512.6" cy="131.6" r="3.5"/><circle cx="594.1" cy="212" r="3.5"/><circle cx="466.5" cy="165.3" r="3.5"/><circle cx="533.4" cy="164.6" r="3.5"/><circle cx="654.5" cy="267.8" r="3.5"/><circle cx="499.6" cy="181.4" r="3.5"/><circle cx="462.2" cy="163" r="3.5"/><circle cx="455.4" cy="156.1" r="3.5"/><circle cx="566.4" cy="162.3" r="3.5"/><circle cx="477.7" cy="165.3" r="3.5"/><circle cx="631" cy="182.9" r="3.5"/><circle cx="646.8" cy="159.2" r="3.5"/><circle cx="605.6" cy="126.2" r="3.5"/><circle cx="599.1" cy="188.3" r="3.5"/><circle cx="563.5" cy="190.6" r="3.5"/><circle cx="586.2" cy="205.9" r="3.5"/><circle cx="593.8" cy="188.3" r="3.5"/><circle cx="652.6" cy="273.3" r="3.5"/><circle cx="482.1" cy="179.1" r="3.5"/><circle cx="593.1" cy="197.5" r="3.5"/><circle cx="546.7" cy="175.3" r="3.5"/><circle cx="547.3" cy="177.6" r="3.5"/><circle cx="491.4" cy="178.3" r="3.5"/><circle cx="607" cy="127.8" r="3.5"/><circle cx="625.4" cy="199" r="3.5"/><circle cx="563.2" cy="199" r="3.5"/><circle cx="458.5" cy="155.4" r="3.5"/><circle cx="600.3" cy="209.7" r="3.5"/><circle cx="555" cy="199.8" r="3.5"/><circle cx="599.5" cy="196.7" r="3.5"/><circle cx="640.6" cy="156.1" r="3.5"/><circle cx="559.5" cy="199" r="3.5"/><circle cx="632.7" cy="105.6" r="3.5"/><circle cx="645.5" cy="261.1" r="3.5"/><circle cx="602.8" cy="209.7" r="3.5"/><circle cx="609.5" cy="191.4" r="3.5"/><circle cx="647.6" cy="272.9" r="3.5"/><circle cx="618.1" cy="175.3" r="3.5"/><circle cx="620.2" cy="234.3" r="3.5"/><circle cx="516.1" cy="153.8" r="3.5"/><circle cx="644" cy="209.7" r="3.5"/><circle cx="447.6" cy="158.4" r="3.5"/><circle cx="459.4" cy="156.1" r="3.5"/><circle cx="530" cy="173.7" r="3.5"/><circle cx="468.6" cy="160" r="3.5"/><circle cx="522.6" cy="179.1" r="3.5"/><circle cx="471.4" cy="158.4" r="3.5"/><circle cx="556.3" cy="188.3" r="3.5"/><circle cx="470" cy="153.1" r="3.5"/><circle cx="495.6" cy="185.2" r="3.5"/><circle cx="576.7" cy="196" r="3.5"/><circle cx="540.5" cy="143.1" r="3.5"/><circle cx="626.8" cy="231.2" r="3.5"/><circle cx="548.3" cy="189.1" r="3.5"/><circle cx="500.7" cy="173.7" r="3.5"/><circle cx="509.2" cy="186.8" r="3.5"/><circle cx="456.3" cy="159.2" r="3.5"/><circle cx="523" cy="179.9" r="3.5"/><circle cx="538" cy="185.2" r="3.5"/><circle cx="539.1" cy="182.9" r="3.5"/><circle cx="542.6" cy="161.5" r="3.5"/><circle cx="488.4" cy="131.6" r="3.5"/><circle cx="640.6" cy="170.7" r="3.5"/><circle cx="643.6" cy="215.9" r="3.5"/><circle cx="476.4" cy="173" r="3.5"/><circle cx="547.6" cy="195.2" r="3.5"/><circle cx="463.6" cy="160.7" r="3.5"/><circle cx="610.3" cy="220.5" r="3.5"/><circle cx="596.8" cy="219.7" r="3.5"/><circle cx="635.3" cy="251.1" r="3.5"/><circle cx="454.6" cy="152.3" r="3.5"/><circle cx="486" cy="169.9" r="3.5"/><circle cx="585.8" cy="216.6" r="3.5"/><circle cx="508.6" cy="185.2" r="3.5"/><circle cx="526.6" cy="192.1" r="3.5"/><circle cx="555.9" cy="192.9" r="3.5"/><circle cx="642.5" cy="259.5" r="3.5"/><circle cx="444.8" cy="153.8" r="3.5"/><circle cx="473.2" cy="165.3" r="3.5"/><circle cx="451.4" cy="160.7" r="3.5"/><circle cx="558.4" cy="193.7" r="3.5"/><circle cx="597" cy="184.5" r="3.5"/><circle cx="639.8" cy="225.8" r="3.5"/><circle cx="573.2" cy="178.3" r="3.5"/><circle cx="601.4" cy="215.9" r="3.5"/><circle cx="601.4" cy="218.9" r="3.5"/><circle cx="442.6" cy="155.4" r="3.5"/><circle cx="528.6" cy="151.5" r="3.5"/><circle cx="498.6" cy="181.4" r="3.5"/><circle cx="575.2" cy="212.8" r="3.5"/><circle cx="568.1" cy="199.8" r="3.5"/><circle cx="477.2" cy="163.8" r="3.5"/><circle cx="496.1" cy="171.4" r="3.5"/><circle cx="466.3" cy="160.7" r="3.5"/><circle cx="589.4" cy="200.6" r="3.5"/><circle cx="522.2" cy="181.4" r="3.5"/><circle cx="558" cy="185.2" r="3.5"/><circle cx="506.7" cy="186.8" r="3.5"/><circle cx="585.5" cy="188.3" r="3.5"/><circle cx="510.5" cy="169.9" r="3.5"/><circle cx="463.7" cy="166.8" r="3.5"/><circle cx="495.1" cy="179.9" r="3.5"/><circle cx="504.5" cy="177.6" r="3.5"/><circle cx="647" cy="265.7" r="3.5"/><circle cx="604.9" cy="222" r="3.5"/><circle cx="485.8" cy="171.4" r="3.5"/><circle cx="514.1" cy="176.8" r="3.5"/><circle cx="478.5" cy="176" r="3.5"/><circle cx="515.3" cy="171.4" r="3.5"/><circle cx="542.1" cy="186" r="3.5"/><circle cx="606.3" cy="210.5" r="3.5"/><circle cx="606.1" cy="199.8" r="3.5"/><circle cx="527.5" cy="191.4" r="3.5"/><circle cx="575.5" cy="192.9" r="3.5"/><circle cx="503.1" cy="185.2" r="3.5"/><circle cx="513.7" cy="171.4" r="3.5"/><circle cx="576.4" cy="198.3" r="3.5"/><circle cx="554" cy="166.8" r="3.5"/><circle cx="639.6" cy="258.8" r="3.5"/><circle cx="516.4" cy="192.9" r="3.5"/><circle cx="519.1" cy="186" r="3.5"/><circle cx="523.8" cy="164.6" r="3.5"/><circle cx="481.5" cy="176.8" r="3.5"/><circle cx="636.1" cy="246.5" r="3.5"/><circle cx="456" cy="162.3" r="3.5"/><circle cx="540.4" cy="140" r="3.5"/><circle cx="563" cy="193.7" r="3.5"/><circle cx="459" cy="154.6" r="3.5"/><circle cx="510.9" cy="179.9" r="3.5"/><circle cx="470.1" cy="162.3" r="3.5"/><circle cx="592.8" cy="208.2" r="3.5"/><circle cx="463.4" cy="171.4" r="3.5"/><circle cx="569.7" cy="165.3" r="3.5"/><circle cx="538.1" cy="173" r="3.5"/><circle cx="629.7" cy="237.3" r="3.5"/><circle cx="444.9" cy="162.3" r="3.5"/><circle cx="620.9" cy="171.4" r="3.5"/><circle cx="467.4" cy="172.2" r="3.5"/><circle cx="545.2" cy="182.9" r="3.5"/><circle cx="511.4" cy="186.8" r="3.5"/><circle cx="459.7" cy="159.2" r="3.5"/><circle cx="490.3" cy="172.2" r="3.5"/><circle cx="616.6" cy="234.3" r="3.5"/><circle cx="509.6" cy="180.6" r="3.5"/><circle cx="511" cy="153.1" r="3.5"/><circle cx="494.4" cy="174.5" r="3.5"/><circle cx="584.5" cy="176" r="3.5"/><circle cx="539.5" cy="193.7" r="3.5"/><circle cx="447.9" cy="154.6" r="3.5"/><circle cx="457.3" cy="165.3" r="3.5"/><circle cx="627.7" cy="241.9" r="3.5"/><circle cx="525.8" cy="176.8" r="3.5"/><circle cx="479.5" cy="166.8" r="3.5"/><circle cx="603.5" cy="172.2" r="3.5"/><circle cx="448.6" cy="156.1" r="3.5"/><circle cx="606.7" cy="101.7" r="3.5"/><circle cx="485.5" cy="163.8" r="3.5"/><circle cx="464.8" cy="152.3" r="3.5"/><circle cx="505.9" cy="184.5" r="3.5"/><circle cx="456.1" cy="160" r="3.5"/><circle cx="512" cy="173.7" r="3.5"/><circle cx="535.6" cy="170.7" r="3.5"/><circle cx="586.2" cy="210.5" r="3.5"/><circle cx="608.9" cy="215.1" r="3.5"/><circle cx="649.6" cy="268.3" r="3.5"/><circle cx="649" cy="270.9" r="3.5"/><circle cx="645.9" cy="267" r="3.5"/><circle cx="509.8" cy="171.4" r="3.5"/><circle cx="444.2" cy="162.3" r="3.5"/><circle cx="484.1" cy="178.3" r="3.5"/><circle cx="612.1" cy="202.8" r="3.5"/><circle cx="502.7" cy="176" r="3.5"/><circle cx="603.8" cy="225.8" r="3.5"/><circle cx="524.6" cy="185.2" r="3.5"/><circle cx="548.1" cy="185.2" r="3.5"/><circle cx="524.6" cy="186.8" r="3.5"/><circle cx="562.5" cy="188.3" r="3.5"/><circle cx="584.3" cy="207.4" r="3.5"/><circle cx="521" cy="177.6" r="3.5"/><circle cx="496.3" cy="161.5" r="3.5"/><circle cx="637.5" cy="260.3" r="3.5"/><circle cx="553.5" cy="193.7" r="3.5"/><circle cx="635.7" cy="254.9" r="3.5"/><circle cx="458.7" cy="157.7" r="3.5"/><circle cx="480.5" cy="169.9" r="3.5"/><circle cx="563.8" cy="163.8" r="3.5"/><circle cx="604.2" cy="226.6" r="3.5"/><circle cx="512.1" cy="182.2" r="3.5"/><circle cx="563.5" cy="186.8" r="3.5"/><circle cx="485" cy="163" r="3.5"/><circle cx="564.2" cy="201.3" r="3.5"/><circle cx="500" cy="173" r="3.5"/><circle cx="546.5" cy="189.1" r="3.5"/><circle cx="511.5" cy="171.4" r="3.5"/><circle cx="450.2" cy="168.4" r="3.5"/><circle cx="602.2" cy="215.9" r="3.5"/><circle cx="499.3" cy="181.4" r="3.5"/><circle cx="488.6" cy="178.3" r="3.5"/><circle cx="620.8" cy="232" r="3.5"/><circle cx="450.7" cy="160" r="3.5"/><circle cx="597.4" cy="207.4" r="3.5"/><circle cx="497.5" cy="179.1" r="3.5"/><circle cx="605.3" cy="163" r="3.5"/><circle cx="538.5" cy="190.6" r="3.5"/><circle cx="626.8" cy="208.2" r="3.5"/><circle cx="492.4" cy="170.7" r="3.5"/><circle cx="582.6" cy="189.1" r="3.5"/><circle cx="487" cy="176.8" r="3.5"/><circle cx="631.1" cy="235.8" r="3.5"/><circle cx="583.1" cy="129.3" r="3.5"/><circle cx="487.4" cy="175.3" r="3.5"/><circle cx="444.1" cy="133.1" r="3.5"/><circle cx="579" cy="128.5" r="3.5"/><circle cx="530.7" cy="183.7" r="3.5"/><circle cx="598.2" cy="214.3" r="3.5"/><circle cx="446.1" cy="149.2" r="3.5"/><circle cx="581.1" cy="212" r="3.5"/><circle cx="559.1" cy="186.8" r="3.5"/><circle cx="634.2" cy="209.7" r="3.5"/><circle cx="544.4" cy="182.9" r="3.5"/><circle cx="472.8" cy="172.2" r="3.5"/><circle cx="506.8" cy="181.4" r="3.5"/><circle cx="568.9" cy="185.2" r="3.5"/><circle cx="590.7" cy="192.9" r="3.5"/><circle cx="592.5" cy="202.8" r="3.5"/><circle cx="451.2" cy="163" r="3.5"/><circle cx="623.2" cy="209.7" r="3.5"/><circle cx="485.8" cy="177.6" r="3.5"/><circle cx="598.1" cy="212" r="3.5"/><circle cx="548.6" cy="189.1" r="3.5"/><circle cx="626.1" cy="228.1" r="3.5"/><circle cx="524.4" cy="184.5" r="3.5"/><circle cx="540" cy="163.8" r="3.5"/><circle cx="549.3" cy="176" r="3.5"/><circle cx="531.4" cy="181.4" r="3.5"/><circle cx="620.8" cy="209" r="3.5"/><circle cx="586.3" cy="218.2" r="3.5"/><circle cx="582.2" cy="210.5" r="3.5"/><circle cx="489.1" cy="179.9" r="3.5"/><circle cx="447.7" cy="162.3" r="3.5"/><circle cx="530.6" cy="164.6" r="3.5"/><circle cx="571.3" cy="192.1" r="3.5"/><circle cx="490.8" cy="172.2" r="3.5"/><circle cx="611.6" cy="202.8" r="3.5"/><circle cx="470.3" cy="160" r="3.5"/><circle cx="474.2" cy="170.7" r="3.5"/><circle cx="568.3" cy="197.5" r="3.5"/><circle cx="582.9" cy="191.4" r="3.5"/><circle cx="644.2" cy="251.9" r="3.5"/><circle cx="617.5" cy="235" r="3.5"/><circle cx="569.8" cy="199" r="3.5"/><circle cx="584.9" cy="199.8" r="3.5"/><circle cx="630.4" cy="237.3" r="3.5"/><circle cx="520.8" cy="176.8" r="3.5"/><circle cx="491" cy="172.2" r="3.5"/><circle cx="535.5" cy="179.9" r="3.5"/><circle cx="565.6" cy="173.7" r="3.5"/><circle cx="497.3" cy="169.9" r="3.5"/><circle cx="544.2" cy="190.6" r="3.5"/><circle cx="459.1" cy="160" r="3.5"/><circle cx="593.4" cy="188.3" r="3.5"/><circle cx="550.3" cy="190.6" r="3.5"/><circle cx="591.2" cy="134.7" r="3.5"/><circle cx="531.3" cy="195.2" r="3.5"/><circle cx="602.7" cy="222" r="3.5"/><circle cx="458.3" cy="156.1" r="3.5"/><circle cx="646.5" cy="270.1" r="3.5"/><circle cx="648.2" cy="276.5" r="3.5"/><circle cx="493.7" cy="179.1" r="3.5"/><circle cx="601" cy="124" r="3.5"/><circle cx="616.2" cy="170.7" r="3.5"/><circle cx="619.7" cy="196.7" r="3.5"/><circle cx="612.5" cy="231.2" r="3.5"/><circle cx="541.4" cy="171.4" r="3.5"/><circle cx="612.4" cy="233.5" r="3.5"/><circle cx="537.1" cy="184.5" r="3.5"/><circle cx="595.5" cy="211.3" r="3.5"/><circle cx="451.2" cy="155.4" r="3.5"/><circle cx="447.1" cy="153.8" r="3.5"/><circle cx="622.4" cy="164.6" r="3.5"/><circle cx="546" cy="191.4" r="3.5"/><circle cx="621.7" cy="200.6" r="3.5"/><circle cx="537.9" cy="186" r="3.5"/><circle cx="445.8" cy="162.3" r="3.5"/><circle cx="534.8" cy="191.4" r="3.5"/><circle cx="599.1" cy="161.5" r="3.5"/><circle cx="611.1" cy="237.3" r="3.5"/><circle cx="571.1" cy="192.1" r="3.5"/><circle cx="613.8" cy="217.4" r="3.5"/><circle cx="571.9" cy="207.4" r="3.5"/><circle cx="475.8" cy="163" r="3.5"/><circle cx="629.7" cy="228.1" r="3.5"/><circle cx="632.5" cy="241.9" r="3.5"/><circle cx="532.9" cy="194.4" r="3.5"/><circle cx="555.1" cy="193.7" r="3.5"/><circle cx="646.1" cy="266.7" r="3.5"/><circle cx="643.1" cy="254.2" r="3.5"/><circle cx="466" cy="165.3" r="3.5"/><circle cx="629.2" cy="136.2" r="3.5"/><circle cx="603.1" cy="191.4" r="3.5"/><circle cx="458.8" cy="160.7" r="3.5"/><circle cx="451.5" cy="161.5" r="3.5"/><circle cx="576.2" cy="185.2" r="3.5"/><circle cx="541.2" cy="182.9" r="3.5"/><circle cx="600.2" cy="218.2" r="3.5"/><circle cx="592.1" cy="187.5" r="3.5"/><circle cx="578.4" cy="193.7" r="3.5"/><circle cx="560.1" cy="195.2" r="3.5"/><circle cx="494" cy="167.6" r="3.5"/><circle cx="558.6" cy="202.8" r="3.5"/><circle cx="557.9" cy="189.1" r="3.5"/><circle cx="634.3" cy="223.5" r="3.5"/><circle cx="610.1" cy="225.8" r="3.5"/><circle cx="598.7" cy="213.6" r="3.5"/><circle cx="506.2" cy="170.7" r="3.5"/><circle cx="605.1" cy="127.8" r="3.5"/><circle cx="544.5" cy="186" r="3.5"/><circle cx="519.7" cy="189.8" r="3.5"/><circle cx="469.6" cy="164.6" r="3.5"/><circle cx="592.4" cy="134.7" r="3.5"/><circle cx="615.3" cy="218.2" r="3.5"/><circle cx="486.3" cy="163" r="3.5"/><circle cx="572.4" cy="192.9" r="3.5"/><circle cx="477.6" cy="169.1" r="3.5"/><circle cx="546.8" cy="190.6" r="3.5"/><circle cx="608.6" cy="224.3" r="3.5"/><circle cx="501.3" cy="177.6" r="3.5"/><circle cx="621.4" cy="129.3" r="3.5"/><circle cx="636.7" cy="202.1" r="3.5"/><circle cx="557.2" cy="199.8" r="3.5"/><circle cx="616.1" cy="226.6" r="3.5"/><circle cx="495.7" cy="182.2" r="3.5"/><circle cx="545" cy="179.1" r="3.5"/><circle cx="509.4" cy="182.2" r="3.5"/><circle cx="446" cy="163.8" r="3.5"/><circle cx="520.5" cy="186.8" r="3.5"/><circle cx="490.1" cy="175.3" r="3.5"/><circle cx="568.2" cy="182.2" r="3.5"/><circle cx="580" cy="191.4" r="3.5"/><circle cx="505.2" cy="184.5" r="3.5"/><circle cx="641.5" cy="253.4" r="3.5"/><circle cx="499.6" cy="173.7" r="3.5"/><circle cx="628.4" cy="212" r="3.5"/><circle cx="480.8" cy="171.4" r="3.5"/><circle cx="526.7" cy="195.2" r="3.5"/><circle cx="469" cy="173" r="3.5"/><circle cx="588.5" cy="216.6" r="3.5"/><circle cx="581.7" cy="210.5" r="3.5"/><circle cx="526.6" cy="176.8" r="3.5"/><circle cx="498.7" cy="186.8" r="3.5"/><circle cx="535.9" cy="181.4" r="3.5"/><circle cx="463.7" cy="153.8" r="3.5"/><circle cx="461.7" cy="160" r="3.5"/><circle cx="634" cy="170.7" r="3.5"/><circle cx="513.4" cy="150" r="3.5"/><circle cx="619.5" cy="217.4" r="3.5"/><circle cx="564.8" cy="190.6" r="3.5"/><circle cx="487.7" cy="179.9" r="3.5"/><circle cx="538.2" cy="189.1" r="3.5"/><circle cx="625.1" cy="166.1" r="3.5"/><circle cx="475.3" cy="169.9" r="3.5"/><circle cx="490.7" cy="175.3" r="3.5"/><circle cx="462.3" cy="166.8" r="3.5"/><circle cx="515.5" cy="185.2" r="3.5"/><circle cx="492.6" cy="164.6" r="3.5"/><circle cx="647.7" cy="272" r="3.5"/><circle cx="501" cy="179.9" r="3.5"/><circle cx="496.4" cy="172.2" r="3.5"/><circle cx="569.4" cy="186.8" r="3.5"/><circle cx="528.6" cy="172.2" r="3.5"/><circle cx="559" cy="199.8" r="3.5"/><circle cx="455.7" cy="163" r="3.5"/><circle cx="641.1" cy="255.7" r="3.5"/><circle cx="513.8" cy="176.8" r="3.5"/><circle cx="649.2" cy="270.4" r="3.5"/><circle cx="552.2" cy="199.8" r="3.5"/><circle cx="599.9" cy="217.4" r="3.5"/><circle cx="612.6" cy="221.2" r="3.5"/><circle cx="642.3" cy="225.1" r="3.5"/><circle cx="495" cy="169.1" r="3.5"/><circle cx="594.5" cy="218.2" r="3.5"/><circle cx="474.7" cy="169.1" r="3.5"/><circle cx="590.5" cy="190.6" r="3.5"/><circle cx="487.6" cy="173" r="3.5"/><circle cx="505.6" cy="164.6" r="3.5"/><circle cx="547.9" cy="180.6" r="3.5"/><circle cx="526.3" cy="182.9" r="3.5"/><circle cx="568.8" cy="189.1" r="3.5"/><circle cx="581.8" cy="194.4" r="3.5"/><circle cx="550.4" cy="183.7" r="3.5"/><circle cx="506.5" cy="182.2" r="3.5"/><circle cx="607.8" cy="146.2" r="3.5"/><circle cx="577.7" cy="205.9" r="3.5"/><circle cx="468" cy="168.4" r="3.5"/><circle cx="483.6" cy="167.6" r="3.5"/><circle cx="614.1" cy="222" r="3.5"/><circle cx="655.3" cy="269.1" r="3.5"/><circle cx="603.4" cy="203.6" r="3.5"/><circle cx="470.6" cy="169.9" r="3.5"/><circle cx="506.4" cy="173" r="3.5"/><circle cx="510.6" cy="186" r="3.5"/><circle cx="511.1" cy="161.5" r="3.5"/><circle cx="540.1" cy="189.8" r="3.5"/><circle cx="606.5" cy="159.2" r="3.5"/><circle cx="551.9" cy="186" r="3.5"/><circle cx="472.7" cy="167.6" r="3.5"/><circle cx="616.5" cy="199" r="3.5"/><circle cx="480.6" cy="179.9" r="3.5"/><circle cx="487.9" cy="169.1" r="3.5"/><circle cx="570.1" cy="196.7" r="3.5"/><circle cx="610.5" cy="217.4" r="3.5"/><circle cx="517.2" cy="190.6" r="3.5"/><circle cx="596.6" cy="217.4" r="3.5"/><circle cx="463.2" cy="160" r="3.5"/><circle cx="525.5" cy="173.7" r="3.5"/><circle cx="465.7" cy="160" r="3.5"/><circle cx="448.7" cy="156.1" r="3.5"/><circle cx="468.9" cy="160.7" r="3.5"/><circle cx="647.4" cy="272.2" r="3.5"/><circle cx="601.8" cy="224.3" r="3.5"/><circle cx="467.1" cy="110.9" r="3.5"/><circle cx="647.9" cy="265.5" r="3.5"/><circle cx="452.6" cy="134.7" r="3.5"/><circle cx="625.1" cy="245.7" r="3.5"/><circle cx="446.9" cy="165.3" r="3.5"/><circle cx="508.5" cy="181.4" r="3.5"/><circle cx="557.5" cy="186.8" r="3.5"/><circle cx="618.7" cy="104" r="3.5"/><circle cx="497" cy="180.6" r="3.5"/><circle cx="623.8" cy="239.6" r="3.5"/><circle cx="608.3" cy="199" r="3.5"/><circle cx="549.2" cy="192.9" r="3.5"/><circle cx="624.3" cy="215.1" r="3.5"/><circle cx="532.2" cy="192.9" r="3.5"/><circle cx="642.2" cy="253.4" r="3.5"/><circle cx="455.1" cy="161.5" r="3.5"/><circle cx="560.6" cy="197.5" r="3.5"/><circle cx="616.2" cy="222" r="3.5"/><circle cx="544.4" cy="193.7" r="3.5"/><circle cx="617.7" cy="228.9" r="3.5"/><circle cx="538.6" cy="180.6" r="3.5"/><circle cx="583.9" cy="212.8" r="3.5"/><circle cx="593.5" cy="223.5" r="3.5"/><circle cx="464.6" cy="155.4" r="3.5"/><circle cx="535.7" cy="186" r="3.5"/><circle cx="572.1" cy="195.2" r="3.5"/><circle cx="460.6" cy="160.7" r="3.5"/><circle cx="546.1" cy="175.3" r="3.5"/><circle cx="560.2" cy="202.8" r="3.5"/><circle cx="589.9" cy="146.9" r="3.5"/><circle cx="552.9" cy="179.1" r="3.5"/><circle cx="478.1" cy="164.6" r="3.5"/><circle cx="535.3" cy="199.8" r="3.5"/><circle cx="472.9" cy="161.5" r="3.5"/><circle cx="619" cy="153.8" r="3.5"/><circle cx="633.5" cy="200.6" r="3.5"/><circle cx="475.5" cy="169.1" r="3.5"/><circle cx="474.6" cy="165.3" r="3.5"/><circle cx="640.8" cy="182.2" r="3.5"/><circle cx="545.7" cy="156.9" r="3.5"/><circle cx="491" cy="170.7" r="3.5"/><circle cx="596.7" cy="217.4" r="3.5"/><circle cx="473.6" cy="168.4" r="3.5"/><circle cx="631.2" cy="226.6" r="3.5"/><circle cx="480" cy="163.8" r="3.5"/><circle cx="521.3" cy="191.4" r="3.5"/><circle cx="575" cy="194.4" r="3.5"/><circle cx="490" cy="182.2" r="3.5"/><circle cx="633" cy="104" r="3.5"/><circle cx="514.4" cy="184.5" r="3.5"/><circle cx="599.3" cy="179.1" r="3.5"/><circle cx="458.4" cy="156.1" r="3.5"/><circle cx="502.4" cy="163" r="3.5"/><circle cx="497.1" cy="173" r="3.5"/><circle cx="515.1" cy="187.5" r="3.5"/><circle cx="636.6" cy="245" r="3.5"/><circle cx="633.3" cy="252.6" r="3.5"/><circle cx="476.5" cy="162.3" r="3.5"/><circle cx="453.1" cy="166.8" r="3.5"/><circle cx="583.9" cy="205.1" r="3.5"/><circle cx="485.6" cy="169.9" r="3.5"/><circle cx="494.3" cy="166.8" r="3.5"/><circle cx="478.3" cy="162.3" r="3.5"/><circle cx="649.5" cy="274.2" r="3.5"/><circle cx="615.9" cy="206.7" r="3.5"/><circle cx="645.2" cy="270.6" r="3.5"/><circle cx="508.3" cy="184.5" r="3.5"/><circle cx="643.4" cy="246.5" r="3.5"/><circle cx="461.9" cy="173.7" r="3.5"/><circle cx="617.5" cy="227.4" r="3.5"/><circle cx="638.5" cy="245" r="3.5"/><circle cx="634.7" cy="248" r="3.5"/><circle cx="521.5" cy="176" r="3.5"/><circle cx="621.2" cy="232.7" r="3.5"/><circle cx="509.9" cy="171.4" r="3.5"/><circle cx="546.3" cy="179.9" r="3.5"/><circle cx="480.2" cy="166.1" r="3.5"/><circle cx="645.3" cy="262.6" r="3.5"/><circle cx="624.5" cy="210.5" r="3.5"/><circle cx="518.2" cy="175.3" r="3.5"/><circle cx="515.8" cy="186" r="3.5"/><circle cx="598.4" cy="221.2" r="3.5"/><circle cx="450.5" cy="158.4" r="3.5"/><circle cx="612.2" cy="183.7" r="3.5"/><circle cx="497.2" cy="166.8" r="3.5"/><circle cx="557.7" cy="166.1" r="3.5"/><circle cx="617" cy="193.7" r="3.5"/><circle cx="633.9" cy="199.8" r="3.5"/><circle cx="645.4" cy="265.7" r="3.5"/><circle cx="473.8" cy="164.6" r="3.5"/><circle cx="485.1" cy="167.6" r="3.5"/><circle cx="628.9" cy="205.1" r="3.5"/><circle cx="549.3" cy="189.1" r="3.5"/><circle cx="529.5" cy="182.9" r="3.5"/><circle cx="492" cy="180.6" r="3.5"/><circle cx="518.1" cy="127.8" r="3.5"/><circle cx="642.8" cy="258" r="3.5"/><circle cx="570.2" cy="207.4" r="3.5"/><circle cx="561.9" cy="205.1" r="3.5"/><circle cx="595.3" cy="216.6" r="3.5"/><circle cx="497" cy="165.3" r="3.5"/><circle cx="622.7" cy="230.4" r="3.5"/><circle cx="498" cy="169.9" r="3.5"/><circle cx="615.7" cy="233.5" r="3.5"/><circle cx="640.5" cy="113.2" r="3.5"/><circle cx="614.6" cy="218.9" r="3.5"/><circle cx="643.7" cy="173" r="3.5"/><circle cx="632.4" cy="107.9" r="3.5"/><circle cx="505.7" cy="178.3" r="3.5"/><circle cx="586.7" cy="206.7" r="3.5"/><circle cx="523.1" cy="186.8" r="3.5"/><circle cx="557.4" cy="170.7" r="3.5"/><circle cx="562.2" cy="176.8" r="3.5"/><circle cx="457.8" cy="158.4" r="3.5"/><circle cx="472.2" cy="167.6" r="3.5"/><circle cx="593.2" cy="201.3" r="3.5"/><circle cx="555.8" cy="180.6" r="3.5"/><circle cx="504.3" cy="169.9" r="3.5"/><circle cx="481.8" cy="176" r="3.5"/><circle cx="595.8" cy="215.9" r="3.5"/><circle cx="553.1" cy="194.4" r="3.5"/><circle cx="541.8" cy="196" r="3.5"/><circle cx="532.5" cy="182.9" r="3.5"/><circle cx="496.3" cy="173.7" r="3.5"/><circle cx="520.2" cy="182.9" r="3.5"/><circle cx="555.3" cy="186" r="3.5"/><circle cx="553.9" cy="190.6" r="3.5"/><circle cx="555.4" cy="195.2" r="3.5"/><circle cx="510.8" cy="184.5" r="3.5"/><circle cx="468.4" cy="166.1" r="3.5"/><circle cx="609.6" cy="215.9" r="3.5"/><circle cx="601.7" cy="196" r="3.5"/><circle cx="609" cy="222.8" r="3.5"/><circle cx="623.5" cy="184.5" r="3.5"/><circle cx="479.5" cy="164.6" r="3.5"/><circle cx="569.5" cy="200.6" r="3.5"/><circle cx="529.1" cy="187.5" r="3.5"/><circle cx="459.7" cy="159.2" r="3.5"/><circle cx="655.5" cy="274.4" r="3.5"/><circle cx="628.7" cy="233.5" r="3.5"/><circle cx="555.6" cy="133.9" r="3.5"/><circle cx="549.1" cy="176" r="3.5"/><circle cx="465.8" cy="162.3" r="3.5"/><circle cx="445.2" cy="145.4" r="3.5"/><circle cx="480.1" cy="173.7" r="3.5"/><circle cx="633.6" cy="127" r="3.5"/><circle cx="609.3" cy="219.7" r="3.5"/><circle cx="501.1" cy="153.8" r="3.5"/><circle cx="606" cy="182.9" r="3.5"/><circle cx="638.3" cy="255.7" r="3.5"/><circle cx="640.4" cy="254.9" r="3.5"/><circle cx="457.2" cy="156.1" r="3.5"/><circle cx="449" cy="162.3" r="3.5"/><circle cx="474.3" cy="163" r="3.5"/><circle cx="599" cy="218.9" r="3.5"/><circle cx="450.4" cy="150" r="3.5"/><circle cx="476.9" cy="157.7" r="3.5"/><circle cx="611.6" cy="227.4" r="3.5"/><circle cx="638.6" cy="212" r="3.5"/><circle cx="619.6" cy="201.3" r="3.5"/><circle cx="590.9" cy="126.2" r="3.5"/><circle cx="523.4" cy="175.3" r="3.5"/><circle cx="560.9" cy="202.1" r="3.5"/><circle cx="464.4" cy="162.3" r="3.5"/><circle cx="632.7" cy="229.7" r="3.5"/><circle cx="535.5" cy="169.9" r="3.5"/><circle cx="467.9" cy="157.7" r="3.5"/><circle cx="448.9" cy="155.4" r="3.5"/><circle cx="520.4" cy="186" r="3.5"/><circle cx="447.2" cy="160" r="3.5"/><circle cx="465" cy="173.7" r="3.5"/><circle cx="552.1" cy="202.1" r="3.5"/><circle cx="455.8" cy="153.8" r="3.5"/><circle cx="599.7" cy="198.3" r="3.5"/><circle cx="521.7" cy="165.3" r="3.5"/><circle cx="454.5" cy="153.1" r="3.5"/><circle cx="460.7" cy="151.5" r="3.5"/><circle cx="569" cy="194.4" r="3.5"/><circle cx="489.7" cy="182.2" r="3.5"/><circle cx="614.4" cy="198.3" r="3.5"/><circle cx="495.5" cy="176.8" r="3.5"/><circle cx="558.8" cy="199.8" r="3.5"/><circle cx="502.2" cy="182.2" r="3.5"/><circle cx="562.2" cy="190.6" r="3.5"/><circle cx="517.5" cy="173" r="3.5"/><circle cx="515.9" cy="177.6" r="3.5"/><circle cx="625.7" cy="239.6" r="3.5"/><circle cx="475" cy="165.3" r="3.5"/><circle cx="545.5" cy="189.1" r="3.5"/><circle cx="551.1" cy="202.1" r="3.5"/><circle cx="488.8" cy="173" r="3.5"/><circle cx="610" cy="225.1" r="3.5"/><circle cx="459.5" cy="158.4" r="3.5"/><circle cx="605.7" cy="232.7" r="3.5"/><circle cx="472.4" cy="168.4" r="3.5"/><circle cx="587.9" cy="171.4" r="3.5"/><circle cx="616.9" cy="214.3" r="3.5"/><circle cx="587.1" cy="215.1" r="3.5"/><circle cx="500.1" cy="176.8" r="3.5"/><circle cx="535.8" cy="189.1" r="3.5"/><circle cx="532.6" cy="182.2" r="3.5"/><circle cx="551.7" cy="190.6" r="3.5"/><circle cx="453" cy="152.3" r="3.5"/><circle cx="516.1" cy="178.3" r="3.5"/><circle cx="572.2" cy="212" r="3.5"/><circle cx="470.7" cy="171.4" r="3.5"/><circle cx="624.5" cy="244.2" r="3.5"/><circle cx="641" cy="253.4" r="3.5"/><circle cx="597.5" cy="209" r="3.5"/><circle cx="488.2" cy="164.6" r="3.5"/><circle cx="579" cy="199" r="3.5"/><circle cx="648.6" cy="270" r="3.5"/><circle cx="552.3" cy="182.9" r="3.5"/><circle cx="537.8" cy="180.6" r="3.5"/><circle cx="461.1" cy="155.4" r="3.5"/><circle cx="444" cy="152.3" r="3.5"/><circle cx="627.9" cy="245.7" r="3.5"/><circle cx="518.7" cy="175.3" r="3.5"/><circle cx="639.9" cy="154.6" r="3.5"/><circle cx="493.9" cy="173.7" r="3.5"/><circle cx="633.7" cy="250.3" r="3.5"/><circle cx="457.8" cy="110.9" r="3.5"/><circle cx="580.3" cy="206.7" r="3.5"/><circle cx="578.3" cy="193.7" r="3.5"/><circle cx="572" cy="176" r="3.5"/><circle cx="593.5" cy="212.8" r="3.5"/><circle cx="539.9" cy="154.6" r="3.5"/><circle cx="451.7" cy="162.3" r="3.5"/><circle cx="508.5" cy="189.8" r="3.5"/><circle cx="550.2" cy="195.2" r="3.5"/><circle cx="502.1" cy="174.5" r="3.5"/><circle cx="508.2" cy="180.6" r="3.5"/><circle cx="504.8" cy="173" r="3.5"/><circle cx="607.5" cy="220.5" r="3.5"/><circle cx="549.5" cy="192.9" r="3.5"/><circle cx="622.5" cy="237.3" r="3.5"/><circle cx="483.4" cy="160.7" r="3.5"/><circle cx="454.1" cy="146.9" r="3.5"/><circle cx="491.3" cy="183.7" r="3.5"/><circle cx="625.4" cy="238.9" r="3.5"/><circle cx="525.1" cy="190.6" r="3.5"/><circle cx="574.7" cy="192.1" r="3.5"/><circle cx="641.9" cy="226.6" r="3.5"/><circle cx="445.6" cy="160" r="3.5"/><circle cx="528.7" cy="170.7" r="3.5"/><circle cx="585.9" cy="203.6" r="3.5"/><circle cx="532.4" cy="188.3" r="3.5"/><circle cx="444.2" cy="163.8" r="3.5"/><circle cx="540.4" cy="152.3" r="3.5"/><circle cx="488.3" cy="171.4" r="3.5"/><circle cx="619.9" cy="207.4" r="3.5"/><circle cx="495.3" cy="160.7" r="3.5"/><circle cx="543.5" cy="177.6" r="3.5"/><circle cx="610.4" cy="231.2" r="3.5"/><circle cx="558.5" cy="186" r="3.5"/><circle cx="644.9" cy="233.5" r="3.5"/><circle cx="588.4" cy="214.3" r="3.5"/><circle cx="544" cy="192.9" r="3.5"/><circle cx="462" cy="167.6" r="3.5"/><circle cx="611.5" cy="204.4" r="3.5"/><circle cx="545.6" cy="182.2" r="3.5"/><circle cx="495.9" cy="165.3" r="3.5"/><circle cx="605" cy="220.5" r="3.5"/><circle cx="566.5" cy="181.4" r="3.5"/><circle cx="581.3" cy="196.7" r="3.5"/><circle cx="595.2" cy="210.5" r="3.5"/><circle cx="555.7" cy="106.3" r="3.5"/><circle cx="516.4" cy="187.5" r="3.5"/><circle cx="530.2" cy="181.4" r="3.5"/><circle cx="568.7" cy="153.1" r="3.5"/><circle cx="539.5" cy="186" r="3.5"/><circle cx="493.6" cy="180.6" r="3.5"/><circle cx="603.2" cy="228.1" r="3.5"/><circle cx="514.5" cy="165.3" r="3.5"/><circle cx="488.7" cy="172.2" r="3.5"/><circle cx="644.7" cy="274.6" r="3.5"/><circle cx="596.1" cy="173" r="3.5"/><circle cx="538.5" cy="186.8" r="3.5"/><circle cx="612.3" cy="214.3" r="3.5"/><circle cx="518" cy="135.4" r="3.5"/><circle cx="537.4" cy="192.1" r="3.5"/><circle cx="548" cy="199.8" r="3.5"/><circle cx="636.8" cy="228.1" r="3.5"/><circle cx="479.8" cy="177.6" r="3.5"/><circle cx="515.4" cy="173.7" r="3.5"/><circle cx="462.6" cy="165.3" r="3.5"/><circle cx="537.2" cy="181.4" r="3.5"/><circle cx="482.3" cy="176.8" r="3.5"/><circle cx="523.3" cy="188.3" r="3.5"/><circle cx="477.4" cy="156.1" r="3.5"/><circle cx="530.9" cy="191.4" r="3.5"/><circle cx="458.7" cy="171.4" r="3.5"/><circle cx="449.1" cy="153.8" r="3.5"/><circle cx="556.9" cy="198.3" r="3.5"/><circle cx="533.2" cy="190.6" r="3.5"/><circle cx="464.7" cy="156.1" r="3.5"/><circle cx="530.9" cy="180.6" r="3.5"/><circle cx="514.7" cy="182.2" r="3.5"/><circle cx="591.8" cy="212.8" r="3.5"/><circle cx="647.3" cy="274.8" r="3.5"/><circle cx="518.6" cy="149.2" r="3.5"/><circle cx="497.6" cy="183.7" r="3.5"/><circle cx="496.8" cy="176" r="3.5"/><circle cx="503.9" cy="176" r="3.5"/><circle cx="501.6" cy="187.5" r="3.5"/><circle cx="481.7" cy="163" r="3.5"/><circle cx="576.6" cy="198.3" r="3.5"/><circle cx="588.1" cy="173.7" r="3.5"/><circle cx="556.8" cy="142.3" r="3.5"/><circle cx="510.4" cy="173" r="3.5"/><circle cx="584.6" cy="205.9" r="3.5"/><circle cx="533.8" cy="196.7" r="3.5"/><circle cx="508.4" cy="176" r="3.5"/><circle cx="458" cy="160.7" r="3.5"/><circle cx="445.9" cy="160.7" r="3.5"/><circle cx="503.4" cy="166.8" r="3.5"/><circle cx="639.3" cy="251.1" r="3.5"/><circle cx="545.4" cy="189.8" r="3.5"/><circle cx="585.3" cy="203.6" r="3.5"/><circle cx="554" cy="199" r="3.5"/><circle cx="610.2" cy="189.1" r="3.5"/><circle cx="595.9" cy="188.3" r="3.5"/><circle cx="559.3" cy="199.8" r="3.5"/><circle cx="564.3" cy="178.3" r="3.5"/><circle cx="463.3" cy="167.6" r="3.5"/><circle cx="453.7" cy="166.8" r="3.5"/><circle cx="582" cy="212" r="3.5"/><circle cx="493.2" cy="182.9" r="3.5"/><circle cx="627.5" cy="226.6" r="3.5"/><circle cx="544.3" cy="150" r="3.5"/><circle cx="601.1" cy="228.1" r="3.5"/><circle cx="626.4" cy="238.9" r="3.5"/><circle cx="545.4" cy="187.5" r="3.5"/><circle cx="484.1" cy="179.9" r="3.5"/><circle cx="615.6" cy="199" r="3.5"/><circle cx="601.3" cy="222.8" r="3.5"/><circle cx="617.8" cy="178.3" r="3.5"/><circle cx="624.4" cy="135.4" r="3.5"/><circle cx="598.9" cy="206.7" r="3.5"/><circle cx="454.8" cy="162.3" r="3.5"/><circle cx="530.1" cy="188.3" r="3.5"/><circle cx="559.9" cy="193.7" r="3.5"/><circle cx="628.7" cy="225.8" r="3.5"/><circle cx="522.4" cy="179.9" r="3.5"/><circle cx="476.2" cy="169.9" r="3.5"/><circle cx="475.2" cy="169.9" r="3.5"/><circle cx="528.8" cy="184.5" r="3.5"/><circle cx="489.7" cy="158.4" r="3.5"/><circle cx="460.3" cy="164.6" r="3.5"/><circle cx="560.2" cy="188.3" r="3.5"/><circle cx="600.9" cy="213.6" r="3.5"/><circle cx="478.8" cy="175.3" r="3.5"/><circle cx="606.3" cy="228.1" r="3.5"/><circle cx="609.2" cy="187.5" r="3.5"/><circle cx="597.2" cy="215.1" r="3.5"/><circle cx="598.8" cy="218.9" r="3.5"/><circle cx="573.3" cy="193.7" r="3.5"/><circle cx="543.7" cy="182.9" r="3.5"/><circle cx="539.8" cy="137.7" r="3.5"/><circle cx="460" cy="167.6" r="3.5"/><circle cx="648.4" cy="268.2" r="3.5"/><circle cx="513.6" cy="189.8" r="3.5"/><circle cx="643.8" cy="253.4" r="3.5"/><circle cx="614.6" cy="225.8" r="3.5"/><circle cx="569.3" cy="196" r="3.5"/><circle cx="645.7" cy="193.7" r="3.5"/><circle cx="552.7" cy="188.3" r="3.5"/><circle cx="465.3" cy="166.1" r="3.5"/><circle cx="613.1" cy="226.6" r="3.5"/><circle cx="606.7" cy="218.9" r="3.5"/><circle cx="539.6" cy="192.9" r="3.5"/><circle cx="490.7" cy="173.7" r="3.5"/><circle cx="570.4" cy="179.1" r="3.5"/><circle cx="585.6" cy="192.1" r="3.5"/><circle cx="477.5" cy="176.8" r="3.5"/><circle cx="504.1" cy="172.2" r="3.5"/><circle cx="474.6" cy="152.3" r="3.5"/><circle cx="498.5" cy="168.4" r="3.5"/><circle cx="540.3" cy="164.6" r="3.5"/><circle cx="500.8" cy="179.1" r="3.5"/><circle cx="654" cy="268.3" r="3.5"/><circle cx="645" cy="265.6" r="3.5"/><circle cx="636.6" cy="215.9" r="3.5"/><circle cx="632.1" cy="228.1" r="3.5"/><circle cx="480.8" cy="170.7" r="3.5"/><circle cx="598.5" cy="88.7" r="3.5"/><circle cx="607.6" cy="203.6" r="3.5"/><circle cx="536.4" cy="186.8" r="3.5"/><circle cx="527.1" cy="178.3" r="3.5"/><circle cx="495.8" cy="176.8" r="3.5"/><circle cx="603.7" cy="214.3" r="3.5"/><circle cx="620.2" cy="209" r="3.5"/><circle cx="504.9" cy="175.3" r="3.5"/><circle cx="488" cy="164.6" r="3.5"/><circle cx="573.7" cy="147.7" r="3.5"/><circle cx="639.9" cy="243.4" r="3.5"/><circle cx="550" cy="186.8" r="3.5"/><circle cx="497.7" cy="167.6" r="3.5"/><circle cx="636.4" cy="241.9" r="3.5"/><circle cx="474.8" cy="174.5" r="3.5"/><circle cx="539" cy="191.4" r="3.5"/><circle cx="522.8" cy="188.3" r="3.5"/><circle cx="645.2" cy="272.8" r="3.5"/><circle cx="507.5" cy="181.4" r="3.5"/><circle cx="471.1" cy="162.3" r="3.5"/><circle cx="443.2" cy="163.8" r="3.5"/><circle cx="635.6" cy="241.9" r="3.5"/><circle cx="475.4" cy="160" r="3.5"/><circle cx="628.8" cy="235" r="3.5"/><circle cx="603" cy="214.3" r="3.5"/><circle cx="445.1" cy="155.4" r="3.5"/><circle cx="594.1" cy="190.6" r="3.5"/><circle cx="622.8" cy="238.1" r="3.5"/><circle cx="446.7" cy="160" r="3.5"/><circle cx="640.3" cy="133.9" r="3.5"/><circle cx="627.6" cy="239.6" r="3.5"/><circle cx="531.5" cy="158.4" r="3.5"/><circle cx="515.4" cy="168.4" r="3.5"/><circle cx="644.3" cy="260.3" r="3.5"/><circle cx="544.1" cy="140" r="3.5"/><circle cx="560.8" cy="190.6" r="3.5"/><circle cx="471.3" cy="171.4" r="3.5"/><circle cx="555.9" cy="186" r="3.5"/><circle cx="575.7" cy="180.6" r="3.5"/><circle cx="616.7" cy="139.3" r="3.5"/><circle cx="566.2" cy="205.9" r="3.5"/><circle cx="517.7" cy="180.6" r="3.5"/><circle cx="648.5" cy="266.4" r="3.5"/><circle cx="512.2" cy="167.6" r="3.5"/><circle cx="518.4" cy="179.1" r="3.5"/><circle cx="495.4" cy="184.5" r="3.5"/><circle cx="560.5" cy="199.8" r="3.5"/><circle cx="464.3" cy="158.4" r="3.5"/><circle cx="588.7" cy="181.4" r="3.5"/><circle cx="538.4" cy="188.3" r="3.5"/><circle cx="532.5" cy="189.8" r="3.5"/><circle cx="466.1" cy="158.4" r="3.5"/><circle cx="565" cy="196.7" r="3.5"/><circle cx="527.2" cy="180.6" r="3.5"/><circle cx="518.4" cy="175.3" r="3.5"/><circle cx="613.9" cy="222.8" r="3.5"/><circle cx="551.8" cy="141.6" r="3.5"/><circle cx="528.5" cy="168.4" r="3.5"/><circle cx="520" cy="186" r="3.5"/><circle cx="577.7" cy="202.8" r="3.5"/><circle cx="508.8" cy="177.6" r="3.5"/><circle cx="454.3" cy="156.1" r="3.5"/><circle cx="470.3" cy="161.5" r="3.5"/><circle cx="535.2" cy="169.1" r="3.5"/><circle cx="551.6" cy="198.3" r="3.5"/><circle cx="570.3" cy="166.8" r="3.5"/><circle cx="500.2" cy="177.6" r="3.5"/><circle cx="597.8" cy="222.8" r="3.5"/><circle cx="505.4" cy="169.1" r="3.5"/><circle cx="562.5" cy="190.6" r="3.5"/><circle cx="655.4" cy="276.5" r="3.5"/><circle cx="526" cy="190.6" r="3.5"/><circle cx="549.6" cy="196.7" r="3.5"/><circle cx="485.3" cy="179.9" r="3.5"/><circle cx="496" cy="180.6" r="3.5"/><circle cx="507.1" cy="181.4" r="3.5"/><circle cx="518.5" cy="183.7" r="3.5"/><circle cx="603.3" cy="226.6" r="3.5"/><circle cx="514.8" cy="174.5" r="3.5"/><circle cx="470.5" cy="160" r="3.5"/><circle cx="531.2" cy="186" r="3.5"/><circle cx="519.5" cy="192.9" r="3.5"/><circle cx="623.4" cy="237.3" r="3.5"/><circle cx="646.7" cy="272.1" r="3.5"/><circle cx="646.4" cy="266.4" r="3.5"/><circle cx="501.2" cy="174.5" r="3.5"/><circle cx="576.7" cy="190.6" r="3.5"/><circle cx="493.4" cy="172.2" r="3.5"/><circle cx="495" cy="166.1" r="3.5"/><circle cx="455.9" cy="168.4" r="3.5"/><circle cx="541.4" cy="194.4" r="3.5"/><circle cx="519" cy="189.8" r="3.5"/><circle cx="600.4" cy="219.7" r="3.5"/><circle cx="486.2" cy="169.1" r="3.5"/><circle cx="530.4" cy="179.9" r="3.5"/><circle cx="579.1" cy="205.1" r="3.5"/><circle cx="476" cy="169.1" r="3.5"/><circle cx="496.9" cy="181.4" r="3.5"/><circle cx="596.2" cy="186.8" r="3.5"/><circle cx="649.1" cy="270.6" r="3.5"/><circle cx="617.4" cy="181.4" r="3.5"/><circle cx="633.7" cy="209.7" r="3.5"/><circle cx="499.9" cy="173" r="3.5"/><circle cx="455.2" cy="162.3" r="3.5"/><circle cx="510" cy="155.4" r="3.5"/><circle cx="554.6" cy="200.6" r="3.5"/><circle cx="640" cy="252.6" r="3.5"/><circle cx="450.6" cy="152.3" r="3.5"/><circle cx="560.9" cy="196" r="3.5"/><circle cx="582.9" cy="210.5" r="3.5"/><circle cx="456.5" cy="153.1" r="3.5"/><circle cx="539.2" cy="171.4" r="3.5"/><circle cx="591.2" cy="205.9" r="3.5"/><circle cx="517" cy="179.9" r="3.5"/><circle cx="478.8" cy="166.8" r="3.5"/><circle cx="585.7" cy="214.3" r="3.5"/><circle cx="577.1" cy="202.1" r="3.5"/><circle cx="520.1" cy="186" r="3.5"/><circle cx="513.4" cy="172.2" r="3.5"/><circle cx="569.1" cy="189.1" r="3.5"/><circle cx="613.6" cy="234.3" r="3.5"/><circle cx="548.2" cy="195.2" r="3.5"/><circle cx="618.6" cy="217.4" r="3.5"/><circle cx="530.3" cy="178.3" r="3.5"/><circle cx="580.8" cy="205.1" r="3.5"/><circle cx="612.6" cy="215.1" r="3.5"/><circle cx="482.4" cy="170.7" r="3.5"/><circle cx="642.1" cy="237.3" r="3.5"/><circle cx="446.6" cy="152.3" r="3.5"/><circle cx="654.8" cy="275.2" r="3.5"/><circle cx="615.4" cy="221.2" r="3.5"/><circle cx="643.9" cy="261.8" r="3.5"/><circle cx="528" cy="179.1" r="3.5"/><circle cx="550.7" cy="182.9" r="3.5"/><circle cx="566.5" cy="197.5" r="3.5"/><circle cx="471.6" cy="166.8" r="3.5"/><circle cx="512.8" cy="177.6" r="3.5"/><circle cx="447.9" cy="154.6" r="3.5"/><circle cx="602" cy="218.9" r="3.5"/><circle cx="536.6" cy="199.8" r="3.5"/><circle cx="503.3" cy="180.6" r="3.5"/><circle cx="640.9" cy="248" r="3.5"/><circle cx="544.9" cy="182.2" r="3.5"/><circle cx="631.7" cy="208.2" r="3.5"/><circle cx="500.6" cy="176.8" r="3.5"/><circle cx="472" cy="163.8" r="3.5"/><circle cx="584" cy="195.2" r="3.5"/><circle cx="647.2" cy="273.4" r="3.5"/><circle cx="610.9" cy="207.4" r="3.5"/><circle cx="500.9" cy="180.6" r="3.5"/><circle cx="593.9" cy="222" r="3.5"/><circle cx="550.9" cy="202.1" r="3.5"/><circle cx="502.9" cy="182.2" r="3.5"/><circle cx="532.9" cy="176.8" r="3.5"/><circle cx="531.8" cy="193.7" r="3.5"/><circle cx="465.7" cy="159.2" r="3.5"/><circle cx="526.3" cy="189.8" r="3.5"/><circle cx="648.9" cy="136.2" r="3.5"/><circle cx="628.6" cy="101.7" r="3.5"/><circle cx="448.2" cy="166.1" r="3.5"/><circle cx="460.1" cy="165.3" r="3.5"/><circle cx="449.2" cy="143.9" r="3.5"/><circle cx="581.3" cy="208.2" r="3.5"/><circle cx="484.8" cy="175.3" r="3.5"/><circle cx="640.2" cy="161.5" r="3.5"/><circle cx="596.8" cy="205.1" r="3.5"/><circle cx="589.2" cy="196" r="3.5"/><circle cx="483.3" cy="173" r="3.5"/><circle cx="612.8" cy="209" r="3.5"/><circle cx="562.8" cy="199" r="3.5"/><circle cx="489.4" cy="175.3" r="3.5"/><circle cx="613.4" cy="196.7" r="3.5"/><circle cx="646" cy="186" r="3.5"/><circle cx="622.8" cy="158.4" r="3.5"/><circle cx="492.8" cy="153.1" r="3.5"/><circle cx="446.5" cy="160.7" r="3.5"/><circle cx="569.4" cy="202.1" r="3.5"/><circle cx="562.3" cy="206.7" r="3.5"/><circle cx="597.9" cy="205.1" r="3.5"/><circle cx="586" cy="204.4" r="3.5"/><circle cx="603.4" cy="204.4" r="3.5"/><circle cx="576.8" cy="179.9" r="3.5"/><circle cx="618" cy="168.4" r="3.5"/><circle cx="613.6" cy="234.3" r="3.5"/><circle cx="575.7" cy="211.3" r="3.5"/><circle cx="460.7" cy="165.3" r="3.5"/><circle cx="472.6" cy="159.2" r="3.5"/><circle cx="509.5" cy="180.6" r="3.5"/><circle cx="464" cy="159.2" r="3.5"/><circle cx="573.5" cy="194.4" r="3.5"/><circle cx="590.4" cy="205.9" r="3.5"/><circle cx="570.9" cy="194.4" r="3.5"/><circle cx="562.8" cy="192.9" r="3.5"/><circle cx="495.6" cy="182.2" r="3.5"/><circle cx="578.5" cy="171.4" r="3.5"/><circle cx="508.1" cy="141.6" r="3.5"/><circle cx="503.8" cy="172.2" r="3.5"/><circle cx="499.9" cy="182.2" r="3.5"/><circle cx="482.9" cy="166.1" r="3.5"/><circle cx="647.1" cy="268" r="3.5"/><circle cx="642.6" cy="240.4" r="3.5"/><circle cx="582.7" cy="199" r="3.5"/><circle cx="567.1" cy="186" r="3.5"/><circle cx="528.4" cy="175.3" r="3.5"/><circle cx="511.1" cy="175.3" r="3.5"/><circle cx="527.6" cy="182.2" r="3.5"/><circle cx="507.6" cy="184.5" r="3.5"/><circle cx="618.4" cy="175.3" r="3.5"/><circle cx="551" cy="198.3" r="3.5"/><circle cx="576.3" cy="129.3" r="3.5"/><circle cx="485.9" cy="168.4" r="3.5"/><circle cx="615.1" cy="222.8" r="3.5"/><circle cx="628.1" cy="206.7" r="3.5"/><circle cx="478.7" cy="172.2" r="3.5"/><circle cx="551.3" cy="196" r="3.5"/><circle cx="583.7" cy="202.8" r="3.5"/><circle cx="521" cy="169.1" r="3.5"/><circle cx="461.4" cy="164.6" r="3.5"/><circle cx="594.7" cy="205.1" r="3.5"/><circle cx="522" cy="185.2" r="3.5"/><circle cx="610.7" cy="199" r="3.5"/><circle cx="545.7" cy="192.9" r="3.5"/><circle cx="597.7" cy="98.7" r="3.5"/><circle cx="543.4" cy="181.4" r="3.5"/><circle cx="610.3" cy="229.7" r="3.5"/><circle cx="480.2" cy="165.3" r="3.5"/><circle cx="627.8" cy="240.4" r="3.5"/><circle cx="507.8" cy="176" r="3.5"/><circle cx="525.7" cy="179.1" r="3.5"/><circle cx="509.8" cy="165.3" r="3.5"/><circle cx="455" cy="140" r="3.5"/><circle cx="610.6" cy="189.8" r="3.5"/><circle cx="503.9" cy="164.6" r="3.5"/><circle cx="582.4" cy="198.3" r="3.5"/><circle cx="547" cy="159.2" r="3.5"/><circle cx="552" cy="195.2" r="3.5"/><circle cx="484.3" cy="162.3" r="3.5"/><circle cx="572.9" cy="182.2" r="3.5"/><circle cx="492.1" cy="169.9" r="3.5"/><circle cx="609.1" cy="219.7" r="3.5"/><circle cx="556.1" cy="193.7" r="3.5"/><circle cx="621.9" cy="215.9" r="3.5"/><circle cx="626.6" cy="184.5" r="3.5"/><circle cx="571.4" cy="196.7" r="3.5"/><circle cx="577.4" cy="198.3" r="3.5"/><circle cx="465.2" cy="161.5" r="3.5"/><circle cx="498.4" cy="176.8" r="3.5"/><circle cx="584.1" cy="202.8" r="3.5"/><circle cx="493.7" cy="172.2" r="3.5"/><circle cx="467.6" cy="169.1" r="3.5"/><circle cx="585.2" cy="218.2" r="3.5"/><circle cx="567.8" cy="190.6" r="3.5"/><circle cx="626.9" cy="189.8" r="3.5"/><circle cx="475.2" cy="154.6" r="3.5"/></g>
<use href="#st" x="655.4" y="87.9"/><use href="#st" x="650" y="279.4"/><use href="#st" x="653" y="87.9"/><use href="#st" x="649.9" y="279.4"/><use href="#st" x="653.1" y="279.4"/><use href="#st" x="654.3" y="87.9"/><use href="#st" x="651.1" y="279.4"/><use href="#st" x="651.4" y="279.4"/><use href="#st" x="652" y="87.9"/><use href="#st" x="651.9" y="279.4"/><use href="#st" x="656.7" y="87.9"/><use href="#st" x="654.9" y="87.9"/><use href="#st" x="653.4" y="279.4"/><use href="#st" x="654.2" y="279.4"/><use href="#st" x="656.3" y="279.4"/><use href="#st" x="656.5" y="279.4"/><use href="#st" x="650.9" y="87.9"/><use href="#st" x="652.1" y="87.9"/><use href="#st" x="656.4" y="279.4"/><use href="#st" x="652.4" y="279.4"/><use href="#st" x="657" y="87.9"/><use href="#st" x="651" y="87.9"/><use href="#st" x="651.7" y="87.9"/><use href="#st" x="655.2" y="279.4"/><use href="#st" x="652.2" y="279.4"/><use href="#st" x="655.9" y="279.4"/><use href="#st" x="652.1" y="279.4"/><use href="#st" x="657.1" y="87.9"/><use href="#st" x="653.9" y="87.9"/><use href="#st" x="651.5" y="279.4"/><use href="#st" x="653.8" y="279.4"/><use href="#st" x="656.6" y="279.4"/><use href="#st" x="653.5" y="279.4"/><use href="#st" x="653.6" y="87.9"/><use href="#st" x="649.8" y="87.9"/><use href="#st" x="652.7" y="279.4"/><use href="#st" x="652.5" y="279.4"/><use href="#st" x="654.6" y="279.4"/><use href="#st" x="655.8" y="279.4"/><use href="#st" x="652.9" y="87.9"/><use href="#st" x="650.8" y="87.9"/><use href="#st" x="655.7" y="87.9"/><use href="#st" x="651.8" y="279.4"/><use href="#st" x="650.2" y="87.9"/><use href="#st" x="652.3" y="279.4"/><use href="#st" x="654.4" y="279.4"/><use href="#st" x="652.8" y="279.4"/><use href="#st" x="657.1" y="87.9"/><use href="#st" x="650.5" y="279.4"/><use href="#st" x="651.8" y="279.4"/><use href="#st" x="653.3" y="279.4"/><use href="#st" x="656.7" y="279.4"/><use href="#st" x="654.7" y="279.4"/><use href="#st" x="652.8" y="279.4"/><use href="#st" x="651.1" y="87.9"/><use href="#st" x="651.3" y="87.9"/><use href="#st" x="653.2" y="87.9"/><use href="#st" x="649.3" y="279.4"/><use href="#st" x="651.5" y="279.4"/><use href="#st" x="657.3" y="279.4"/><use href="#st" x="656.9" y="279.4"/><use href="#st" x="650.6" y="87.9"/><use href="#st" x="656.2" y="279.4"/><use href="#st" x="656" y="279.4"/><use href="#st" x="650.7" y="279.4"/><use href="#st" x="650.8" y="279.4"/><use href="#st" x="654.8" y="279.4"/><use href="#st" x="656.4" y="279.4"/><use href="#st" x="656.1" y="279.4"/><use href="#st" x="657.4" y="87.9"/><use href="#st" x="654.1" y="279.4"/><use href="#st" x="654.4" y="87.9"/><use href="#st" x="657.2" y="279.4"/><use href="#st" x="655.8" y="279.4"/><use href="#st" x="649.8" y="279.4"/><use href="#st" x="655.1" y="279.4"/><use href="#st" x="655.6" y="279.4"/><use href="#st" x="650.1" y="279.4"/><use href="#st" x="656.8" y="279.4"/><use href="#st" x="650.4" y="279.4"/><use href="#st" x="654.1" y="279.4"/><use href="#st" x="655.1" y="87.9"/><use href="#st" x="650.5" y="279.4"/><use href="#st" x="649.7" y="279.4"/>
<path d="M434 231.6H666" stroke="#000" stroke-width="0.75" stroke-linecap="round" stroke-dasharray="1 3.1" fill="none"/>
<path d="M434 135.8H666" stroke="#000" stroke-width="0.75" stroke-linecap="round" stroke-dasharray="1 3.1" fill="none"/>
<path d="M441.6 151.5C444.3 153 452.4 157.8 458 160.3C463.6 162.8 469.7 164.7 475.5 166.6C481.3 168.5 487.1 170 493 171.5C498.9 173 504.8 174.2 510.6 175.4C516.4 176.6 522.2 177.8 528 178.9C533.8 180 539.8 180.7 545.6 182C551.4 183.3 557.1 184.8 563 186.6C568.9 188.4 574.9 190.4 580.7 192.9C586.5 195.4 592.8 198.7 598 201.3C603.2 203.9 607.9 206.5 612 208.3C616.1 210.1 619.2 211.4 622.7 212.2C626.2 213 629.8 213.3 633 212.9C636.2 212.5 639.5 211.2 642 210C644.5 208.8 646.4 207.4 648 205.8C649.6 204.2 650.8 201.5 651.4 200.6" fill="none" stroke="#f00" stroke-width="2.2" stroke-dasharray="8.5 8.5" stroke-linecap="round"/>
<path d="M434 183.7H666" stroke="#f00" stroke-width="2.2" fill="none"/>
<path class="ax" d="M434 87.9V279.4M434 279.4h-10.3M434 231.6h-10.3M434 183.7h-10.3M434 135.8h-10.3M434 87.9h-10.3M442.6 287.1H657.4M442.6 287.1v10.3M485.6 287.1v10.3M528.5 287.1v10.3M571.5 287.1v10.3M614.4 287.1v10.3M657.4 287.1v10.3"/>
<text class="m" x="442.6" y="322.6">0.0</text>
<text class="m" x="485.6" y="322.6">0.2</text>
<text class="m" x="528.5" y="322.6">0.4</text>
<text class="m" x="571.5" y="322.6">0.6</text>
<text class="m" x="614.4" y="322.6">0.8</text>
<text class="m" x="657.4" y="322.6">1.0</text>
<text class="m" transform="translate(410.3 279.4) rotate(-90)">0.00</text>
<text class="m" transform="translate(410.3 231.6) rotate(-90)">0.25</text>
<text class="m" transform="translate(410.3 183.7) rotate(-90)">0.50</text>
<text class="m" transform="translate(410.3 135.8) rotate(-90)">0.75</text>
<text class="m" transform="translate(410.3 87.9) rotate(-90)">1.00</text>
<text class="m b" x="550" y="45.1">DHARMa residual vs. predicted</text>
<text class="m" style="font-size:16.6px" x="549.3" y="363.1">Model predictions (rank transformed)</text>
<text class="m" transform="translate(370.2 183.7) rotate(-90)">DHARMa residual</text>
<g filter="url(#bl)" fill="none" stroke="#000" stroke-opacity="0.25" stroke-width="1.3"><circle cx="448.4" cy="601.4" r="3.5"/><circle cx="586.6" cy="537.8" r="3.5"/><circle cx="654.9" cy="622.1" r="3.5"/><circle cx="586.9" cy="520.2" r="3.5"/><circle cx="564.6" cy="678" r="3.5"/><circle cx="570.3" cy="530.2" r="3.5"/><circle cx="512.5" cy="570.8" r="3.5"/><circle cx="654.8" cy="657.3" r="3.5"/><circle cx="604.1" cy="510.3" r="3.5"/><circle cx="500" cy="593" r="3.5"/><circle cx="639.2" cy="644.3" r="3.5"/><circle cx="618.2" cy="659.6" r="3.5"/><circle cx="619.2" cy="635.1" r="3.5"/><circle cx="522.8" cy="594.5" r="3.5"/><circle cx="532.4" cy="558.5" r="3.5"/><circle cx="597.8" cy="509.5" r="3.5"/><circle cx="609.6" cy="660.4" r="3.5"/><circle cx="598.8" cy="652" r="3.5"/><circle cx="579.5" cy="579.2" r="3.5"/><circle cx="463.8" cy="580" r="3.5"/><circle cx="599.9" cy="629" r="3.5"/><circle cx="472" cy="567.7" r="3.5"/><circle cx="493.2" cy="544.7" r="3.5"/><circle cx="458.2" cy="586.9" r="3.5"/><circle cx="469.4" cy="663.5" r="3.5"/><circle cx="572.5" cy="583" r="3.5"/><circle cx="651.1" cy="517.2" r="3.5"/><circle cx="596.5" cy="614.4" r="3.5"/><circle cx="604.5" cy="520.2" r="3.5"/><circle cx="511.7" cy="680.3" r="3.5"/><circle cx="605.2" cy="512.6" r="3.5"/><circle cx="533.3" cy="546.3" r="3.5"/><circle cx="498.1" cy="573.1" r="3.5"/><circle cx="626.4" cy="617.5" r="3.5"/><circle cx="505.4" cy="496.5" r="3.5"/><circle cx="564.8" cy="550.1" r="3.5"/><circle cx="601.3" cy="603" r="3.5"/><circle cx="461.8" cy="561.6" r="3.5"/><circle cx="501.4" cy="568.5" r="3.5"/><circle cx="597.3" cy="584.6" r="3.5"/><circle cx="620.6" cy="635.1" r="3.5"/><circle cx="541.9" cy="533.2" r="3.5"/><circle cx="478.2" cy="635.9" r="3.5"/><circle cx="499.2" cy="595.3" r="3.5"/><circle cx="580" cy="524.1" r="3.5"/><circle cx="656.3" cy="551.6" r="3.5"/><circle cx="573.3" cy="634.4" r="3.5"/><circle cx="531.3" cy="512.6" r="3.5"/><circle cx="613" cy="528.7" r="3.5"/><circle cx="619.6" cy="678.8" r="3.5"/><circle cx="651.5" cy="641.3" r="3.5"/><circle cx="474.6" cy="667.3" r="3.5"/><circle cx="541.5" cy="619" r="3.5"/><circle cx="526.6" cy="567" r="3.5"/><circle cx="591.6" cy="556.2" r="3.5"/><circle cx="537.4" cy="540.9" r="3.5"/><circle cx="538.5" cy="566.2" r="3.5"/><circle cx="613.6" cy="678.8" r="3.5"/><circle cx="648.2" cy="629" r="3.5"/><circle cx="632.3" cy="609.8" r="3.5"/><circle cx="459.8" cy="529.4" r="3.5"/><circle cx="516.7" cy="594.5" r="3.5"/><circle cx="588.6" cy="540.9" r="3.5"/><circle cx="470.3" cy="556.2" r="3.5"/><circle cx="562.9" cy="531" r="3.5"/><circle cx="465.3" cy="616.7" r="3.5"/><circle cx="544.8" cy="499.5" r="3.5"/><circle cx="653.8" cy="495.7" r="3.5"/><circle cx="592.8" cy="609.1" r="3.5"/><circle cx="602" cy="579.2" r="3.5"/><circle cx="623.1" cy="514.1" r="3.5"/><circle cx="503.7" cy="573.1" r="3.5"/><circle cx="499.1" cy="507.2" r="3.5"/><circle cx="643.6" cy="665" r="3.5"/><circle cx="448.4" cy="604.5" r="3.5"/><circle cx="490.6" cy="513.3" r="3.5"/><circle cx="571.1" cy="527.9" r="3.5"/><circle cx="593.5" cy="560.1" r="3.5"/><circle cx="595.2" cy="565.4" r="3.5"/><circle cx="577.5" cy="586.1" r="3.5"/><circle cx="625.8" cy="615.2" r="3.5"/><circle cx="614.6" cy="544.7" r="3.5"/><circle cx="623.4" cy="575.4" r="3.5"/><circle cx="533.2" cy="611.4" r="3.5"/><circle cx="585.2" cy="576.1" r="3.5"/><circle cx="573.1" cy="528.7" r="3.5"/><circle cx="587.5" cy="612.9" r="3.5"/><circle cx="579.9" cy="644.3" r="3.5"/><circle cx="501.6" cy="667.3" r="3.5"/><circle cx="496.3" cy="562.4" r="3.5"/><circle cx="544.8" cy="640.5" r="3.5"/><circle cx="603.2" cy="645.1" r="3.5"/><circle cx="495.8" cy="603" r="3.5"/><circle cx="597.5" cy="674.2" r="3.5"/><circle cx="565.2" cy="508" r="3.5"/><circle cx="552.4" cy="519.5" r="3.5"/><circle cx="624.9" cy="528.7" r="3.5"/><circle cx="532.1" cy="679.6" r="3.5"/><circle cx="578.5" cy="663.5" r="3.5"/><circle cx="558.5" cy="677.3" r="3.5"/><circle cx="478.9" cy="504.1" r="3.5"/><circle cx="490.9" cy="532.5" r="3.5"/><circle cx="643.3" cy="678" r="3.5"/><circle cx="593" cy="685.7" r="3.5"/><circle cx="620.3" cy="671.1" r="3.5"/><circle cx="626.5" cy="522.5" r="3.5"/><circle cx="576.7" cy="622.9" r="3.5"/><circle cx="456.9" cy="655.8" r="3.5"/><circle cx="515.2" cy="530.2" r="3.5"/><circle cx="506" cy="663.5" r="3.5"/><circle cx="529.4" cy="573.1" r="3.5"/><circle cx="615" cy="599.9" r="3.5"/><circle cx="649.6" cy="599.1" r="3.5"/><circle cx="640.4" cy="539.4" r="3.5"/><circle cx="498.3" cy="585.3" r="3.5"/><circle cx="525.3" cy="501.8" r="3.5"/><circle cx="514.9" cy="540.1" r="3.5"/><circle cx="623" cy="560.8" r="3.5"/><circle cx="628" cy="656.6" r="3.5"/><circle cx="595.3" cy="622.1" r="3.5"/><circle cx="514.8" cy="497.2" r="3.5"/><circle cx="553.9" cy="535.5" r="3.5"/><circle cx="610" cy="547" r="3.5"/><circle cx="455.4" cy="609.1" r="3.5"/><circle cx="639.6" cy="512.6" r="3.5"/><circle cx="604.8" cy="547" r="3.5"/><circle cx="472.9" cy="636.7" r="3.5"/><circle cx="487.8" cy="524.1" r="3.5"/><circle cx="465.2" cy="639.7" r="3.5"/><circle cx="608.1" cy="521.8" r="3.5"/><circle cx="591.2" cy="600.7" r="3.5"/><circle cx="523" cy="676.5" r="3.5"/><circle cx="579" cy="619.8" r="3.5"/><circle cx="529.1" cy="527.9" r="3.5"/><circle cx="569.8" cy="675" r="3.5"/><circle cx="579" cy="665.8" r="3.5"/><circle cx="577.2" cy="633.6" r="3.5"/><circle cx="488.3" cy="502.6" r="3.5"/><circle cx="448.4" cy="606" r="3.5"/><circle cx="467.3" cy="654.3" r="3.5"/><circle cx="637.4" cy="587.6" r="3.5"/><circle cx="567.2" cy="603" r="3.5"/><circle cx="581.1" cy="590.7" r="3.5"/><circle cx="561.6" cy="502.6" r="3.5"/><circle cx="611.6" cy="645.9" r="3.5"/><circle cx="552.6" cy="575.4" r="3.5"/><circle cx="600.4" cy="583.8" r="3.5"/><circle cx="620.7" cy="648.1" r="3.5"/><circle cx="543.7" cy="652" r="3.5"/><circle cx="502.9" cy="584.6" r="3.5"/><circle cx="469" cy="632.8" r="3.5"/><circle cx="647.2" cy="514.9" r="3.5"/><circle cx="481.7" cy="590.7" r="3.5"/><circle cx="587" cy="597.6" r="3.5"/><circle cx="539.1" cy="568.5" r="3.5"/><circle cx="631.4" cy="613.7" r="3.5"/><circle cx="614.5" cy="567.7" r="3.5"/><circle cx="556" cy="616" r="3.5"/><circle cx="460.3" cy="511" r="3.5"/><circle cx="534.9" cy="681.1" r="3.5"/><circle cx="651.6" cy="515.6" r="3.5"/><circle cx="511.2" cy="526.4" r="3.5"/><circle cx="591.9" cy="545.5" r="3.5"/><circle cx="548.7" cy="576.9" r="3.5"/><circle cx="499" cy="516.4" r="3.5"/><circle cx="596.9" cy="599.9" r="3.5"/><circle cx="569.5" cy="664.2" r="3.5"/><circle cx="533.4" cy="560.8" r="3.5"/><circle cx="599.6" cy="504.9" r="3.5"/><circle cx="459.4" cy="505.7" r="3.5"/><circle cx="532.7" cy="521.8" r="3.5"/><circle cx="448.4" cy="544" r="3.5"/><circle cx="627.6" cy="511" r="3.5"/><circle cx="613.6" cy="511" r="3.5"/><circle cx="532.2" cy="573.1" r="3.5"/><circle cx="634.7" cy="630.5" r="3.5"/><circle cx="484.2" cy="615.2" r="3.5"/><circle cx="567.8" cy="673.4" r="3.5"/><circle cx="448.4" cy="542.4" r="3.5"/><circle cx="644.5" cy="612.1" r="3.5"/><circle cx="581.3" cy="618.3" r="3.5"/><circle cx="596.1" cy="553.2" r="3.5"/><circle cx="448.4" cy="601.4" r="3.5"/><circle cx="473.1" cy="544" r="3.5"/><circle cx="524" cy="634.4" r="3.5"/><circle cx="506.7" cy="607.6" r="3.5"/><circle cx="575.2" cy="537.1" r="3.5"/><circle cx="611.4" cy="662.7" r="3.5"/><circle cx="458.9" cy="573.8" r="3.5"/><circle cx="448.4" cy="666.5" r="3.5"/><circle cx="574.9" cy="517.2" r="3.5"/><circle cx="511.8" cy="540.9" r="3.5"/><circle cx="540.5" cy="518.7" r="3.5"/><circle cx="644.3" cy="616" r="3.5"/><circle cx="630.4" cy="594.5" r="3.5"/><circle cx="604.7" cy="655.8" r="3.5"/><circle cx="510.7" cy="543.2" r="3.5"/><circle cx="478" cy="552.4" r="3.5"/><circle cx="472.8" cy="580.7" r="3.5"/><circle cx="527.5" cy="639.7" r="3.5"/><circle cx="569" cy="527.1" r="3.5"/><circle cx="494.1" cy="678.8" r="3.5"/><circle cx="569.2" cy="684.9" r="3.5"/><circle cx="598.8" cy="529.4" r="3.5"/><circle cx="616.2" cy="568.5" r="3.5"/><circle cx="574.6" cy="499.5" r="3.5"/><circle cx="565.9" cy="541.7" r="3.5"/><circle cx="547.7" cy="627.5" r="3.5"/><circle cx="532.3" cy="609.8" r="3.5"/><circle cx="620.4" cy="534.8" r="3.5"/><circle cx="498.7" cy="667.3" r="3.5"/><circle cx="616.8" cy="635.9" r="3.5"/><circle cx="553.7" cy="611.4" r="3.5"/><circle cx="461.4" cy="678" r="3.5"/><circle cx="482.3" cy="568.5" r="3.5"/><circle cx="595.1" cy="583.8" r="3.5"/><circle cx="552.1" cy="609.1" r="3.5"/><circle cx="605.6" cy="672.7" r="3.5"/><circle cx="649.8" cy="583.8" r="3.5"/><circle cx="473.8" cy="622.1" r="3.5"/><circle cx="588.9" cy="620.6" r="3.5"/><circle cx="646.3" cy="583" r="3.5"/><circle cx="491.1" cy="554.7" r="3.5"/><circle cx="578" cy="591.5" r="3.5"/><circle cx="494.4" cy="594.5" r="3.5"/><circle cx="455.9" cy="655" r="3.5"/><circle cx="600" cy="658.9" r="3.5"/><circle cx="632.1" cy="559.3" r="3.5"/><circle cx="612.3" cy="587.6" r="3.5"/><circle cx="540.1" cy="588.4" r="3.5"/><circle cx="448.4" cy="619.8" r="3.5"/><circle cx="482.8" cy="553.2" r="3.5"/><circle cx="510.4" cy="514.9" r="3.5"/><circle cx="550" cy="649.7" r="3.5"/><circle cx="487.1" cy="560.8" r="3.5"/><circle cx="653.6" cy="547" r="3.5"/><circle cx="612.5" cy="684.2" r="3.5"/><circle cx="490.8" cy="593" r="3.5"/><circle cx="457" cy="685.7" r="3.5"/><circle cx="554" cy="607.6" r="3.5"/><circle cx="639.4" cy="565.4" r="3.5"/><circle cx="517.1" cy="585.3" r="3.5"/><circle cx="623.7" cy="675" r="3.5"/><circle cx="648.3" cy="625.2" r="3.5"/><circle cx="568.8" cy="632.1" r="3.5"/><circle cx="655.8" cy="603" r="3.5"/><circle cx="546.9" cy="658.9" r="3.5"/><circle cx="505.6" cy="629.8" r="3.5"/><circle cx="448.4" cy="527.9" r="3.5"/><circle cx="561.8" cy="522.5" r="3.5"/><circle cx="504.9" cy="665" r="3.5"/><circle cx="466.9" cy="504.9" r="3.5"/><circle cx="580.6" cy="555.5" r="3.5"/><circle cx="549.9" cy="646.6" r="3.5"/><circle cx="475.2" cy="532.5" r="3.5"/><circle cx="559.4" cy="504.9" r="3.5"/><circle cx="532.6" cy="510.3" r="3.5"/><circle cx="448.4" cy="674.2" r="3.5"/><circle cx="482.5" cy="669.6" r="3.5"/><circle cx="634.3" cy="525.6" r="3.5"/><circle cx="642.3" cy="560.8" r="3.5"/><circle cx="605.8" cy="550.1" r="3.5"/><circle cx="455.8" cy="519.5" r="3.5"/><circle cx="630.7" cy="662.7" r="3.5"/><circle cx="518.6" cy="654.3" r="3.5"/><circle cx="641" cy="597.6" r="3.5"/><circle cx="610.6" cy="623.6" r="3.5"/><circle cx="540.6" cy="495.7" r="3.5"/><circle cx="538" cy="623.6" r="3.5"/><circle cx="531.6" cy="499.5" r="3.5"/><circle cx="493.9" cy="674.2" r="3.5"/><circle cx="606.7" cy="580" r="3.5"/><circle cx="571.9" cy="626.7" r="3.5"/><circle cx="532.9" cy="674.2" r="3.5"/><circle cx="501.8" cy="601.4" r="3.5"/><circle cx="448.4" cy="669.6" r="3.5"/><circle cx="648.5" cy="627.5" r="3.5"/><circle cx="625.5" cy="605.3" r="3.5"/><circle cx="646.5" cy="568.5" r="3.5"/><circle cx="549" cy="630.5" r="3.5"/><circle cx="627.8" cy="652" r="3.5"/><circle cx="463.1" cy="625.2" r="3.5"/><circle cx="548.1" cy="592.2" r="3.5"/><circle cx="474.5" cy="642.8" r="3.5"/><circle cx="509.3" cy="495.7" r="3.5"/><circle cx="524.2" cy="500.3" r="3.5"/><circle cx="538.2" cy="547.8" r="3.5"/><circle cx="535.3" cy="512.6" r="3.5"/><circle cx="596" cy="518.7" r="3.5"/><circle cx="590.1" cy="589.9" r="3.5"/><circle cx="564.9" cy="650.4" r="3.5"/><circle cx="529.6" cy="547.8" r="3.5"/><circle cx="476.8" cy="631.3" r="3.5"/><circle cx="483.5" cy="627.5" r="3.5"/><circle cx="651.8" cy="582.3" r="3.5"/><circle cx="448.4" cy="609.8" r="3.5"/><circle cx="590.3" cy="624.4" r="3.5"/><circle cx="564.5" cy="519.5" r="3.5"/><circle cx="598.9" cy="658.1" r="3.5"/><circle cx="650.9" cy="632.1" r="3.5"/><circle cx="448.4" cy="504.9" r="3.5"/><circle cx="456.1" cy="579.2" r="3.5"/><circle cx="448.4" cy="592.2" r="3.5"/><circle cx="467.5" cy="580" r="3.5"/><circle cx="635.6" cy="504.1" r="3.5"/><circle cx="630.5" cy="677.3" r="3.5"/><circle cx="577.8" cy="526.4" r="3.5"/><circle cx="513.9" cy="516.4" r="3.5"/><circle cx="535.8" cy="646.6" r="3.5"/><circle cx="551.1" cy="553.2" r="3.5"/><circle cx="476.7" cy="619" r="3.5"/><circle cx="571.3" cy="612.9" r="3.5"/><circle cx="544" cy="530.2" r="3.5"/><circle cx="460.1" cy="596.8" r="3.5"/><circle cx="532.8" cy="652" r="3.5"/><circle cx="483" cy="612.1" r="3.5"/><circle cx="633" cy="635.9" r="3.5"/><circle cx="587.8" cy="624.4" r="3.5"/><circle cx="448.4" cy="608.3" r="3.5"/><circle cx="476.9" cy="618.3" r="3.5"/><circle cx="448.4" cy="609.8" r="3.5"/><circle cx="519.6" cy="508.7" r="3.5"/><circle cx="585.7" cy="684.9" r="3.5"/><circle cx="510.2" cy="521.8" r="3.5"/><circle cx="628.9" cy="560.1" r="3.5"/><circle cx="538.1" cy="526.4" r="3.5"/><circle cx="580.8" cy="652.7" r="3.5"/><circle cx="528.9" cy="665" r="3.5"/><circle cx="512" cy="648.9" r="3.5"/><circle cx="637.8" cy="629" r="3.5"/><circle cx="633.2" cy="551.6" r="3.5"/><circle cx="448.4" cy="665.8" r="3.5"/><circle cx="547" cy="536.3" r="3.5"/><circle cx="567.6" cy="556.2" r="3.5"/><circle cx="620.1" cy="524.8" r="3.5"/><circle cx="551.5" cy="517.9" r="3.5"/><circle cx="484.1" cy="604.5" r="3.5"/><circle cx="494.6" cy="571.5" r="3.5"/><circle cx="591.9" cy="501.8" r="3.5"/><circle cx="592.3" cy="521" r="3.5"/><circle cx="520.6" cy="655" r="3.5"/><circle cx="524.5" cy="510.3" r="3.5"/><circle cx="472.5" cy="561.6" r="3.5"/><circle cx="564.5" cy="594.5" r="3.5"/><circle cx="553.4" cy="495.7" r="3.5"/><circle cx="642.2" cy="508.7" r="3.5"/><circle cx="461.2" cy="653.5" r="3.5"/><circle cx="547.5" cy="643.6" r="3.5"/><circle cx="533.9" cy="666.5" r="3.5"/><circle cx="504.6" cy="680.3" r="3.5"/><circle cx="476.3" cy="680.3" r="3.5"/><circle cx="510" cy="655" r="3.5"/><circle cx="525.4" cy="609.8" r="3.5"/><circle cx="602.6" cy="647.4" r="3.5"/><circle cx="600.6" cy="629" r="3.5"/><circle cx="502.1" cy="637.4" r="3.5"/><circle cx="605.3" cy="580" r="3.5"/><circle cx="528.3" cy="635.9" r="3.5"/><circle cx="633.6" cy="589.9" r="3.5"/><circle cx="497.1" cy="554.7" r="3.5"/><circle cx="570.7" cy="573.1" r="3.5"/><circle cx="546.7" cy="663.5" r="3.5"/><circle cx="533.2" cy="511" r="3.5"/><circle cx="517.9" cy="509.5" r="3.5"/><circle cx="530.9" cy="644.3" r="3.5"/><circle cx="562.9" cy="631.3" r="3.5"/><circle cx="528.2" cy="566.2" r="3.5"/><circle cx="551.3" cy="639.7" r="3.5"/><circle cx="500.3" cy="604.5" r="3.5"/><circle cx="472.3" cy="563.1" r="3.5"/><circle cx="530.6" cy="534.8" r="3.5"/><circle cx="464.2" cy="639" r="3.5"/><circle cx="584.9" cy="648.1" r="3.5"/><circle cx="543.8" cy="559.3" r="3.5"/><circle cx="564.7" cy="535.5" r="3.5"/><circle cx="627.7" cy="649.7" r="3.5"/><circle cx="484.7" cy="606.8" r="3.5"/><circle cx="556.7" cy="675.7" r="3.5"/><circle cx="583.9" cy="526.4" r="3.5"/><circle cx="531.3" cy="631.3" r="3.5"/><circle cx="604.9" cy="552.4" r="3.5"/><circle cx="463.9" cy="660.4" r="3.5"/><circle cx="645.7" cy="663.5" r="3.5"/><circle cx="575.1" cy="589.9" r="3.5"/><circle cx="559.6" cy="611.4" r="3.5"/><circle cx="505.6" cy="565.4" r="3.5"/><circle cx="508.4" cy="529.4" r="3.5"/><circle cx="657.4" cy="504.1" r="3.5"/><circle cx="506.2" cy="521" r="3.5"/><circle cx="536" cy="497.2" r="3.5"/><circle cx="448.4" cy="657.3" r="3.5"/><circle cx="594.7" cy="510.3" r="3.5"/><circle cx="555" cy="540.1" r="3.5"/><circle cx="448.4" cy="547.8" r="3.5"/><circle cx="543.6" cy="658.1" r="3.5"/><circle cx="558.9" cy="509.5" r="3.5"/><circle cx="525.3" cy="553.9" r="3.5"/><circle cx="558.3" cy="523.3" r="3.5"/><circle cx="607.3" cy="633.6" r="3.5"/><circle cx="578.4" cy="665" r="3.5"/><circle cx="482.2" cy="632.8" r="3.5"/><circle cx="545.8" cy="613.7" r="3.5"/><circle cx="639" cy="658.9" r="3.5"/><circle cx="603" cy="501.1" r="3.5"/><circle cx="633.4" cy="537.1" r="3.5"/><circle cx="512.8" cy="655" r="3.5"/><circle cx="590.8" cy="571.5" r="3.5"/><circle cx="560.2" cy="504.1" r="3.5"/><circle cx="561.9" cy="659.6" r="3.5"/><circle cx="628.3" cy="662.7" r="3.5"/><circle cx="557.6" cy="553.9" r="3.5"/><circle cx="541.1" cy="590.7" r="3.5"/><circle cx="563" cy="656.6" r="3.5"/><circle cx="655.4" cy="495.7" r="3.5"/><circle cx="599.5" cy="683.4" r="3.5"/><circle cx="644.4" cy="589.2" r="3.5"/><circle cx="474.3" cy="505.7" r="3.5"/><circle cx="574.4" cy="662.7" r="3.5"/><circle cx="448.4" cy="616" r="3.5"/><circle cx="546" cy="599.9" r="3.5"/><circle cx="591.7" cy="496.5" r="3.5"/><circle cx="578" cy="603" r="3.5"/><circle cx="633.1" cy="618.3" r="3.5"/><circle cx="448.4" cy="678.8" r="3.5"/><circle cx="562.2" cy="580.7" r="3.5"/><circle cx="522.7" cy="501.8" r="3.5"/><circle cx="574.8" cy="655" r="3.5"/><circle cx="499.5" cy="603.7" r="3.5"/><circle cx="635.5" cy="509.5" r="3.5"/><circle cx="616.9" cy="672.7" r="3.5"/><circle cx="629.9" cy="523.3" r="3.5"/><circle cx="548.9" cy="667.3" r="3.5"/><circle cx="572.6" cy="602.2" r="3.5"/><circle cx="473" cy="620.6" r="3.5"/><circle cx="615.9" cy="533.2" r="3.5"/><circle cx="551.9" cy="618.3" r="3.5"/><circle cx="471.3" cy="525.6" r="3.5"/><circle cx="476.1" cy="623.6" r="3.5"/><circle cx="626.1" cy="562.4" r="3.5"/><circle cx="467.9" cy="590.7" r="3.5"/><circle cx="534.3" cy="531.7" r="3.5"/><circle cx="613.2" cy="568.5" r="3.5"/><circle cx="614.7" cy="652" r="3.5"/><circle cx="448.4" cy="675" r="3.5"/><circle cx="619.8" cy="639.7" r="3.5"/><circle cx="492.7" cy="633.6" r="3.5"/><circle cx="589.1" cy="521" r="3.5"/><circle cx="510.5" cy="670.4" r="3.5"/><circle cx="593.2" cy="665" r="3.5"/><circle cx="540.4" cy="507.2" r="3.5"/><circle cx="503.2" cy="601.4" r="3.5"/><circle cx="464.6" cy="650.4" r="3.5"/><circle cx="535.7" cy="639" r="3.5"/><circle cx="534" cy="594.5" r="3.5"/><circle cx="498.4" cy="521" r="3.5"/><circle cx="581.4" cy="657.3" r="3.5"/><circle cx="448.4" cy="505.7" r="3.5"/><circle cx="597.8" cy="554.7" r="3.5"/><circle cx="554.6" cy="651.2" r="3.5"/><circle cx="486.7" cy="498" r="3.5"/><circle cx="528" cy="671.1" r="3.5"/><circle cx="498" cy="522.5" r="3.5"/><circle cx="640.1" cy="570" r="3.5"/><circle cx="549.1" cy="552.4" r="3.5"/><circle cx="499.8" cy="640.5" r="3.5"/><circle cx="571.7" cy="609.8" r="3.5"/><circle cx="461.1" cy="521" r="3.5"/><circle cx="636.3" cy="594.5" r="3.5"/><circle cx="622.5" cy="659.6" r="3.5"/><circle cx="492.9" cy="620.6" r="3.5"/><circle cx="647.8" cy="511" r="3.5"/><circle cx="631.1" cy="579.2" r="3.5"/><circle cx="487.2" cy="527.9" r="3.5"/><circle cx="448.4" cy="677.3" r="3.5"/><circle cx="448.4" cy="542.4" r="3.5"/><circle cx="596.8" cy="650.4" r="3.5"/><circle cx="560.8" cy="586.1" r="3.5"/><circle cx="648.2" cy="551.6" r="3.5"/><circle cx="480.6" cy="634.4" r="3.5"/><circle cx="537.8" cy="646.6" r="3.5"/><circle cx="635" cy="631.3" r="3.5"/><circle cx="512.8" cy="538.6" r="3.5"/><circle cx="448.4" cy="665.8" r="3.5"/><circle cx="448.4" cy="664.2" r="3.5"/><circle cx="556.2" cy="602.2" r="3.5"/><circle cx="559.5" cy="537.1" r="3.5"/><circle cx="555.6" cy="595.3" r="3.5"/><circle cx="605.1" cy="671.9" r="3.5"/><circle cx="448.4" cy="575.4" r="3.5"/><circle cx="648.5" cy="678" r="3.5"/><circle cx="599.8" cy="668.1" r="3.5"/><circle cx="506.9" cy="522.5" r="3.5"/><circle cx="465.9" cy="624.4" r="3.5"/><circle cx="515.3" cy="585.3" r="3.5"/><circle cx="639.6" cy="645.1" r="3.5"/><circle cx="537" cy="567" r="3.5"/><circle cx="574.1" cy="596.8" r="3.5"/><circle cx="640.3" cy="498" r="3.5"/><circle cx="475.1" cy="577.7" r="3.5"/><circle cx="610.8" cy="556.2" r="3.5"/><circle cx="634.2" cy="571.5" r="3.5"/><circle cx="599.8" cy="514.1" r="3.5"/><circle cx="500.3" cy="677.3" r="3.5"/><circle cx="466.1" cy="626.7" r="3.5"/><circle cx="585.9" cy="518.7" r="3.5"/><circle cx="485.8" cy="559.3" r="3.5"/><circle cx="646.5" cy="645.1" r="3.5"/><circle cx="593.6" cy="522.5" r="3.5"/><circle cx="531.8" cy="556.2" r="3.5"/><circle cx="554.4" cy="635.1" r="3.5"/><circle cx="455.2" cy="501.1" r="3.5"/><circle cx="488.4" cy="671.1" r="3.5"/><circle cx="572.4" cy="685.7" r="3.5"/><circle cx="590.2" cy="572.3" r="3.5"/><circle cx="553.2" cy="522.5" r="3.5"/><circle cx="479.3" cy="653.5" r="3.5"/><circle cx="461.1" cy="609.1" r="3.5"/><circle cx="528.6" cy="648.1" r="3.5"/><circle cx="472.4" cy="635.9" r="3.5"/><circle cx="514.1" cy="625.9" r="3.5"/><circle cx="507" cy="622.1" r="3.5"/><circle cx="647.8" cy="603.7" r="3.5"/><circle cx="477.3" cy="607.6" r="3.5"/><circle cx="518.7" cy="677.3" r="3.5"/><circle cx="614.4" cy="543.2" r="3.5"/><circle cx="612.9" cy="580.7" r="3.5"/><circle cx="530.7" cy="674.2" r="3.5"/><circle cx="469.3" cy="646.6" r="3.5"/><circle cx="626.8" cy="590.7" r="3.5"/><circle cx="537.8" cy="537.1" r="3.5"/><circle cx="642.4" cy="606.8" r="3.5"/><circle cx="458.8" cy="681.1" r="3.5"/><circle cx="609.1" cy="626.7" r="3.5"/><circle cx="582.9" cy="518.7" r="3.5"/><circle cx="512.5" cy="505.7" r="3.5"/><circle cx="515.1" cy="619" r="3.5"/><circle cx="615.4" cy="534.8" r="3.5"/><circle cx="538.2" cy="622.9" r="3.5"/><circle cx="583.3" cy="584.6" r="3.5"/><circle cx="603.6" cy="560.1" r="3.5"/><circle cx="486.6" cy="525.6" r="3.5"/><circle cx="501.7" cy="541.7" r="3.5"/><circle cx="485.6" cy="632.8" r="3.5"/><circle cx="630.7" cy="516.4" r="3.5"/><circle cx="587.6" cy="593.8" r="3.5"/><circle cx="631.7" cy="681.1" r="3.5"/><circle cx="621.8" cy="603" r="3.5"/><circle cx="484.5" cy="614.4" r="3.5"/><circle cx="581.2" cy="569.3" r="3.5"/><circle cx="462.2" cy="509.5" r="3.5"/><circle cx="569.9" cy="603" r="3.5"/><circle cx="642.3" cy="682.6" r="3.5"/><circle cx="623.8" cy="672.7" r="3.5"/><circle cx="532.9" cy="562.4" r="3.5"/><circle cx="599.4" cy="518.7" r="3.5"/><circle cx="489" cy="647.4" r="3.5"/><circle cx="463.3" cy="578.4" r="3.5"/><circle cx="448.4" cy="541.7" r="3.5"/><circle cx="448.4" cy="539.4" r="3.5"/><circle cx="511.3" cy="629" r="3.5"/><circle cx="580.3" cy="582.3" r="3.5"/><circle cx="489.8" cy="510.3" r="3.5"/><circle cx="607.7" cy="550.1" r="3.5"/><circle cx="506.8" cy="670.4" r="3.5"/><circle cx="535.1" cy="671.1" r="3.5"/><circle cx="593.8" cy="642" r="3.5"/><circle cx="448.4" cy="557" r="3.5"/><circle cx="532.6" cy="569.3" r="3.5"/><circle cx="493.4" cy="498" r="3.5"/><circle cx="464.4" cy="507.2" r="3.5"/><circle cx="544.9" cy="641.3" r="3.5"/><circle cx="586.4" cy="610.6" r="3.5"/><circle cx="493.7" cy="590.7" r="3.5"/><circle cx="484.8" cy="630.5" r="3.5"/><circle cx="457.2" cy="593.8" r="3.5"/><circle cx="492.7" cy="671.9" r="3.5"/><circle cx="485.5" cy="613.7" r="3.5"/><circle cx="583.4" cy="619" r="3.5"/><circle cx="538.3" cy="603" r="3.5"/><circle cx="546.4" cy="540.9" r="3.5"/><circle cx="641.4" cy="533.2" r="3.5"/><circle cx="508.6" cy="569.3" r="3.5"/><circle cx="533.1" cy="645.9" r="3.5"/><circle cx="610.2" cy="579.2" r="3.5"/><circle cx="588.2" cy="557.8" r="3.5"/><circle cx="534.6" cy="636.7" r="3.5"/><circle cx="594.9" cy="505.7" r="3.5"/><circle cx="548.4" cy="614.4" r="3.5"/><circle cx="653.1" cy="606" r="3.5"/><circle cx="591.1" cy="544" r="3.5"/><circle cx="645.3" cy="530.2" r="3.5"/><circle cx="547.4" cy="620.6" r="3.5"/><circle cx="495.4" cy="631.3" r="3.5"/><circle cx="496.4" cy="542.4" r="3.5"/><circle cx="462" cy="558.5" r="3.5"/><circle cx="629.4" cy="614.4" r="3.5"/><circle cx="605" cy="563.1" r="3.5"/><circle cx="588.2" cy="635.9" r="3.5"/><circle cx="501" cy="680.3" r="3.5"/><circle cx="609" cy="560.1" r="3.5"/><circle cx="496.5" cy="580" r="3.5"/><circle cx="610.9" cy="599.9" r="3.5"/><circle cx="462.8" cy="667.3" r="3.5"/><circle cx="549.2" cy="644.3" r="3.5"/><circle cx="512.4" cy="499.5" r="3.5"/><circle cx="486.5" cy="641.3" r="3.5"/><circle cx="579.1" cy="553.9" r="3.5"/><circle cx="627.5" cy="552.4" r="3.5"/><circle cx="608.8" cy="652.7" r="3.5"/><circle cx="448.4" cy="630.5" r="3.5"/><circle cx="655.5" cy="622.9" r="3.5"/><circle cx="473.9" cy="635.1" r="3.5"/><circle cx="519.7" cy="588.4" r="3.5"/><circle cx="638.5" cy="530.2" r="3.5"/><circle cx="567.3" cy="552.4" r="3.5"/><circle cx="514.1" cy="650.4" r="3.5"/><circle cx="481.1" cy="668.1" r="3.5"/><circle cx="627" cy="498.8" r="3.5"/><circle cx="469.1" cy="527.9" r="3.5"/><circle cx="582.3" cy="609.1" r="3.5"/><circle cx="475" cy="512.6" r="3.5"/><circle cx="627.4" cy="541.7" r="3.5"/><circle cx="557.7" cy="577.7" r="3.5"/><circle cx="478.2" cy="560.1" r="3.5"/><circle cx="614.8" cy="647.4" r="3.5"/><circle cx="448.4" cy="581.5" r="3.5"/><circle cx="569.4" cy="666.5" r="3.5"/><circle cx="489.4" cy="664.2" r="3.5"/><circle cx="459" cy="600.7" r="3.5"/><circle cx="542.4" cy="503.4" r="3.5"/><circle cx="521.5" cy="625.2" r="3.5"/><circle cx="537.7" cy="589.2" r="3.5"/><circle cx="638" cy="604.5" r="3.5"/><circle cx="551.7" cy="561.6" r="3.5"/><circle cx="557.9" cy="671.1" r="3.5"/><circle cx="598.6" cy="625.2" r="3.5"/><circle cx="649.2" cy="587.6" r="3.5"/><circle cx="492.6" cy="618.3" r="3.5"/><circle cx="511" cy="523.3" r="3.5"/><circle cx="536.6" cy="619.8" r="3.5"/><circle cx="519.9" cy="542.4" r="3.5"/><circle cx="542.7" cy="599.9" r="3.5"/><circle cx="562.1" cy="577.7" r="3.5"/><circle cx="585.4" cy="642" r="3.5"/><circle cx="475.8" cy="609.8" r="3.5"/><circle cx="547.1" cy="564.7" r="3.5"/><circle cx="637" cy="632.8" r="3.5"/><circle cx="568.1" cy="550.1" r="3.5"/><circle cx="595.7" cy="599.9" r="3.5"/><circle cx="629.7" cy="631.3" r="3.5"/><circle cx="537.1" cy="544" r="3.5"/><circle cx="561.4" cy="512.6" r="3.5"/><circle cx="458.1" cy="680.3" r="3.5"/><circle cx="614.9" cy="652.7" r="3.5"/><circle cx="493.5" cy="657.3" r="3.5"/><circle cx="565.7" cy="557" r="3.5"/><circle cx="468" cy="681.1" r="3.5"/><circle cx="540.8" cy="681.1" r="3.5"/><circle cx="617.7" cy="570.8" r="3.5"/><circle cx="491.9" cy="567" r="3.5"/><circle cx="546.1" cy="675" r="3.5"/><circle cx="464.3" cy="620.6" r="3.5"/><circle cx="571.5" cy="496.5" r="3.5"/><circle cx="636.6" cy="660.4" r="3.5"/><circle cx="519.2" cy="668.8" r="3.5"/><circle cx="510.8" cy="631.3" r="3.5"/><circle cx="526.3" cy="665.8" r="3.5"/><circle cx="481.5" cy="561.6" r="3.5"/><circle cx="653.7" cy="681.9" r="3.5"/><circle cx="637.3" cy="535.5" r="3.5"/><circle cx="630.3" cy="589.9" r="3.5"/><circle cx="511.5" cy="638.2" r="3.5"/><circle cx="490.4" cy="508.7" r="3.5"/><circle cx="607" cy="545.5" r="3.5"/><circle cx="612.2" cy="667.3" r="3.5"/><circle cx="497.6" cy="498.8" r="3.5"/><circle cx="623.8" cy="620.6" r="3.5"/><circle cx="455.8" cy="660.4" r="3.5"/><circle cx="538.4" cy="651.2" r="3.5"/><circle cx="624.2" cy="517.9" r="3.5"/><circle cx="482.5" cy="552.4" r="3.5"/><circle cx="596.7" cy="586.9" r="3.5"/><circle cx="635" cy="498.8" r="3.5"/><circle cx="512.3" cy="537.1" r="3.5"/><circle cx="509.2" cy="549.3" r="3.5"/><circle cx="579.7" cy="533.2" r="3.5"/><circle cx="627.2" cy="550.9" r="3.5"/><circle cx="519" cy="656.6" r="3.5"/><circle cx="609.5" cy="508" r="3.5"/><circle cx="633.4" cy="571.5" r="3.5"/><circle cx="514.4" cy="632.8" r="3.5"/><circle cx="544.1" cy="642.8" r="3.5"/><circle cx="582" cy="586.9" r="3.5"/><circle cx="625.8" cy="508" r="3.5"/><circle cx="518.1" cy="550.1" r="3.5"/><circle cx="627.9" cy="619" r="3.5"/><circle cx="613.5" cy="672.7" r="3.5"/><circle cx="524.7" cy="524.8" r="3.5"/><circle cx="448.4" cy="597.6" r="3.5"/><circle cx="647.7" cy="681.9" r="3.5"/><circle cx="534.2" cy="652.7" r="3.5"/><circle cx="562.3" cy="498" r="3.5"/><circle cx="523.7" cy="631.3" r="3.5"/><circle cx="541.5" cy="671.1" r="3.5"/><circle cx="528" cy="588.4" r="3.5"/><circle cx="513.7" cy="517.9" r="3.5"/><circle cx="655.2" cy="513.3" r="3.5"/><circle cx="595.6" cy="616.7" r="3.5"/><circle cx="544.1" cy="655.8" r="3.5"/><circle cx="649.2" cy="497.2" r="3.5"/><circle cx="505.1" cy="571.5" r="3.5"/><circle cx="572.3" cy="621.3" r="3.5"/><circle cx="600.4" cy="501.1" r="3.5"/><circle cx="521.1" cy="608.3" r="3.5"/><circle cx="632.7" cy="498" r="3.5"/><circle cx="557.1" cy="655.8" r="3.5"/><circle cx="537.3" cy="537.8" r="3.5"/><circle cx="644.8" cy="630.5" r="3.5"/><circle cx="604.4" cy="578.4" r="3.5"/><circle cx="467.4" cy="612.1" r="3.5"/><circle cx="579.3" cy="547.8" r="3.5"/><circle cx="491.3" cy="537.8" r="3.5"/><circle cx="652.4" cy="525.6" r="3.5"/><circle cx="524.3" cy="564.7" r="3.5"/><circle cx="448.4" cy="501.8" r="3.5"/><circle cx="448.4" cy="560.1" r="3.5"/><circle cx="529.6" cy="644.3" r="3.5"/><circle cx="448.4" cy="498" r="3.5"/><circle cx="534.1" cy="596.1" r="3.5"/><circle cx="604.4" cy="566.2" r="3.5"/><circle cx="548.3" cy="651.2" r="3.5"/><circle cx="530.4" cy="676.5" r="3.5"/><circle cx="558.1" cy="600.7" r="3.5"/><circle cx="654.3" cy="606" r="3.5"/><circle cx="637.6" cy="594.5" r="3.5"/><circle cx="609.7" cy="580" r="3.5"/><circle cx="621.8" cy="591.5" r="3.5"/><circle cx="592.4" cy="517.2" r="3.5"/><circle cx="601" cy="609.1" r="3.5"/><circle cx="586.5" cy="626.7" r="3.5"/><circle cx="468.2" cy="550.1" r="3.5"/><circle cx="448.4" cy="640.5" r="3.5"/><circle cx="472.7" cy="529.4" r="3.5"/><circle cx="466.3" cy="560.1" r="3.5"/><circle cx="629.4" cy="639.7" r="3.5"/><circle cx="622.3" cy="684.2" r="3.5"/><circle cx="491.4" cy="645.1" r="3.5"/><circle cx="468.1" cy="613.7" r="3.5"/><circle cx="564.2" cy="662.7" r="3.5"/><circle cx="651.4" cy="592.2" r="3.5"/><circle cx="589.8" cy="555.5" r="3.5"/><circle cx="654.8" cy="536.3" r="3.5"/><circle cx="511.4" cy="610.6" r="3.5"/><circle cx="509.4" cy="619" r="3.5"/><circle cx="642.6" cy="570.8" r="3.5"/><circle cx="653.5" cy="580.7" r="3.5"/><circle cx="640.9" cy="656.6" r="3.5"/><circle cx="464.1" cy="555.5" r="3.5"/><circle cx="541.1" cy="584.6" r="3.5"/><circle cx="600.3" cy="522.5" r="3.5"/><circle cx="636.4" cy="618.3" r="3.5"/><circle cx="548" cy="543.2" r="3.5"/><circle cx="559.3" cy="521.8" r="3.5"/><circle cx="561.5" cy="659.6" r="3.5"/><circle cx="613.1" cy="622.9" r="3.5"/><circle cx="637.9" cy="653.5" r="3.5"/><circle cx="467.1" cy="508" r="3.5"/><circle cx="540.5" cy="539.4" r="3.5"/><circle cx="646" cy="511.8" r="3.5"/><circle cx="465" cy="658.9" r="3.5"/><circle cx="469.3" cy="606.8" r="3.5"/><circle cx="634.7" cy="552.4" r="3.5"/><circle cx="495.4" cy="656.6" r="3.5"/><circle cx="498.8" cy="650.4" r="3.5"/><circle cx="556.3" cy="633.6" r="3.5"/><circle cx="528.8" cy="571.5" r="3.5"/><circle cx="652.2" cy="667.3" r="3.5"/><circle cx="648" cy="581.5" r="3.5"/><circle cx="523.3" cy="504.9" r="3.5"/><circle cx="592.5" cy="581.5" r="3.5"/><circle cx="605.7" cy="579.2" r="3.5"/><circle cx="553.3" cy="674.2" r="3.5"/><circle cx="611.8" cy="524.1" r="3.5"/><circle cx="480.3" cy="517.9" r="3.5"/><circle cx="606.3" cy="527.1" r="3.5"/><circle cx="637" cy="632.8" r="3.5"/><circle cx="462.1" cy="629.8" r="3.5"/><circle cx="481.6" cy="584.6" r="3.5"/><circle cx="565.6" cy="681.1" r="3.5"/><circle cx="505.3" cy="515.6" r="3.5"/><circle cx="485.5" cy="647.4" r="3.5"/><circle cx="462.9" cy="536.3" r="3.5"/><circle cx="448.4" cy="645.1" r="3.5"/><circle cx="634" cy="576.1" r="3.5"/><circle cx="608.6" cy="577.7" r="3.5"/><circle cx="603.1" cy="662.7" r="3.5"/><circle cx="543" cy="518.7" r="3.5"/><circle cx="638.8" cy="619" r="3.5"/><circle cx="522.9" cy="619" r="3.5"/><circle cx="511.5" cy="537.8" r="3.5"/><circle cx="620.8" cy="533.2" r="3.5"/><circle cx="448.4" cy="581.5" r="3.5"/><circle cx="588.7" cy="555.5" r="3.5"/><circle cx="635.3" cy="573.8" r="3.5"/><circle cx="536.2" cy="616.7" r="3.5"/><circle cx="561.2" cy="527.9" r="3.5"/><circle cx="466.2" cy="540.9" r="3.5"/><circle cx="610.4" cy="606.8" r="3.5"/><circle cx="589.9" cy="582.3" r="3.5"/><circle cx="618.9" cy="564.7" r="3.5"/><circle cx="507.2" cy="617.5" r="3.5"/><circle cx="574.2" cy="666.5" r="3.5"/><circle cx="459.6" cy="544" r="3.5"/><circle cx="521.4" cy="580.7" r="3.5"/><circle cx="558.4" cy="569.3" r="3.5"/><circle cx="533.7" cy="683.4" r="3.5"/><circle cx="448.4" cy="514.9" r="3.5"/><circle cx="656.7" cy="678.8" r="3.5"/><circle cx="595.8" cy="573.8" r="3.5"/><circle cx="628.7" cy="586.9" r="3.5"/><circle cx="558.2" cy="521" r="3.5"/><circle cx="484.2" cy="678.8" r="3.5"/><circle cx="466.7" cy="504.9" r="3.5"/><circle cx="607.7" cy="517.2" r="3.5"/><circle cx="483.7" cy="578.4" r="3.5"/><circle cx="526.1" cy="619" r="3.5"/><circle cx="557.3" cy="662.7" r="3.5"/><circle cx="565.5" cy="576.1" r="3.5"/><circle cx="627.4" cy="510.3" r="3.5"/><circle cx="514" cy="616.7" r="3.5"/><circle cx="448.4" cy="586.9" r="3.5"/><circle cx="539.4" cy="628.2" r="3.5"/><circle cx="529.8" cy="584.6" r="3.5"/><circle cx="509" cy="525.6" r="3.5"/><circle cx="595.2" cy="568.5" r="3.5"/><circle cx="562.8" cy="639" r="3.5"/><circle cx="522.5" cy="645.1" r="3.5"/><circle cx="564.2" cy="671.1" r="3.5"/><circle cx="551.7" cy="619.8" r="3.5"/><circle cx="502.6" cy="636.7" r="3.5"/><circle cx="495.5" cy="645.9" r="3.5"/><circle cx="502.6" cy="585.3" r="3.5"/><circle cx="646.7" cy="626.7" r="3.5"/><circle cx="592.2" cy="545.5" r="3.5"/><circle cx="634.6" cy="504.9" r="3.5"/><circle cx="448.4" cy="615.2" r="3.5"/><circle cx="612.9" cy="644.3" r="3.5"/><circle cx="606.4" cy="681.9" r="3.5"/><circle cx="475.9" cy="573.1" r="3.5"/><circle cx="462.4" cy="565.4" r="3.5"/><circle cx="566.1" cy="641.3" r="3.5"/><circle cx="498" cy="519.5" r="3.5"/><circle cx="644.6" cy="675" r="3.5"/><circle cx="636" cy="595.3" r="3.5"/><circle cx="565.4" cy="529.4" r="3.5"/><circle cx="629.7" cy="626.7" r="3.5"/><circle cx="448.4" cy="552.4" r="3.5"/><circle cx="654.1" cy="625.2" r="3.5"/><circle cx="618.4" cy="596.1" r="3.5"/><circle cx="501.3" cy="657.3" r="3.5"/><circle cx="586.6" cy="635.9" r="3.5"/><circle cx="569.8" cy="511.8" r="3.5"/><circle cx="624.4" cy="683.4" r="3.5"/><circle cx="485.2" cy="540.9" r="3.5"/><circle cx="624.5" cy="528.7" r="3.5"/><circle cx="504.2" cy="549.3" r="3.5"/><circle cx="540.8" cy="568.5" r="3.5"/><circle cx="593.1" cy="520.2" r="3.5"/><circle cx="600.7" cy="654.3" r="3.5"/><circle cx="525.7" cy="611.4" r="3.5"/><circle cx="591.8" cy="560.8" r="3.5"/><circle cx="623.5" cy="635.9" r="3.5"/><circle cx="650.8" cy="605.3" r="3.5"/><circle cx="612.8" cy="517.2" r="3.5"/><circle cx="648.7" cy="551.6" r="3.5"/><circle cx="606.8" cy="586.9" r="3.5"/><circle cx="626.8" cy="571.5" r="3.5"/><circle cx="654.2" cy="621.3" r="3.5"/><circle cx="568.3" cy="663.5" r="3.5"/><circle cx="459.2" cy="546.3" r="3.5"/><circle cx="458" cy="627.5" r="3.5"/><circle cx="581" cy="631.3" r="3.5"/><circle cx="599.1" cy="554.7" r="3.5"/><circle cx="639.3" cy="618.3" r="3.5"/><circle cx="643.5" cy="624.4" r="3.5"/><circle cx="470.1" cy="584.6" r="3.5"/><circle cx="567.1" cy="570" r="3.5"/><circle cx="571.4" cy="679.6" r="3.5"/><circle cx="547.8" cy="612.9" r="3.5"/><circle cx="480.5" cy="544" r="3.5"/><circle cx="539.5" cy="519.5" r="3.5"/><circle cx="591.5" cy="525.6" r="3.5"/><circle cx="616.1" cy="499.5" r="3.5"/><circle cx="497" cy="582.3" r="3.5"/><circle cx="574.4" cy="499.5" r="3.5"/><circle cx="655.1" cy="650.4" r="3.5"/><circle cx="542.3" cy="517.2" r="3.5"/><circle cx="454.9" cy="537.8" r="3.5"/><circle cx="617.2" cy="606.8" r="3.5"/><circle cx="609.8" cy="558.5" r="3.5"/><circle cx="551.6" cy="526.4" r="3.5"/><circle cx="448.4" cy="591.5" r="3.5"/><circle cx="525" cy="515.6" r="3.5"/><circle cx="457.8" cy="662.7" r="3.5"/><circle cx="531.2" cy="544.7" r="3.5"/><circle cx="568.1" cy="590.7" r="3.5"/><circle cx="448.4" cy="661.2" r="3.5"/><circle cx="602.2" cy="631.3" r="3.5"/><circle cx="598" cy="657.3" r="3.5"/><circle cx="513.5" cy="610.6" r="3.5"/><circle cx="655.3" cy="558.5" r="3.5"/><circle cx="653.3" cy="674.2" r="3.5"/><circle cx="629.6" cy="672.7" r="3.5"/><circle cx="590.9" cy="553.9" r="3.5"/><circle cx="516.1" cy="499.5" r="3.5"/><circle cx="606.7" cy="514.9" r="3.5"/><circle cx="650.5" cy="530.2" r="3.5"/><circle cx="619.3" cy="495.7" r="3.5"/><circle cx="531.1" cy="631.3" r="3.5"/><circle cx="651.9" cy="521.8" r="3.5"/><circle cx="518.4" cy="500.3" r="3.5"/><circle cx="649.5" cy="643.6" r="3.5"/><circle cx="448.4" cy="539.4" r="3.5"/><circle cx="519.4" cy="517.2" r="3.5"/><circle cx="517.1" cy="606" r="3.5"/><circle cx="490.1" cy="501.8" r="3.5"/><circle cx="565.5" cy="596.8" r="3.5"/><circle cx="597.2" cy="529.4" r="3.5"/><circle cx="627.3" cy="600.7" r="3.5"/><circle cx="557" cy="634.4" r="3.5"/><circle cx="504.5" cy="658.1" r="3.5"/><circle cx="556.6" cy="654.3" r="3.5"/><circle cx="448.4" cy="518.7" r="3.5"/><circle cx="458.3" cy="624.4" r="3.5"/><circle cx="579.6" cy="597.6" r="3.5"/><circle cx="587.6" cy="508.7" r="3.5"/><circle cx="572.1" cy="534.8" r="3.5"/><circle cx="625.9" cy="508.7" r="3.5"/><circle cx="492.3" cy="563.9" r="3.5"/><circle cx="635.2" cy="549.3" r="3.5"/><circle cx="631" cy="659.6" r="3.5"/><circle cx="539.7" cy="570.8" r="3.5"/><circle cx="573.7" cy="518.7" r="3.5"/><circle cx="520.7" cy="543.2" r="3.5"/><circle cx="459.9" cy="627.5" r="3.5"/><circle cx="646.9" cy="635.9" r="3.5"/><circle cx="528.1" cy="630.5" r="3.5"/><circle cx="615.6" cy="534" r="3.5"/><circle cx="636.7" cy="497.2" r="3.5"/><circle cx="489.4" cy="620.6" r="3.5"/><circle cx="472.2" cy="612.1" r="3.5"/><circle cx="544.4" cy="576.1" r="3.5"/><circle cx="533.5" cy="665" r="3.5"/><circle cx="462.6" cy="602.2" r="3.5"/><circle cx="576.1" cy="615.2" r="3.5"/><circle cx="456.2" cy="573.1" r="3.5"/><circle cx="529.9" cy="668.1" r="3.5"/><circle cx="489.5" cy="562.4" r="3.5"/><circle cx="525.5" cy="517.2" r="3.5"/><circle cx="515.8" cy="685.7" r="3.5"/><circle cx="604.3" cy="607.6" r="3.5"/><circle cx="465.7" cy="557.8" r="3.5"/><circle cx="542.5" cy="539.4" r="3.5"/><circle cx="489.9" cy="645.9" r="3.5"/><circle cx="448.4" cy="661.9" r="3.5"/><circle cx="638.6" cy="658.1" r="3.5"/><circle cx="519.5" cy="503.4" r="3.5"/><circle cx="457.4" cy="606.8" r="3.5"/><circle cx="617.2" cy="671.1" r="3.5"/><circle cx="475.3" cy="661.9" r="3.5"/><circle cx="504.3" cy="681.1" r="3.5"/><circle cx="542.8" cy="609.8" r="3.5"/><circle cx="645.6" cy="600.7" r="3.5"/><circle cx="473.6" cy="646.6" r="3.5"/><circle cx="598.7" cy="683.4" r="3.5"/><circle cx="454.2" cy="587.6" r="3.5"/><circle cx="634.8" cy="502.6" r="3.5"/><circle cx="649.5" cy="517.9" r="3.5"/><circle cx="554.7" cy="607.6" r="3.5"/><circle cx="562.7" cy="623.6" r="3.5"/><circle cx="610.6" cy="553.2" r="3.5"/><circle cx="596.2" cy="661.2" r="3.5"/><circle cx="548.8" cy="519.5" r="3.5"/><circle cx="576.6" cy="552.4" r="3.5"/><circle cx="580.3" cy="661.9" r="3.5"/><circle cx="528.6" cy="550.9" r="3.5"/><circle cx="498.2" cy="589.9" r="3.5"/><circle cx="448.4" cy="622.1" r="3.5"/><circle cx="656" cy="547" r="3.5"/><circle cx="648.8" cy="543.2" r="3.5"/><circle cx="516.6" cy="635.9" r="3.5"/><circle cx="634" cy="535.5" r="3.5"/><circle cx="625.5" cy="580" r="3.5"/><circle cx="518" cy="645.9" r="3.5"/><circle cx="507.8" cy="563.1" r="3.5"/><circle cx="616.9" cy="625.2" r="3.5"/><circle cx="500.8" cy="538.6" r="3.5"/><circle cx="471.9" cy="553.9" r="3.5"/><circle cx="480.2" cy="510.3" r="3.5"/><circle cx="571.8" cy="609.1" r="3.5"/><circle cx="636.8" cy="500.3" r="3.5"/><circle cx="515.9" cy="658.9" r="3.5"/><circle cx="485.2" cy="599.9" r="3.5"/><circle cx="516.8" cy="502.6" r="3.5"/><circle cx="504.7" cy="502.6" r="3.5"/><circle cx="516.2" cy="561.6" r="3.5"/><circle cx="640.5" cy="544" r="3.5"/><circle cx="635.3" cy="587.6" r="3.5"/><circle cx="519.1" cy="583.8" r="3.5"/><circle cx="626" cy="537.1" r="3.5"/><circle cx="629.3" cy="546.3" r="3.5"/><circle cx="491.7" cy="537.8" r="3.5"/><circle cx="560.9" cy="675.7" r="3.5"/><circle cx="498.7" cy="570.8" r="3.5"/><circle cx="528.4" cy="672.7" r="3.5"/><circle cx="486.9" cy="662.7" r="3.5"/><circle cx="642.5" cy="612.1" r="3.5"/><circle cx="549.4" cy="596.1" r="3.5"/><circle cx="608.2" cy="519.5" r="3.5"/><circle cx="558" cy="684.9" r="3.5"/><circle cx="622.8" cy="590.7" r="3.5"/><circle cx="602.1" cy="600.7" r="3.5"/><circle cx="461.8" cy="675" r="3.5"/><circle cx="596.8" cy="556.2" r="3.5"/><circle cx="470" cy="682.6" r="3.5"/><circle cx="503.9" cy="655" r="3.5"/><circle cx="531.7" cy="683.4" r="3.5"/><circle cx="448.4" cy="676.5" r="3.5"/><circle cx="576.5" cy="531.7" r="3.5"/><circle cx="478.5" cy="563.1" r="3.5"/><circle cx="482.9" cy="516.4" r="3.5"/><circle cx="496" cy="563.9" r="3.5"/><circle cx="616.6" cy="681.1" r="3.5"/><circle cx="520.3" cy="627.5" r="3.5"/><circle cx="643.7" cy="531.7" r="3.5"/><circle cx="477.1" cy="529.4" r="3.5"/><circle cx="477.6" cy="590.7" r="3.5"/><circle cx="495.6" cy="527.9" r="3.5"/><circle cx="586.1" cy="593.8" r="3.5"/><circle cx="585.5" cy="520.2" r="3.5"/><circle cx="577.6" cy="495.7" r="3.5"/><circle cx="597.5" cy="632.8" r="3.5"/><circle cx="586.2" cy="508" r="3.5"/><circle cx="489.3" cy="580" r="3.5"/><circle cx="622.2" cy="587.6" r="3.5"/><circle cx="617.9" cy="569.3" r="3.5"/><circle cx="448.4" cy="527.1" r="3.5"/><circle cx="483.3" cy="523.3" r="3.5"/><circle cx="650.7" cy="671.9" r="3.5"/><circle cx="486.4" cy="508" r="3.5"/><circle cx="468.5" cy="550.9" r="3.5"/><circle cx="513.2" cy="522.5" r="3.5"/><circle cx="540.2" cy="619" r="3.5"/><circle cx="651.5" cy="516.4" r="3.5"/><circle cx="516.8" cy="524.1" r="3.5"/><circle cx="562.5" cy="608.3" r="3.5"/><circle cx="466.6" cy="684.2" r="3.5"/><circle cx="567.7" cy="678" r="3.5"/><circle cx="575.4" cy="538.6" r="3.5"/><circle cx="511.2" cy="668.8" r="3.5"/><circle cx="600.9" cy="630.5" r="3.5"/><circle cx="605" cy="683.4" r="3.5"/><circle cx="572.7" cy="537.1" r="3.5"/><circle cx="503.3" cy="662.7" r="3.5"/><circle cx="639.9" cy="567.7" r="3.5"/><circle cx="607.5" cy="524.8" r="3.5"/><circle cx="655.9" cy="632.1" r="3.5"/><circle cx="596.6" cy="500.3" r="3.5"/><circle cx="555.5" cy="621.3" r="3.5"/><circle cx="491.6" cy="652" r="3.5"/><circle cx="554" cy="527.1" r="3.5"/><circle cx="448.4" cy="636.7" r="3.5"/><circle cx="542.6" cy="612.9" r="3.5"/><circle cx="640.2" cy="656.6" r="3.5"/><circle cx="639.7" cy="550.1" r="3.5"/><circle cx="595" cy="615.2" r="3.5"/><circle cx="647.4" cy="668.1" r="3.5"/><circle cx="518.9" cy="640.5" r="3.5"/><circle cx="586.3" cy="671.1" r="3.5"/><circle cx="613.3" cy="534.8" r="3.5"/><circle cx="642" cy="661.2" r="3.5"/><circle cx="615.2" cy="509.5" r="3.5"/><circle cx="590.4" cy="545.5" r="3.5"/><circle cx="487.4" cy="618.3" r="3.5"/><circle cx="529.5" cy="574.6" r="3.5"/><circle cx="584.8" cy="521" r="3.5"/><circle cx="464.9" cy="671.1" r="3.5"/><circle cx="448.4" cy="505.7" r="3.5"/><circle cx="494.9" cy="629.8" r="3.5"/><circle cx="448.4" cy="590.7" r="3.5"/><circle cx="627.1" cy="505.7" r="3.5"/><circle cx="540" cy="600.7" r="3.5"/><circle cx="517.5" cy="560.8" r="3.5"/><circle cx="559.9" cy="628.2" r="3.5"/><circle cx="600.8" cy="602.2" r="3.5"/><circle cx="630.1" cy="672.7" r="3.5"/><circle cx="657.2" cy="551.6" r="3.5"/><circle cx="563.5" cy="627.5" r="3.5"/><circle cx="448.4" cy="584.6" r="3.5"/><circle cx="476.2" cy="661.9" r="3.5"/><circle cx="625.7" cy="656.6" r="3.5"/><circle cx="489.1" cy="527.9" r="3.5"/><circle cx="567.2" cy="676.5" r="3.5"/><circle cx="454.3" cy="550.1" r="3.5"/><circle cx="577.7" cy="589.2" r="3.5"/><circle cx="552" cy="597.6" r="3.5"/><circle cx="576.4" cy="652.7" r="3.5"/><circle cx="448.4" cy="653.5" r="3.5"/><circle cx="448.4" cy="619.8" r="3.5"/><circle cx="510.6" cy="672.7" r="3.5"/><circle cx="474.9" cy="655" r="3.5"/><circle cx="496.4" cy="680.3" r="3.5"/><circle cx="542.5" cy="632.8" r="3.5"/><circle cx="502.4" cy="573.8" r="3.5"/><circle cx="597.1" cy="618.3" r="3.5"/><circle cx="537.2" cy="673.4" r="3.5"/><circle cx="545.5" cy="547" r="3.5"/><circle cx="595.9" cy="582.3" r="3.5"/><circle cx="609.2" cy="517.9" r="3.5"/><circle cx="566.8" cy="569.3" r="3.5"/><circle cx="552.7" cy="518.7" r="3.5"/><circle cx="646.1" cy="626.7" r="3.5"/><circle cx="483.6" cy="585.3" r="3.5"/><circle cx="652.5" cy="603" r="3.5"/><circle cx="655.1" cy="635.1" r="3.5"/><circle cx="603.5" cy="645.1" r="3.5"/><circle cx="530.3" cy="538.6" r="3.5"/><circle cx="591.3" cy="542.4" r="3.5"/><circle cx="522.7" cy="636.7" r="3.5"/><circle cx="448.4" cy="547" r="3.5"/><circle cx="598.1" cy="614.4" r="3.5"/><circle cx="507.9" cy="631.3" r="3.5"/><circle cx="537.2" cy="665.8" r="3.5"/><circle cx="512.7" cy="573.8" r="3.5"/><circle cx="543.1" cy="655.8" r="3.5"/><circle cx="557.4" cy="606" r="3.5"/><circle cx="575.7" cy="549.3" r="3.5"/><circle cx="465.1" cy="570.8" r="3.5"/><circle cx="545.1" cy="648.9" r="3.5"/><circle cx="490.5" cy="498.8" r="3.5"/><circle cx="456.7" cy="546.3" r="3.5"/><circle cx="575.3" cy="556.2" r="3.5"/><circle cx="578.1" cy="530.2" r="3.5"/><circle cx="516.1" cy="650.4" r="3.5"/><circle cx="448.4" cy="623.6" r="3.5"/><circle cx="474.3" cy="648.9" r="3.5"/><circle cx="467" cy="629.8" r="3.5"/><circle cx="501.3" cy="499.5" r="3.5"/><circle cx="471.2" cy="544.7" r="3.5"/><circle cx="632.2" cy="527.1" r="3.5"/><circle cx="526.3" cy="580" r="3.5"/><circle cx="560.6" cy="512.6" r="3.5"/><circle cx="527.8" cy="495.7" r="3.5"/><circle cx="620.5" cy="557" r="3.5"/><circle cx="484.9" cy="659.6" r="3.5"/><circle cx="608.3" cy="643.6" r="3.5"/><circle cx="459.5" cy="641.3" r="3.5"/><circle cx="635.9" cy="615.2" r="3.5"/><circle cx="654" cy="673.4" r="3.5"/><circle cx="555.3" cy="605.3" r="3.5"/><circle cx="575" cy="685.7" r="3.5"/><circle cx="628.7" cy="606.8" r="3.5"/><circle cx="494.7" cy="539.4" r="3.5"/><circle cx="538.7" cy="522.5" r="3.5"/><circle cx="608.5" cy="510.3" r="3.5"/><circle cx="488.8" cy="639" r="3.5"/><circle cx="606" cy="612.9" r="3.5"/><circle cx="570.1" cy="637.4" r="3.5"/><circle cx="477.3" cy="648.9" r="3.5"/><circle cx="448.4" cy="583.8" r="3.5"/><circle cx="527.3" cy="629" r="3.5"/><circle cx="526.5" cy="506.4" r="3.5"/><circle cx="649.3" cy="518.7" r="3.5"/><circle cx="526.7" cy="580.7" r="3.5"/><circle cx="448.4" cy="592.2" r="3.5"/><circle cx="651.1" cy="657.3" r="3.5"/><circle cx="483.1" cy="640.5" r="3.5"/><circle cx="645.9" cy="633.6" r="3.5"/><circle cx="575.1" cy="508" r="3.5"/><circle cx="495.9" cy="565.4" r="3.5"/><circle cx="642.6" cy="652" r="3.5"/><circle cx="455" cy="522.5" r="3.5"/><circle cx="483.8" cy="535.5" r="3.5"/><circle cx="620.9" cy="631.3" r="3.5"/><circle cx="557.8" cy="524.8" r="3.5"/><circle cx="527.6" cy="518.7" r="3.5"/><circle cx="634.4" cy="518.7" r="3.5"/><circle cx="483.2" cy="664.2" r="3.5"/><circle cx="651" cy="671.1" r="3.5"/><circle cx="468.6" cy="615.2" r="3.5"/><circle cx="599.3" cy="531" r="3.5"/><circle cx="531.9" cy="531" r="3.5"/><circle cx="507.6" cy="681.9" r="3.5"/><circle cx="656.6" cy="580.7" r="3.5"/><circle cx="550.3" cy="498" r="3.5"/><circle cx="561.7" cy="593.8" r="3.5"/><circle cx="570" cy="498.8" r="3.5"/><circle cx="459.3" cy="499.5" r="3.5"/><circle cx="641.9" cy="496.5" r="3.5"/><circle cx="603.1" cy="535.5" r="3.5"/><circle cx="496.8" cy="589.2" r="3.5"/><circle cx="556.3" cy="567.7" r="3.5"/><circle cx="633.7" cy="648.1" r="3.5"/><circle cx="475.6" cy="518.7" r="3.5"/><circle cx="563.1" cy="578.4" r="3.5"/><circle cx="602.1" cy="610.6" r="3.5"/><circle cx="500.5" cy="683.4" r="3.5"/><circle cx="478.6" cy="629.8" r="3.5"/><circle cx="653.4" cy="534" r="3.5"/><circle cx="545.4" cy="615.2" r="3.5"/><circle cx="611.3" cy="624.4" r="3.5"/><circle cx="580.1" cy="521.8" r="3.5"/><circle cx="485.3" cy="514.9" r="3.5"/><circle cx="474.1" cy="668.8" r="3.5"/><circle cx="593.8" cy="574.6" r="3.5"/><circle cx="456.8" cy="560.8" r="3.5"/><circle cx="571.4" cy="498" r="3.5"/><circle cx="471.7" cy="555.5" r="3.5"/><circle cx="514.6" cy="632.1" r="3.5"/><circle cx="448.4" cy="546.3" r="3.5"/><circle cx="463.7" cy="622.9" r="3.5"/><circle cx="516.3" cy="603.7" r="3.5"/><circle cx="448.4" cy="578.4" r="3.5"/><circle cx="552.8" cy="589.2" r="3.5"/><circle cx="466.1" cy="539.4" r="3.5"/><circle cx="534.4" cy="518.7" r="3.5"/><circle cx="594.2" cy="509.5" r="3.5"/><circle cx="462.4" cy="588.4" r="3.5"/><circle cx="469.7" cy="607.6" r="3.5"/><circle cx="630.1" cy="591.5" r="3.5"/><circle cx="589.2" cy="514.9" r="3.5"/><circle cx="622.9" cy="573.8" r="3.5"/><circle cx="480" cy="532.5" r="3.5"/><circle cx="459.1" cy="548.6" r="3.5"/><circle cx="595.8" cy="650.4" r="3.5"/><circle cx="521.1" cy="614.4" r="3.5"/><circle cx="458.8" cy="630.5" r="3.5"/><circle cx="496.9" cy="642.8" r="3.5"/><circle cx="601.4" cy="664.2" r="3.5"/><circle cx="643.6" cy="552.4" r="3.5"/><circle cx="448.4" cy="590.7" r="3.5"/><circle cx="553.5" cy="601.4" r="3.5"/><circle cx="608" cy="580.7" r="3.5"/><circle cx="541" cy="537.1" r="3.5"/><circle cx="593.7" cy="578.4" r="3.5"/><circle cx="462.7" cy="516.4" r="3.5"/><circle cx="512.2" cy="547" r="3.5"/><circle cx="488.7" cy="665" r="3.5"/><circle cx="570.2" cy="647.4" r="3.5"/><circle cx="567" cy="581.5" r="3.5"/><circle cx="619.9" cy="633.6" r="3.5"/><circle cx="498.3" cy="638.2" r="3.5"/><circle cx="614.6" cy="589.2" r="3.5"/><circle cx="517.6" cy="498.8" r="3.5"/><circle cx="514.2" cy="647.4" r="3.5"/><circle cx="554.8" cy="671.1" r="3.5"/><circle cx="567.4" cy="590.7" r="3.5"/><circle cx="633.8" cy="527.1" r="3.5"/><circle cx="628.6" cy="657.3" r="3.5"/><circle cx="543.9" cy="610.6" r="3.5"/><circle cx="559.2" cy="524.8" r="3.5"/><circle cx="540.2" cy="610.6" r="3.5"/><circle cx="623.1" cy="591.5" r="3.5"/><circle cx="618.5" cy="639" r="3.5"/><circle cx="573.5" cy="602.2" r="3.5"/><circle cx="476.4" cy="514.9" r="3.5"/><circle cx="533.9" cy="595.3" r="3.5"/><circle cx="457.8" cy="523.3" r="3.5"/><circle cx="656.4" cy="632.8" r="3.5"/><circle cx="542.1" cy="604.5" r="3.5"/><circle cx="544.2" cy="674.2" r="3.5"/><circle cx="517" cy="574.6" r="3.5"/><circle cx="561" cy="631.3" r="3.5"/><circle cx="594.8" cy="551.6" r="3.5"/><circle cx="643.1" cy="683.4" r="3.5"/><circle cx="524.4" cy="588.4" r="3.5"/><circle cx="539.5" cy="506.4" r="3.5"/><circle cx="487.9" cy="675" r="3.5"/><circle cx="499.6" cy="498.8" r="3.5"/><circle cx="542.1" cy="553.9" r="3.5"/><circle cx="502" cy="676.5" r="3.5"/><circle cx="527.2" cy="576.9" r="3.5"/><circle cx="525.9" cy="576.9" r="3.5"/><circle cx="512.9" cy="495.7" r="3.5"/><circle cx="483.8" cy="567.7" r="3.5"/><circle cx="526.9" cy="606" r="3.5"/><circle cx="621.2" cy="532.5" r="3.5"/><circle cx="460.8" cy="497.2" r="3.5"/><circle cx="524.3" cy="532.5" r="3.5"/><circle cx="479" cy="511" r="3.5"/><circle cx="621.5" cy="613.7" r="3.5"/><circle cx="599.4" cy="514.1" r="3.5"/><circle cx="477.6" cy="655" r="3.5"/><circle cx="590.2" cy="675.7" r="3.5"/><circle cx="494" cy="514.1" r="3.5"/><circle cx="448.4" cy="678.8" r="3.5"/><circle cx="583.5" cy="679.6" r="3.5"/><circle cx="563.9" cy="606" r="3.5"/><circle cx="472" cy="624.4" r="3.5"/><circle cx="500" cy="617.5" r="3.5"/><circle cx="448.4" cy="506.4" r="3.5"/><circle cx="585.1" cy="580.7" r="3.5"/><circle cx="610.3" cy="590.7" r="3.5"/><circle cx="571.8" cy="559.3" r="3.5"/><circle cx="654.1" cy="663.5" r="3.5"/><circle cx="470.7" cy="675.7" r="3.5"/><circle cx="523.9" cy="630.5" r="3.5"/><circle cx="622.2" cy="671.9" r="3.5"/><circle cx="643.9" cy="639.7" r="3.5"/><circle cx="526" cy="578.4" r="3.5"/><circle cx="564.9" cy="499.5" r="3.5"/><circle cx="652.1" cy="657.3" r="3.5"/><circle cx="651.2" cy="588.4" r="3.5"/><circle cx="641.6" cy="559.3" r="3.5"/><circle cx="584.5" cy="614.4" r="3.5"/><circle cx="448.4" cy="569.3" r="3.5"/><circle cx="617.6" cy="612.9" r="3.5"/><circle cx="543.1" cy="576.1" r="3.5"/><circle cx="617.1" cy="535.5" r="3.5"/><circle cx="570.1" cy="550.1" r="3.5"/><circle cx="545.1" cy="589.2" r="3.5"/><circle cx="577" cy="538.6" r="3.5"/><circle cx="533.6" cy="542.4" r="3.5"/><circle cx="615.5" cy="580.7" r="3.5"/><circle cx="594.5" cy="570.8" r="3.5"/><circle cx="448.4" cy="639" r="3.5"/><circle cx="468.3" cy="616.7" r="3.5"/><circle cx="587.3" cy="665" r="3.5"/><circle cx="526.4" cy="565.4" r="3.5"/><circle cx="562" cy="545.5" r="3.5"/><circle cx="448.4" cy="583" r="3.5"/><circle cx="593.4" cy="683.4" r="3.5"/><circle cx="547.3" cy="660.4" r="3.5"/><circle cx="448.4" cy="670.4" r="3.5"/><circle cx="546.6" cy="593" r="3.5"/><circle cx="588.6" cy="506.4" r="3.5"/><circle cx="648.6" cy="593.8" r="3.5"/><circle cx="483.9" cy="603.7" r="3.5"/><circle cx="503.5" cy="534.8" r="3.5"/><circle cx="579.7" cy="524.8" r="3.5"/><circle cx="463.2" cy="506.4" r="3.5"/><circle cx="552.2" cy="621.3" r="3.5"/><circle cx="495" cy="564.7" r="3.5"/><circle cx="540.9" cy="503.4" r="3.5"/><circle cx="448.4" cy="599.9" r="3.5"/><circle cx="522.4" cy="511.8" r="3.5"/><circle cx="641.9" cy="555.5" r="3.5"/><circle cx="595.5" cy="547.8" r="3.5"/><circle cx="512.2" cy="538.6" r="3.5"/><circle cx="560.4" cy="566.2" r="3.5"/><circle cx="531" cy="619.8" r="3.5"/><circle cx="520.4" cy="554.7" r="3.5"/><circle cx="497.9" cy="590.7" r="3.5"/><circle cx="567.5" cy="620.6" r="3.5"/><circle cx="577.1" cy="651.2" r="3.5"/><circle cx="448.4" cy="535.5" r="3.5"/><circle cx="563.2" cy="629.8" r="3.5"/><circle cx="543.3" cy="537.8" r="3.5"/><circle cx="589.4" cy="557.8" r="3.5"/><circle cx="600.8" cy="610.6" r="3.5"/><circle cx="550.4" cy="606" r="3.5"/><circle cx="631.1" cy="676.5" r="3.5"/><circle cx="580" cy="524.8" r="3.5"/><circle cx="531.5" cy="581.5" r="3.5"/><circle cx="607.6" cy="671.1" r="3.5"/><circle cx="478.6" cy="669.6" r="3.5"/><circle cx="487.5" cy="633.6" r="3.5"/><circle cx="488.6" cy="521.8" r="3.5"/><circle cx="514.7" cy="632.1" r="3.5"/><circle cx="578.6" cy="593.8" r="3.5"/><circle cx="625.2" cy="571.5" r="3.5"/><circle cx="460" cy="518.7" r="3.5"/><circle cx="511.9" cy="567" r="3.5"/><circle cx="463.4" cy="670.4" r="3.5"/><circle cx="629.2" cy="617.5" r="3.5"/><circle cx="525.6" cy="617.5" r="3.5"/><circle cx="602.4" cy="620.6" r="3.5"/><circle cx="547.6" cy="641.3" r="3.5"/><circle cx="636" cy="579.2" r="3.5"/><circle cx="537.9" cy="606" r="3.5"/><circle cx="460.7" cy="592.2" r="3.5"/><circle cx="460.2" cy="531" r="3.5"/><circle cx="549.7" cy="524.8" r="3.5"/><circle cx="545.6" cy="617.5" r="3.5"/><circle cx="645.4" cy="650.4" r="3.5"/><circle cx="546.2" cy="675" r="3.5"/><circle cx="448.4" cy="525.6" r="3.5"/><circle cx="561.1" cy="629.8" r="3.5"/><circle cx="557.9" cy="625.9" r="3.5"/><circle cx="584.7" cy="509.5" r="3.5"/><circle cx="466" cy="509.5" r="3.5"/><circle cx="635.8" cy="680.3" r="3.5"/><circle cx="569.5" cy="681.9" r="3.5"/><circle cx="448.4" cy="646.6" r="3.5"/><circle cx="576.1" cy="645.9" r="3.5"/><circle cx="522.3" cy="575.4" r="3.5"/><circle cx="476.6" cy="540.1" r="3.5"/><circle cx="614.1" cy="648.9" r="3.5"/><circle cx="525" cy="557" r="3.5"/><circle cx="546.8" cy="511" r="3.5"/><circle cx="554.5" cy="587.6" r="3.5"/><circle cx="643.2" cy="643.6" r="3.5"/><circle cx="474" cy="576.1" r="3.5"/><circle cx="480.9" cy="531" r="3.5"/><circle cx="448.4" cy="643.6" r="3.5"/><circle cx="580.7" cy="680.3" r="3.5"/><circle cx="542.2" cy="579.2" r="3.5"/><circle cx="509.7" cy="684.9" r="3.5"/><circle cx="508.8" cy="579.2" r="3.5"/><circle cx="487.8" cy="632.8" r="3.5"/><circle cx="618.1" cy="665" r="3.5"/><circle cx="559" cy="659.6" r="3.5"/><circle cx="657.1" cy="652" r="3.5"/><circle cx="548.6" cy="520.2" r="3.5"/><circle cx="566.9" cy="615.2" r="3.5"/><circle cx="636.2" cy="511" r="3.5"/><circle cx="642.1" cy="504.9" r="3.5"/><circle cx="541.8" cy="519.5" r="3.5"/><circle cx="448.4" cy="528.7" r="3.5"/><circle cx="479.9" cy="650.4" r="3.5"/><circle cx="567.5" cy="501.8" r="3.5"/><circle cx="508.5" cy="503.4" r="3.5"/><circle cx="588.3" cy="551.6" r="3.5"/><circle cx="612" cy="571.5" r="3.5"/><circle cx="580.2" cy="615.2" r="3.5"/><circle cx="621.1" cy="534.8" r="3.5"/><circle cx="581.7" cy="514.9" r="3.5"/><circle cx="656.4" cy="550.1" r="3.5"/><circle cx="455.6" cy="566.2" r="3.5"/><circle cx="480.9" cy="635.1" r="3.5"/><circle cx="448.4" cy="654.3" r="3.5"/><circle cx="513.8" cy="532.5" r="3.5"/><circle cx="478.4" cy="671.9" r="3.5"/><circle cx="490.2" cy="653.5" r="3.5"/><circle cx="636.9" cy="637.4" r="3.5"/><circle cx="582.3" cy="674.2" r="3.5"/><circle cx="530.3" cy="589.9" r="3.5"/><circle cx="531.4" cy="527.1" r="3.5"/><circle cx="552.3" cy="542.4" r="3.5"/><circle cx="518.8" cy="650.4" r="3.5"/><circle cx="573.4" cy="633.6" r="3.5"/><circle cx="617.5" cy="625.2" r="3.5"/><circle cx="638.3" cy="515.6" r="3.5"/><circle cx="481.9" cy="501.8" r="3.5"/><circle cx="645.9" cy="642.8" r="3.5"/><circle cx="549" cy="541.7" r="3.5"/><circle cx="623.5" cy="676.5" r="3.5"/><circle cx="644.2" cy="607.6" r="3.5"/><circle cx="555.1" cy="616" r="3.5"/><circle cx="470.2" cy="624.4" r="3.5"/><circle cx="466.5" cy="577.7" r="3.5"/><circle cx="601.1" cy="522.5" r="3.5"/><circle cx="482.6" cy="612.1" r="3.5"/><circle cx="580.4" cy="504.1" r="3.5"/><circle cx="454.6" cy="655.8" r="3.5"/><circle cx="642.7" cy="631.3" r="3.5"/><circle cx="573.2" cy="560.8" r="3.5"/><circle cx="553.1" cy="663.5" r="3.5"/><circle cx="535.6" cy="520.2" r="3.5"/><circle cx="507.1" cy="557.8" r="3.5"/><circle cx="495.3" cy="671.9" r="3.5"/><circle cx="534.7" cy="677.3" r="3.5"/><circle cx="574.1" cy="521" r="3.5"/><circle cx="486.3" cy="576.9" r="3.5"/><circle cx="510.9" cy="603" r="3.5"/><circle cx="648.4" cy="508.7" r="3.5"/><circle cx="528.5" cy="616" r="3.5"/><circle cx="645.5" cy="644.3" r="3.5"/><circle cx="625" cy="533.2" r="3.5"/><circle cx="624.7" cy="512.6" r="3.5"/><circle cx="589.6" cy="603.7" r="3.5"/><circle cx="506.2" cy="508" r="3.5"/><circle cx="505.9" cy="563.1" r="3.5"/><circle cx="589.9" cy="528.7" r="3.5"/><circle cx="577.7" cy="521.8" r="3.5"/><circle cx="635.1" cy="636.7" r="3.5"/><circle cx="560.6" cy="682.6" r="3.5"/><circle cx="502.3" cy="669.6" r="3.5"/><circle cx="588.5" cy="534.8" r="3.5"/><circle cx="519.8" cy="681.9" r="3.5"/><circle cx="623.9" cy="515.6" r="3.5"/><circle cx="517.3" cy="629.8" r="3.5"/><circle cx="561.6" cy="518.7" r="3.5"/><circle cx="549.6" cy="620.6" r="3.5"/><circle cx="454.5" cy="596.1" r="3.5"/><circle cx="587.1" cy="647.4" r="3.5"/><circle cx="594.4" cy="571.5" r="3.5"/><circle cx="558.7" cy="504.1" r="3.5"/><circle cx="650.6" cy="573.1" r="3.5"/><circle cx="521.9" cy="498" r="3.5"/><circle cx="476" cy="589.9" r="3.5"/><circle cx="641.7" cy="679.6" r="3.5"/><circle cx="583.8" cy="501.1" r="3.5"/><circle cx="566.6" cy="576.9" r="3.5"/><circle cx="551.2" cy="543.2" r="3.5"/><circle cx="606.6" cy="684.2" r="3.5"/><circle cx="502.3" cy="683.4" r="3.5"/><circle cx="485.9" cy="658.9" r="3.5"/><circle cx="572" cy="629" r="3.5"/><circle cx="556.9" cy="661.9" r="3.5"/><circle cx="656.9" cy="599.1" r="3.5"/><circle cx="485.7" cy="634.4" r="3.5"/><circle cx="523.2" cy="526.4" r="3.5"/><circle cx="578.2" cy="552.4" r="3.5"/><circle cx="508.2" cy="508" r="3.5"/><circle cx="614.3" cy="547" r="3.5"/><circle cx="641.6" cy="596.8" r="3.5"/><circle cx="642.9" cy="639" r="3.5"/><circle cx="603.9" cy="589.2" r="3.5"/><circle cx="605.7" cy="533.2" r="3.5"/><circle cx="637.3" cy="588.4" r="3.5"/><circle cx="464.5" cy="668.1" r="3.5"/><circle cx="601.7" cy="541.7" r="3.5"/><circle cx="550.2" cy="671.9" r="3.5"/><circle cx="549.5" cy="532.5" r="3.5"/><circle cx="652.7" cy="647.4" r="3.5"/><circle cx="581.9" cy="576.9" r="3.5"/><circle cx="624.8" cy="625.2" r="3.5"/><circle cx="479.9" cy="540.1" r="3.5"/><circle cx="653.1" cy="573.8" r="3.5"/><circle cx="603.7" cy="639.7" r="3.5"/><circle cx="647.3" cy="529.4" r="3.5"/><circle cx="448.4" cy="503.4" r="3.5"/><circle cx="524.6" cy="522.5" r="3.5"/><circle cx="460.6" cy="555.5" r="3.5"/><circle cx="648.9" cy="544" r="3.5"/><circle cx="536.7" cy="551.6" r="3.5"/><circle cx="624" cy="675" r="3.5"/><circle cx="637.7" cy="683.4" r="3.5"/><circle cx="499" cy="595.3" r="3.5"/><circle cx="518.5" cy="607.6" r="3.5"/><circle cx="570.8" cy="616" r="3.5"/><circle cx="448.4" cy="500.3" r="3.5"/><circle cx="573" cy="521.8" r="3.5"/><circle cx="560.2" cy="567.7" r="3.5"/><circle cx="524.8" cy="553.2" r="3.5"/><circle cx="522.6" cy="635.9" r="3.5"/><circle cx="650.1" cy="554.7" r="3.5"/><circle cx="499.3" cy="553.9" r="3.5"/><circle cx="489.2" cy="599.1" r="3.5"/><circle cx="575.9" cy="641.3" r="3.5"/><circle cx="501.2" cy="595.3" r="3.5"/><circle cx="457.7" cy="649.7" r="3.5"/><circle cx="550.9" cy="670.4" r="3.5"/><circle cx="534.9" cy="527.9" r="3.5"/><circle cx="603.4" cy="501.8" r="3.5"/><circle cx="583" cy="499.5" r="3.5"/><circle cx="614.9" cy="649.7" r="3.5"/><circle cx="556.5" cy="570.8" r="3.5"/><circle cx="492.1" cy="525.6" r="3.5"/><circle cx="545.9" cy="642.8" r="3.5"/><circle cx="544.6" cy="663.5" r="3.5"/><circle cx="618.8" cy="583.8" r="3.5"/><circle cx="521.3" cy="652.7" r="3.5"/><circle cx="585.3" cy="558.5" r="3.5"/><circle cx="615.2" cy="672.7" r="3.5"/><circle cx="491.8" cy="568.5" r="3.5"/><circle cx="589.7" cy="596.1" r="3.5"/><circle cx="457.1" cy="520.2" r="3.5"/><circle cx="477.8" cy="531" r="3.5"/><circle cx="613.9" cy="660.4" r="3.5"/><circle cx="649.1" cy="609.1" r="3.5"/><circle cx="530.9" cy="538.6" r="3.5"/><circle cx="448.4" cy="575.4" r="3.5"/><circle cx="537.5" cy="645.9" r="3.5"/><circle cx="551.4" cy="611.4" r="3.5"/><circle cx="640.7" cy="637.4" r="3.5"/><circle cx="496.6" cy="536.3" r="3.5"/><circle cx="647.6" cy="589.2" r="3.5"/><circle cx="465.4" cy="567" r="3.5"/><circle cx="599" cy="665.8" r="3.5"/><circle cx="506.4" cy="671.1" r="3.5"/><circle cx="621.3" cy="635.9" r="3.5"/><circle cx="488.8" cy="681.1" r="3.5"/><circle cx="448.4" cy="603" r="3.5"/><circle cx="491.1" cy="684.9" r="3.5"/><circle cx="529" cy="539.4" r="3.5"/><circle cx="594.3" cy="642" r="3.5"/><circle cx="469" cy="567" r="3.5"/><circle cx="615.1" cy="658.9" r="3.5"/><circle cx="654.6" cy="505.7" r="3.5"/><circle cx="488.1" cy="556.2" r="3.5"/><circle cx="493.6" cy="544" r="3.5"/><circle cx="563.4" cy="611.4" r="3.5"/><circle cx="466.7" cy="586.1" r="3.5"/><circle cx="478.9" cy="614.4" r="3.5"/><circle cx="608.4" cy="612.1" r="3.5"/><circle cx="646.9" cy="620.6" r="3.5"/><circle cx="480.8" cy="527.1" r="3.5"/><circle cx="448.4" cy="589.2" r="3.5"/><circle cx="560" cy="658.9" r="3.5"/><circle cx="633.7" cy="635.9" r="3.5"/><circle cx="448.4" cy="643.6" r="3.5"/><circle cx="607.2" cy="565.4" r="3.5"/><circle cx="496.7" cy="622.1" r="3.5"/><circle cx="492.4" cy="553.2" r="3.5"/><circle cx="602.7" cy="519.5" r="3.5"/><circle cx="550.7" cy="553.9" r="3.5"/><circle cx="493.1" cy="646.6" r="3.5"/><circle cx="471.1" cy="580" r="3.5"/><circle cx="606.2" cy="621.3" r="3.5"/><circle cx="556" cy="555.5" r="3.5"/><circle cx="448.4" cy="550.1" r="3.5"/><circle cx="615.7" cy="623.6" r="3.5"/><circle cx="589" cy="519.5" r="3.5"/><circle cx="472.1" cy="556.2" r="3.5"/><circle cx="508" cy="634.4" r="3.5"/><circle cx="519.3" cy="672.7" r="3.5"/><circle cx="640" cy="618.3" r="3.5"/><circle cx="565.2" cy="587.6" r="3.5"/><circle cx="546.1" cy="572.3" r="3.5"/><circle cx="499.6" cy="576.9" r="3.5"/><circle cx="610.1" cy="521" r="3.5"/><circle cx="587.9" cy="619.8" r="3.5"/><circle cx="656.2" cy="613.7" r="3.5"/><circle cx="551" cy="607.6" r="3.5"/><circle cx="631.5" cy="620.6" r="3.5"/><circle cx="456.5" cy="648.9" r="3.5"/><circle cx="588.9" cy="610.6" r="3.5"/><circle cx="454.9" cy="606.8" r="3.5"/><circle cx="448.4" cy="652.7" r="3.5"/><circle cx="513.1" cy="555.5" r="3.5"/><circle cx="516" cy="665.8" r="3.5"/><circle cx="612.3" cy="638.2" r="3.5"/><circle cx="456.5" cy="602.2" r="3.5"/><circle cx="536.4" cy="639.7" r="3.5"/><circle cx="653.9" cy="601.4" r="3.5"/><circle cx="609.3" cy="627.5" r="3.5"/><circle cx="481.2" cy="501.1" r="3.5"/><circle cx="497" cy="573.8" r="3.5"/><circle cx="548.2" cy="589.2" r="3.5"/><circle cx="508.2" cy="504.1" r="3.5"/><circle cx="473.7" cy="609.8" r="3.5"/><circle cx="578.3" cy="566.2" r="3.5"/><circle cx="520.9" cy="535.5" r="3.5"/><circle cx="626.4" cy="511" r="3.5"/><circle cx="640.9" cy="587.6" r="3.5"/><circle cx="587.2" cy="595.3" r="3.5"/><circle cx="524.7" cy="497.2" r="3.5"/><circle cx="486.1" cy="541.7" r="3.5"/><circle cx="628.1" cy="678" r="3.5"/><circle cx="499.3" cy="546.3" r="3.5"/><circle cx="636.3" cy="510.3" r="3.5"/><circle cx="650.5" cy="582.3" r="3.5"/><circle cx="448.4" cy="651.2" r="3.5"/><circle cx="516.9" cy="504.9" r="3.5"/><circle cx="473.2" cy="503.4" r="3.5"/><circle cx="487.5" cy="552.4" r="3.5"/><circle cx="522.4" cy="621.3" r="3.5"/><circle cx="600.2" cy="624.4" r="3.5"/><circle cx="468" cy="635.9" r="3.5"/><circle cx="582" cy="643.6" r="3.5"/><circle cx="588.4" cy="588.4" r="3.5"/><circle cx="614" cy="554.7" r="3.5"/><circle cx="455.7" cy="622.9" r="3.5"/><circle cx="639" cy="665" r="3.5"/><circle cx="584.1" cy="531" r="3.5"/><circle cx="544.4" cy="585.3" r="3.5"/><circle cx="526" cy="622.1" r="3.5"/><circle cx="649.4" cy="609.8" r="3.5"/><circle cx="563.3" cy="567.7" r="3.5"/><circle cx="469.6" cy="609.1" r="3.5"/><circle cx="576.9" cy="654.3" r="3.5"/><circle cx="545.3" cy="526.4" r="3.5"/><circle cx="483.2" cy="560.8" r="3.5"/><circle cx="474.9" cy="573.8" r="3.5"/><circle cx="487.1" cy="520.2" r="3.5"/><circle cx="626.1" cy="632.1" r="3.5"/><circle cx="500.7" cy="560.8" r="3.5"/><circle cx="484.3" cy="509.5" r="3.5"/><circle cx="615.3" cy="508" r="3.5"/><circle cx="612.6" cy="635.9" r="3.5"/><circle cx="558.9" cy="553.9" r="3.5"/><circle cx="603.8" cy="583" r="3.5"/><circle cx="568.8" cy="632.1" r="3.5"/><circle cx="497.5" cy="606" r="3.5"/><circle cx="448.4" cy="645.1" r="3.5"/><circle cx="601.8" cy="619.8" r="3.5"/><circle cx="630" cy="540.1" r="3.5"/><circle cx="626.3" cy="616" r="3.5"/><circle cx="529.3" cy="675" r="3.5"/><circle cx="475.6" cy="602.2" r="3.5"/><circle cx="523.4" cy="648.1" r="3.5"/><circle cx="448.4" cy="557.8" r="3.5"/><circle cx="492.8" cy="517.2" r="3.5"/><circle cx="613.4" cy="645.1" r="3.5"/><circle cx="570.9" cy="681.1" r="3.5"/><circle cx="642.9" cy="512.6" r="3.5"/><circle cx="582.6" cy="587.6" r="3.5"/><circle cx="539.3" cy="535.5" r="3.5"/><circle cx="611" cy="521" r="3.5"/><circle cx="474.7" cy="625.2" r="3.5"/><circle cx="552.7" cy="652.7" r="3.5"/><circle cx="553" cy="557.8" r="3.5"/><circle cx="513.1" cy="590.7" r="3.5"/><circle cx="589.6" cy="579.2" r="3.5"/><circle cx="570.4" cy="576.1" r="3.5"/><circle cx="649.8" cy="552.4" r="3.5"/><circle cx="624.1" cy="597.6" r="3.5"/><circle cx="515.7" cy="531.7" r="3.5"/><circle cx="624.5" cy="651.2" r="3.5"/><circle cx="534.2" cy="496.5" r="3.5"/><circle cx="467.7" cy="609.1" r="3.5"/><circle cx="571" cy="507.2" r="3.5"/><circle cx="621.6" cy="533.2" r="3.5"/><circle cx="572.4" cy="556.2" r="3.5"/><circle cx="563.5" cy="665.8" r="3.5"/><circle cx="634.5" cy="661.9" r="3.5"/><circle cx="471" cy="675" r="3.5"/><circle cx="574.3" cy="668.8" r="3.5"/><circle cx="618.7" cy="535.5" r="3.5"/><circle cx="646.8" cy="642.8" r="3.5"/><circle cx="550.1" cy="500.3" r="3.5"/><circle cx="491.5" cy="511.8" r="3.5"/><circle cx="503.8" cy="552.4" r="3.5"/><circle cx="541.6" cy="609.8" r="3.5"/><circle cx="510.5" cy="560.8" r="3.5"/><circle cx="465.7" cy="531.7" r="3.5"/><circle cx="511.1" cy="621.3" r="3.5"/><circle cx="641.3" cy="627.5" r="3.5"/><circle cx="473.3" cy="672.7" r="3.5"/><circle cx="607" cy="680.3" r="3.5"/><circle cx="468.7" cy="586.1" r="3.5"/><circle cx="527" cy="654.3" r="3.5"/><circle cx="554.6" cy="672.7" r="3.5"/><circle cx="650" cy="502.6" r="3.5"/><circle cx="479.4" cy="590.7" r="3.5"/><circle cx="513.6" cy="602.2" r="3.5"/><circle cx="617.4" cy="652.7" r="3.5"/><circle cx="619.9" cy="564.7" r="3.5"/><circle cx="632" cy="675.7" r="3.5"/><circle cx="544.7" cy="517.9" r="3.5"/><circle cx="490.8" cy="624.4" r="3.5"/><circle cx="613.9" cy="606.8" r="3.5"/><circle cx="617.8" cy="561.6" r="3.5"/><circle cx="475.9" cy="639.7" r="3.5"/><circle cx="654.4" cy="570.8" r="3.5"/><circle cx="558.6" cy="558.5" r="3.5"/><circle cx="636.5" cy="534.8" r="3.5"/><circle cx="632.4" cy="608.3" r="3.5"/><circle cx="566.5" cy="597.6" r="3.5"/><circle cx="448.4" cy="586.1" r="3.5"/><circle cx="505.2" cy="680.3" r="3.5"/><circle cx="650.2" cy="661.2" r="3.5"/><circle cx="615.9" cy="603.7" r="3.5"/><circle cx="560.7" cy="570.8" r="3.5"/><circle cx="473" cy="658.1" r="3.5"/><circle cx="655.6" cy="540.9" r="3.5"/><circle cx="612.1" cy="675.7" r="3.5"/><circle cx="632.6" cy="544" r="3.5"/><circle cx="481.3" cy="519.5" r="3.5"/><circle cx="485.8" cy="539.4" r="3.5"/><circle cx="569.3" cy="513.3" r="3.5"/><circle cx="568.2" cy="593.8" r="3.5"/><circle cx="534.8" cy="673.4" r="3.5"/><circle cx="656.1" cy="661.9" r="3.5"/><circle cx="568.5" cy="503.4" r="3.5"/><circle cx="565.1" cy="500.3" r="3.5"/><circle cx="482.7" cy="632.1" r="3.5"/><circle cx="535.9" cy="537.8" r="3.5"/><circle cx="639.1" cy="557" r="3.5"/><circle cx="504.9" cy="501.1" r="3.5"/><circle cx="654.5" cy="520.2" r="3.5"/><circle cx="643.8" cy="525.6" r="3.5"/><circle cx="448.4" cy="661.2" r="3.5"/><circle cx="448.4" cy="675.7" r="3.5"/><circle cx="554.3" cy="625.9" r="3.5"/><circle cx="594.1" cy="682.6" r="3.5"/><circle cx="448.4" cy="641.3" r="3.5"/><circle cx="617.9" cy="605.3" r="3.5"/><circle cx="553.3" cy="515.6" r="3.5"/><circle cx="503.6" cy="630.5" r="3.5"/><circle cx="578.4" cy="514.9" r="3.5"/><circle cx="616.4" cy="495.7" r="3.5"/><circle cx="514.5" cy="561.6" r="3.5"/><circle cx="594.6" cy="639.7" r="3.5"/><circle cx="655.4" cy="645.1" r="3.5"/><circle cx="622" cy="608.3" r="3.5"/><circle cx="629.1" cy="511" r="3.5"/><circle cx="593.3" cy="539.4" r="3.5"/><circle cx="557.5" cy="557.8" r="3.5"/><circle cx="513.4" cy="542.4" r="3.5"/><circle cx="523.1" cy="532.5" r="3.5"/><circle cx="549.4" cy="664.2" r="3.5"/><circle cx="576.4" cy="543.2" r="3.5"/><circle cx="448.4" cy="569.3" r="3.5"/><circle cx="486" cy="599.1" r="3.5"/><circle cx="573.6" cy="661.9" r="3.5"/><circle cx="649" cy="642.8" r="3.5"/><circle cx="553.6" cy="571.5" r="3.5"/><circle cx="558.6" cy="669.6" r="3.5"/><circle cx="597.6" cy="522.5" r="3.5"/><circle cx="559.9" cy="645.1" r="3.5"/><circle cx="553.7" cy="594.5" r="3.5"/><circle cx="500.6" cy="524.1" r="3.5"/><circle cx="461.9" cy="599.9" r="3.5"/><circle cx="631.6" cy="607.6" r="3.5"/><circle cx="448.4" cy="538.6" r="3.5"/><circle cx="573.1" cy="587.6" r="3.5"/><circle cx="606.1" cy="644.3" r="3.5"/><circle cx="640.8" cy="680.3" r="3.5"/><circle cx="519.7" cy="517.2" r="3.5"/><circle cx="460.8" cy="520.2" r="3.5"/><circle cx="506.3" cy="627.5" r="3.5"/><circle cx="499.7" cy="530.2" r="3.5"/><circle cx="650.8" cy="578.4" r="3.5"/><circle cx="448.4" cy="546.3" r="3.5"/><circle cx="470.9" cy="515.6" r="3.5"/><circle cx="456.2" cy="567.7" r="3.5"/><circle cx="501" cy="671.1" r="3.5"/><circle cx="448.4" cy="570.8" r="3.5"/><circle cx="454.8" cy="681.9" r="3.5"/><circle cx="584.4" cy="681.9" r="3.5"/><circle cx="547.9" cy="534.8" r="3.5"/><circle cx="464.8" cy="543.2" r="3.5"/><circle cx="532" cy="653.5" r="3.5"/><circle cx="568.7" cy="583" r="3.5"/><circle cx="571.6" cy="567.7" r="3.5"/><circle cx="590.5" cy="563.1" r="3.5"/><circle cx="606.5" cy="511" r="3.5"/><circle cx="556.6" cy="635.9" r="3.5"/><circle cx="494.2" cy="670.4" r="3.5"/><circle cx="621.4" cy="541.7" r="3.5"/><circle cx="634.3" cy="576.9" r="3.5"/><circle cx="480.1" cy="610.6" r="3.5"/><circle cx="578.7" cy="559.3" r="3.5"/><circle cx="514.8" cy="508.7" r="3.5"/><circle cx="641.8" cy="626.7" r="3.5"/><circle cx="621.2" cy="653.5" r="3.5"/><circle cx="602.4" cy="537.1" r="3.5"/><circle cx="559.1" cy="629" r="3.5"/><circle cx="564" cy="625.9" r="3.5"/><circle cx="600.5" cy="642" r="3.5"/><circle cx="638.6" cy="506.4" r="3.5"/><circle cx="614.3" cy="622.9" r="3.5"/><circle cx="645.2" cy="649.7" r="3.5"/><circle cx="496" cy="576.9" r="3.5"/><circle cx="552.9" cy="683.4" r="3.5"/><circle cx="506.6" cy="642.8" r="3.5"/><circle cx="609.3" cy="671.9" r="3.5"/><circle cx="532.3" cy="642" r="3.5"/><circle cx="459.1" cy="645.9" r="3.5"/><circle cx="493.7" cy="662.7" r="3.5"/><circle cx="535.5" cy="527.1" r="3.5"/><circle cx="619.4" cy="552.4" r="3.5"/><circle cx="524.9" cy="527.1" r="3.5"/><circle cx="480.5" cy="497.2" r="3.5"/><circle cx="621.7" cy="553.9" r="3.5"/><circle cx="526.2" cy="558.5" r="3.5"/><circle cx="630.4" cy="531.7" r="3.5"/><circle cx="523" cy="612.1" r="3.5"/><circle cx="509.1" cy="662.7" r="3.5"/><circle cx="595.5" cy="604.5" r="3.5"/><circle cx="602.8" cy="653.5" r="3.5"/><circle cx="656.8" cy="658.9" r="3.5"/><circle cx="548.4" cy="517.2" r="3.5"/><circle cx="545.2" cy="501.1" r="3.5"/><circle cx="590.6" cy="649.7" r="3.5"/><circle cx="525.8" cy="557" r="3.5"/><circle cx="563.2" cy="665.8" r="3.5"/><circle cx="497.3" cy="662.7" r="3.5"/><circle cx="518.4" cy="539.4" r="3.5"/><circle cx="594.2" cy="528.7" r="3.5"/><circle cx="653" cy="603" r="3.5"/><circle cx="555.4" cy="638.2" r="3.5"/><circle cx="598.1" cy="661.9" r="3.5"/><circle cx="448.4" cy="518.7" r="3.5"/><circle cx="463.6" cy="640.5" r="3.5"/><circle cx="575.4" cy="595.3" r="3.5"/><circle cx="608.9" cy="502.6" r="3.5"/><circle cx="498.5" cy="548.6" r="3.5"/><circle cx="646.2" cy="580" r="3.5"/><circle cx="523.7" cy="521" r="3.5"/><circle cx="638.4" cy="498" r="3.5"/><circle cx="541.3" cy="547.8" r="3.5"/><circle cx="478.7" cy="635.9" r="3.5"/><circle cx="448.4" cy="524.1" r="3.5"/><circle cx="492.4" cy="616" r="3.5"/><circle cx="503.4" cy="657.3" r="3.5"/><circle cx="461.6" cy="527.1" r="3.5"/><circle cx="461" cy="599.1" r="3.5"/><circle cx="540.3" cy="669.6" r="3.5"/><circle cx="508.9" cy="579.2" r="3.5"/><circle cx="610" cy="614.4" r="3.5"/><circle cx="593.5" cy="639.7" r="3.5"/><circle cx="469.8" cy="683.4" r="3.5"/><circle cx="562.6" cy="496.5" r="3.5"/><circle cx="521.7" cy="617.5" r="3.5"/><circle cx="619.7" cy="507.2" r="3.5"/><circle cx="530.2" cy="600.7" r="3.5"/><circle cx="586.8" cy="658.9" r="3.5"/><circle cx="511.6" cy="507.2" r="3.5"/><circle cx="491.4" cy="577.7" r="3.5"/><circle cx="502.8" cy="538.6" r="3.5"/><circle cx="448.4" cy="581.5" r="3.5"/><circle cx="464.1" cy="624.4" r="3.5"/><circle cx="589.3" cy="606.8" r="3.5"/><circle cx="572.8" cy="570" r="3.5"/><circle cx="448.4" cy="560.1" r="3.5"/><circle cx="578.8" cy="521.8" r="3.5"/><circle cx="454.5" cy="586.9" r="3.5"/><circle cx="653.4" cy="504.9" r="3.5"/><circle cx="503.1" cy="683.4" r="3.5"/><circle cx="624.8" cy="645.9" r="3.5"/><circle cx="488.2" cy="643.6" r="3.5"/><circle cx="648.8" cy="608.3" r="3.5"/><circle cx="471.8" cy="546.3" r="3.5"/><circle cx="485.4" cy="560.1" r="3.5"/><circle cx="565.3" cy="514.1" r="3.5"/><circle cx="570.5" cy="634.4" r="3.5"/><circle cx="620.2" cy="639.7" r="3.5"/><circle cx="490.4" cy="590.7" r="3.5"/><circle cx="487.6" cy="606" r="3.5"/><circle cx="590.7" cy="562.4" r="3.5"/><circle cx="465.4" cy="654.3" r="3.5"/><circle cx="579.4" cy="631.3" r="3.5"/><circle cx="471.4" cy="598.4" r="3.5"/><circle cx="623.6" cy="514.1" r="3.5"/><circle cx="474.4" cy="642.8" r="3.5"/><circle cx="591.5" cy="601.4" r="3.5"/><circle cx="465.8" cy="577.7" r="3.5"/><circle cx="611.7" cy="580.7" r="3.5"/><circle cx="647.5" cy="591.5" r="3.5"/><circle cx="496.1" cy="569.3" r="3.5"/><circle cx="633.3" cy="560.8" r="3.5"/><circle cx="520.2" cy="655.8" r="3.5"/><circle cx="459.5" cy="612.9" r="3.5"/><circle cx="535.2" cy="658.9" r="3.5"/><circle cx="621.9" cy="645.9" r="3.5"/><circle cx="502.2" cy="601.4" r="3.5"/><circle cx="586" cy="580.7" r="3.5"/><circle cx="489.1" cy="593" r="3.5"/><circle cx="582.5" cy="554.7" r="3.5"/><circle cx="622.6" cy="517.9" r="3.5"/><circle cx="576.7" cy="574.6" r="3.5"/><circle cx="652.8" cy="602.2" r="3.5"/><circle cx="524.1" cy="569.3" r="3.5"/><circle cx="550" cy="608.3" r="3.5"/><circle cx="448.4" cy="638.2" r="3.5"/><circle cx="653.8" cy="621.3" r="3.5"/><circle cx="513.5" cy="527.1" r="3.5"/><circle cx="493.1" cy="572.3" r="3.5"/><circle cx="469.7" cy="525.6" r="3.5"/><circle cx="457.5" cy="601.4" r="3.5"/><circle cx="448.4" cy="634.4" r="3.5"/><circle cx="490.7" cy="629.8" r="3.5"/><circle cx="638" cy="629" r="3.5"/><circle cx="618.5" cy="635.9" r="3.5"/><circle cx="448.4" cy="546.3" r="3.5"/><circle cx="554.2" cy="536.3" r="3.5"/><circle cx="547.2" cy="537.8" r="3.5"/><circle cx="642.8" cy="557.8" r="3.5"/><circle cx="636.1" cy="508" r="3.5"/><circle cx="557" cy="649.7" r="3.5"/><circle cx="448.4" cy="581.5" r="3.5"/><circle cx="473.6" cy="646.6" r="3.5"/><circle cx="558.3" cy="586.9" r="3.5"/><circle cx="568.6" cy="622.1" r="3.5"/><circle cx="484.6" cy="633.6" r="3.5"/><circle cx="639.5" cy="566.2" r="3.5"/><circle cx="598.5" cy="528.7" r="3.5"/><circle cx="536.8" cy="537.1" r="3.5"/><circle cx="481.2" cy="658.1" r="3.5"/><circle cx="474.2" cy="592.2" r="3.5"/><circle cx="623.2" cy="563.9" r="3.5"/><circle cx="488" cy="669.6" r="3.5"/><circle cx="476.3" cy="528.7" r="3.5"/><circle cx="565" cy="665" r="3.5"/><circle cx="566.7" cy="596.8" r="3.5"/><circle cx="494.3" cy="665.8" r="3.5"/><circle cx="493.4" cy="595.3" r="3.5"/><circle cx="542.9" cy="642.8" r="3.5"/><circle cx="557.2" cy="683.4" r="3.5"/><circle cx="520.7" cy="611.4" r="3.5"/><circle cx="604" cy="607.6" r="3.5"/><circle cx="529.7" cy="661.9" r="3.5"/><circle cx="484.5" cy="529.4" r="3.5"/><circle cx="651.3" cy="557.8" r="3.5"/><circle cx="567.9" cy="569.3" r="3.5"/><circle cx="551.4" cy="632.1" r="3.5"/><circle cx="486.8" cy="508" r="3.5"/><circle cx="480.4" cy="508.7" r="3.5"/><circle cx="614.2" cy="603" r="3.5"/><circle cx="482.8" cy="685.7" r="3.5"/><circle cx="601.9" cy="673.4" r="3.5"/><circle cx="611.1" cy="540.1" r="3.5"/><circle cx="503.6" cy="562.4" r="3.5"/><circle cx="626.6" cy="677.3" r="3.5"/><circle cx="566" cy="594.5" r="3.5"/><circle cx="544.5" cy="561.6" r="3.5"/><circle cx="592.1" cy="684.2" r="3.5"/><circle cx="448.4" cy="579.2" r="3.5"/><circle cx="606.9" cy="544" r="3.5"/><circle cx="507.2" cy="660.4" r="3.5"/><circle cx="465.6" cy="611.4" r="3.5"/><circle cx="448.4" cy="673.4" r="3.5"/><circle cx="550.7" cy="661.2" r="3.5"/><circle cx="641.3" cy="618.3" r="3.5"/><circle cx="645.5" cy="677.3" r="3.5"/><circle cx="474.6" cy="670.4" r="3.5"/><circle cx="501.9" cy="591.5" r="3.5"/><circle cx="657.3" cy="537.8" r="3.5"/><circle cx="484.4" cy="556.2" r="3.5"/><circle cx="484.8" cy="608.3" r="3.5"/><circle cx="613.8" cy="507.2" r="3.5"/><circle cx="504.4" cy="662.7" r="3.5"/><circle cx="585.3" cy="567.7" r="3.5"/><circle cx="637.1" cy="630.5" r="3.5"/><circle cx="515.4" cy="645.9" r="3.5"/><circle cx="462.5" cy="629.8" r="3.5"/><circle cx="574.7" cy="625.9" r="3.5"/><circle cx="613.3" cy="621.3" r="3.5"/><circle cx="448.4" cy="536.3" r="3.5"/><circle cx="596.5" cy="549.3" r="3.5"/><circle cx="481.9" cy="681.1" r="3.5"/><circle cx="528.3" cy="525.6" r="3.5"/><circle cx="497.3" cy="535.5" r="3.5"/><circle cx="632" cy="627.5" r="3.5"/><circle cx="448.4" cy="625.9" r="3.5"/><circle cx="559.8" cy="624.4" r="3.5"/><circle cx="526.7" cy="671.9" r="3.5"/><circle cx="468.4" cy="637.4" r="3.5"/><circle cx="506.1" cy="622.9" r="3.5"/><circle cx="505.9" cy="521" r="3.5"/><circle cx="448.4" cy="545.5" r="3.5"/><circle cx="448.4" cy="523.3" r="3.5"/><circle cx="648.1" cy="509.5" r="3.5"/><circle cx="588" cy="645.9" r="3.5"/><circle cx="533.8" cy="503.4" r="3.5"/><circle cx="505.8" cy="586.9" r="3.5"/><circle cx="501.6" cy="574.6" r="3.5"/><circle cx="566.3" cy="634.4" r="3.5"/><circle cx="618" cy="652.7" r="3.5"/><circle cx="510.8" cy="549.3" r="3.5"/><circle cx="576.3" cy="532.5" r="3.5"/><circle cx="633" cy="557" r="3.5"/><circle cx="601.2" cy="511" r="3.5"/><circle cx="507.7" cy="563.9" r="3.5"/><circle cx="522.1" cy="629" r="3.5"/><circle cx="458.5" cy="587.6" r="3.5"/><circle cx="651.8" cy="606.8" r="3.5"/><circle cx="597.4" cy="550.9" r="3.5"/><circle cx="497.2" cy="681.1" r="3.5"/><circle cx="502" cy="645.1" r="3.5"/><circle cx="491.7" cy="610.6" r="3.5"/><circle cx="507.4" cy="666.5" r="3.5"/><circle cx="597.9" cy="525.6" r="3.5"/><circle cx="448.4" cy="638.2" r="3.5"/><circle cx="620.8" cy="547" r="3.5"/><circle cx="531.9" cy="506.4" r="3.5"/><circle cx="652.6" cy="558.5" r="3.5"/><circle cx="562.4" cy="605.3" r="3.5"/><circle cx="646.2" cy="622.1" r="3.5"/><circle cx="492" cy="649.7" r="3.5"/><circle cx="607.1" cy="568.5" r="3.5"/><circle cx="636.7" cy="599.9" r="3.5"/><circle cx="495.7" cy="527.9" r="3.5"/><circle cx="473.5" cy="501.1" r="3.5"/><circle cx="458.5" cy="585.3" r="3.5"/><circle cx="649.7" cy="683.4" r="3.5"/><circle cx="535.5" cy="664.2" r="3.5"/><circle cx="603.7" cy="570" r="3.5"/><circle cx="638.1" cy="498" r="3.5"/><circle cx="536.1" cy="583" r="3.5"/><circle cx="535.4" cy="520.2" r="3.5"/><circle cx="541.7" cy="668.1" r="3.5"/><circle cx="638.2" cy="614.4" r="3.5"/><circle cx="562.5" cy="539.4" r="3.5"/><circle cx="585.6" cy="544" r="3.5"/><circle cx="548.7" cy="616.7" r="3.5"/><circle cx="572.9" cy="652.7" r="3.5"/><circle cx="494" cy="544.7" r="3.5"/><circle cx="601.5" cy="555.5" r="3.5"/><circle cx="487.3" cy="607.6" r="3.5"/><circle cx="539.8" cy="642.8" r="3.5"/><circle cx="535.9" cy="616.7" r="3.5"/><circle cx="612" cy="599.9" r="3.5"/><circle cx="638.9" cy="611.4" r="3.5"/><circle cx="448.4" cy="544.7" r="3.5"/><circle cx="631.3" cy="561.6" r="3.5"/><circle cx="581" cy="644.3" r="3.5"/><circle cx="482.1" cy="595.3" r="3.5"/><circle cx="629.5" cy="611.4" r="3.5"/><circle cx="616.2" cy="563.1" r="3.5"/><circle cx="554.1" cy="624.4" r="3.5"/><circle cx="537.5" cy="612.1" r="3.5"/><circle cx="590.9" cy="679.6" r="3.5"/><circle cx="459.7" cy="682.6" r="3.5"/><circle cx="639.8" cy="578.4" r="3.5"/><circle cx="576" cy="611.4" r="3.5"/><circle cx="617" cy="540.1" r="3.5"/><circle cx="557.6" cy="570.8" r="3.5"/><circle cx="580.9" cy="670.4" r="3.5"/><circle cx="507.5" cy="616" r="3.5"/><circle cx="484" cy="603.7" r="3.5"/><circle cx="582.4" cy="652" r="3.5"/><circle cx="602.7" cy="676.5" r="3.5"/><circle cx="610.5" cy="593.8" r="3.5"/><circle cx="550.8" cy="599.9" r="3.5"/><circle cx="523.4" cy="678.8" r="3.5"/><circle cx="472.3" cy="638.2" r="3.5"/><circle cx="564.4" cy="503.4" r="3.5"/><circle cx="539.2" cy="635.1" r="3.5"/><circle cx="520.5" cy="510.3" r="3.5"/><circle cx="467.8" cy="567.7" r="3.5"/><circle cx="610.3" cy="604.5" r="3.5"/><circle cx="522.2" cy="596.8" r="3.5"/><circle cx="561.2" cy="678" r="3.5"/><circle cx="448.4" cy="665" r="3.5"/><circle cx="470.8" cy="508" r="3.5"/><circle cx="633.5" cy="591.5" r="3.5"/><circle cx="566.8" cy="665.8" r="3.5"/><circle cx="587.4" cy="640.5" r="3.5"/><circle cx="629" cy="654.3" r="3.5"/><circle cx="595.4" cy="572.3" r="3.5"/><circle cx="529.3" cy="576.1" r="3.5"/><circle cx="657.1" cy="612.9" r="3.5"/><circle cx="462.1" cy="621.3" r="3.5"/><circle cx="518.2" cy="578.4" r="3.5"/><circle cx="494.4" cy="525.6" r="3.5"/><circle cx="509.9" cy="649.7" r="3.5"/><circle cx="448.4" cy="621.3" r="3.5"/><circle cx="572.2" cy="531.7" r="3.5"/><circle cx="600.1" cy="577.7" r="3.5"/><circle cx="655.7" cy="546.3" r="3.5"/><circle cx="656.1" cy="647.4" r="3.5"/><circle cx="505" cy="619.8" r="3.5"/><circle cx="608" cy="543.2" r="3.5"/><circle cx="628.5" cy="635.9" r="3.5"/><circle cx="640.3" cy="552.4" r="3.5"/><circle cx="520.8" cy="520.2" r="3.5"/><circle cx="512.6" cy="498" r="3.5"/><circle cx="550.4" cy="633.6" r="3.5"/><circle cx="545" cy="523.3" r="3.5"/><circle cx="538.9" cy="616.7" r="3.5"/><circle cx="448.4" cy="575.4" r="3.5"/><circle cx="471" cy="506.4" r="3.5"/><circle cx="500.2" cy="577.7" r="3.5"/><circle cx="560.5" cy="600.7" r="3.5"/><circle cx="459.8" cy="560.8" r="3.5"/><circle cx="515.8" cy="643.6" r="3.5"/><circle cx="616.3" cy="641.3" r="3.5"/><circle cx="448.4" cy="581.5" r="3.5"/><circle cx="535.2" cy="583" r="3.5"/><circle cx="448.4" cy="670.4" r="3.5"/><circle cx="581.7" cy="511.8" r="3.5"/><circle cx="639.9" cy="562.4" r="3.5"/><circle cx="582.2" cy="575.4" r="3.5"/><circle cx="463.1" cy="561.6" r="3.5"/><circle cx="599.1" cy="570" r="3.5"/><circle cx="470.6" cy="676.5" r="3.5"/><circle cx="518.1" cy="564.7" r="3.5"/><circle cx="477.9" cy="657.3" r="3.5"/><circle cx="460.5" cy="505.7" r="3.5"/><circle cx="448.4" cy="670.4" r="3.5"/><circle cx="530.5" cy="625.2" r="3.5"/><circle cx="581.8" cy="516.4" r="3.5"/><circle cx="654.4" cy="661.2" r="3.5"/><circle cx="590.5" cy="632.1" r="3.5"/><circle cx="511.8" cy="523.3" r="3.5"/><circle cx="598.4" cy="556.2" r="3.5"/><circle cx="605.4" cy="657.3" r="3.5"/><circle cx="538.8" cy="619.8" r="3.5"/><circle cx="591" cy="599.9" r="3.5"/><circle cx="536.9" cy="650.4" r="3.5"/><circle cx="536.2" cy="609.1" r="3.5"/><circle cx="583.1" cy="674.2" r="3.5"/><circle cx="616" cy="587.6" r="3.5"/><circle cx="504.1" cy="592.2" r="3.5"/><circle cx="625.1" cy="534.8" r="3.5"/><circle cx="644.2" cy="516.4" r="3.5"/><circle cx="476.6" cy="608.3" r="3.5"/><circle cx="575.7" cy="531.7" r="3.5"/><circle cx="650.3" cy="523.3" r="3.5"/><circle cx="460.5" cy="654.3" r="3.5"/><circle cx="521.8" cy="583" r="3.5"/><circle cx="448.4" cy="536.3" r="3.5"/><circle cx="457.9" cy="648.1" r="3.5"/><circle cx="643.4" cy="504.9" r="3.5"/><circle cx="470" cy="675.7" r="3.5"/><circle cx="657" cy="648.9" r="3.5"/><circle cx="475.5" cy="622.9" r="3.5"/><circle cx="573.9" cy="508" r="3.5"/><circle cx="587.7" cy="545.5" r="3.5"/><circle cx="569.7" cy="583" r="3.5"/><circle cx="481" cy="571.5" r="3.5"/><circle cx="471.7" cy="680.3" r="3.5"/><circle cx="578.9" cy="652.7" r="3.5"/><circle cx="543.4" cy="582.3" r="3.5"/><circle cx="630.8" cy="676.5" r="3.5"/><circle cx="582.6" cy="537.8" r="3.5"/><circle cx="593.9" cy="546.3" r="3.5"/><circle cx="573.7" cy="549.3" r="3.5"/><circle cx="572.1" cy="624.4" r="3.5"/><circle cx="504.6" cy="549.3" r="3.5"/><circle cx="569.6" cy="638.2" r="3.5"/><circle cx="538.8" cy="514.9" r="3.5"/><circle cx="448.4" cy="509.5" r="3.5"/><circle cx="632.7" cy="583" r="3.5"/><circle cx="529" cy="634.4" r="3.5"/><circle cx="584.9" cy="509.5" r="3.5"/><circle cx="516.4" cy="531.7" r="3.5"/><circle cx="561.9" cy="636.7" r="3.5"/><circle cx="643.9" cy="632.8" r="3.5"/><circle cx="509.8" cy="529.4" r="3.5"/><circle cx="474" cy="665.8" r="3.5"/><circle cx="456.4" cy="572.3" r="3.5"/><circle cx="536.5" cy="551.6" r="3.5"/><circle cx="574.7" cy="509.5" r="3.5"/><circle cx="490.3" cy="567.7" r="3.5"/><circle cx="565.8" cy="573.8" r="3.5"/><circle cx="448.4" cy="532.5" r="3.5"/><circle cx="607.4" cy="540.9" r="3.5"/><circle cx="506.6" cy="644.3" r="3.5"/><circle cx="598.3" cy="569.3" r="3.5"/><circle cx="539.6" cy="634.4" r="3.5"/><circle cx="481.4" cy="652.7" r="3.5"/><circle cx="582.1" cy="544" r="3.5"/><circle cx="527.3" cy="666.5" r="3.5"/><circle cx="628.2" cy="527.1" r="3.5"/><circle cx="448.4" cy="599.9" r="3.5"/><circle cx="475.4" cy="608.3" r="3.5"/><circle cx="646.6" cy="558.5" r="3.5"/><circle cx="609.4" cy="542.4" r="3.5"/><circle cx="456.8" cy="606.8" r="3.5"/><circle cx="467" cy="523.3" r="3.5"/><circle cx="647.2" cy="665" r="3.5"/><circle cx="533" cy="684.2" r="3.5"/><circle cx="549.8" cy="669.6" r="3.5"/><circle cx="497.4" cy="595.3" r="3.5"/><circle cx="627.8" cy="570.8" r="3.5"/><circle cx="568" cy="564.7" r="3.5"/><circle cx="530" cy="609.1" r="3.5"/><circle cx="490.1" cy="539.4" r="3.5"/><circle cx="470.4" cy="661.2" r="3.5"/><circle cx="625.1" cy="496.5" r="3.5"/><circle cx="494.5" cy="527.1" r="3.5"/><circle cx="629.8" cy="527.9" r="3.5"/><circle cx="491" cy="675.7" r="3.5"/><circle cx="586.7" cy="612.9" r="3.5"/><circle cx="592.9" cy="499.5" r="3.5"/><circle cx="559.6" cy="508.7" r="3.5"/><circle cx="592.6" cy="565.4" r="3.5"/><circle cx="479.6" cy="569.3" r="3.5"/><circle cx="461.5" cy="523.3" r="3.5"/><circle cx="564.1" cy="511" r="3.5"/><circle cx="599.7" cy="635.9" r="3.5"/><circle cx="448.4" cy="672.7" r="3.5"/><circle cx="520.4" cy="652" r="3.5"/><circle cx="477" cy="663.5" r="3.5"/><circle cx="481.5" cy="550.1" r="3.5"/><circle cx="571.2" cy="632.8" r="3.5"/><circle cx="487.7" cy="523.3" r="3.5"/><circle cx="628.4" cy="580" r="3.5"/><circle cx="588.1" cy="589.2" r="3.5"/><circle cx="448.4" cy="638.2" r="3.5"/><circle cx="574.5" cy="600.7" r="3.5"/><circle cx="485.1" cy="658.9" r="3.5"/><circle cx="448.4" cy="581.5" r="3.5"/><circle cx="628.4" cy="681.1" r="3.5"/><circle cx="577.4" cy="606.8" r="3.5"/><circle cx="605.9" cy="533.2" r="3.5"/><circle cx="620" cy="587.6" r="3.5"/><circle cx="608.3" cy="531.7" r="3.5"/><circle cx="573.4" cy="580.7" r="3.5"/><circle cx="551" cy="495.7" r="3.5"/><circle cx="625.3" cy="646.6" r="3.5"/><circle cx="527" cy="511" r="3.5"/><circle cx="622.8" cy="576.1" r="3.5"/><circle cx="505.5" cy="629.8" r="3.5"/><circle cx="538.5" cy="655.8" r="3.5"/><circle cx="505.2" cy="563.1" r="3.5"/><circle cx="627.1" cy="567.7" r="3.5"/><circle cx="553" cy="531" r="3.5"/><circle cx="485" cy="576.9" r="3.5"/><circle cx="652.5" cy="596.8" r="3.5"/><circle cx="479.7" cy="660.4" r="3.5"/><circle cx="552.3" cy="518.7" r="3.5"/><circle cx="542" cy="589.2" r="3.5"/><circle cx="471.5" cy="622.1" r="3.5"/><circle cx="543.8" cy="558.5" r="3.5"/><circle cx="543.2" cy="498" r="3.5"/><circle cx="525.1" cy="671.1" r="3.5"/><circle cx="555.2" cy="678.8" r="3.5"/><circle cx="575.5" cy="549.3" r="3.5"/><circle cx="523.8" cy="526.4" r="3.5"/><circle cx="502.7" cy="591.5" r="3.5"/><circle cx="515.1" cy="614.4" r="3.5"/><circle cx="602.5" cy="672.7" r="3.5"/><circle cx="611.9" cy="557.8" r="3.5"/><circle cx="490" cy="557" r="3.5"/><circle cx="515.6" cy="612.1" r="3.5"/><circle cx="479.8" cy="619.8" r="3.5"/><circle cx="468.9" cy="639" r="3.5"/><circle cx="569.1" cy="568.5" r="3.5"/><circle cx="513" cy="591.5" r="3.5"/><circle cx="469.2" cy="651.2" r="3.5"/><circle cx="515.5" cy="623.6" r="3.5"/><circle cx="448.4" cy="581.5" r="3.5"/><circle cx="495.7" cy="518.7" r="3.5"/><circle cx="584" cy="567.7" r="3.5"/><circle cx="494.8" cy="548.6" r="3.5"/><circle cx="653.2" cy="648.1" r="3.5"/><circle cx="645.8" cy="531" r="3.5"/><circle cx="574" cy="576.9" r="3.5"/><circle cx="655.8" cy="557.8" r="3.5"/><circle cx="464.7" cy="614.4" r="3.5"/><circle cx="457.5" cy="567" r="3.5"/><circle cx="507.3" cy="656.6" r="3.5"/><circle cx="631.2" cy="499.5" r="3.5"/><circle cx="599.2" cy="511" r="3.5"/><circle cx="489.8" cy="606" r="3.5"/><circle cx="475.3" cy="530.2" r="3.5"/><circle cx="454.7" cy="566.2" r="3.5"/><circle cx="545.8" cy="524.8" r="3.5"/><circle cx="610.7" cy="681.9" r="3.5"/><circle cx="588.8" cy="674.2" r="3.5"/><circle cx="555.6" cy="587.6" r="3.5"/><circle cx="611" cy="681.9" r="3.5"/><circle cx="620.2" cy="652.7" r="3.5"/><circle cx="489.7" cy="507.2" r="3.5"/><circle cx="628.8" cy="612.1" r="3.5"/><circle cx="496.2" cy="510.3" r="3.5"/><circle cx="584.6" cy="524.8" r="3.5"/><circle cx="584.3" cy="605.3" r="3.5"/><circle cx="577.3" cy="587.6" r="3.5"/><circle cx="492.5" cy="587.6" r="3.5"/><circle cx="602.9" cy="507.2" r="3.5"/><circle cx="462.8" cy="524.1" r="3.5"/><circle cx="482" cy="570" r="3.5"/><circle cx="519.1" cy="658.1" r="3.5"/><circle cx="561.3" cy="648.9" r="3.5"/><circle cx="577.4" cy="646.6" r="3.5"/><circle cx="596.1" cy="590.7" r="3.5"/><circle cx="547.4" cy="617.5" r="3.5"/><circle cx="617.3" cy="604.5" r="3.5"/><circle cx="573.8" cy="649.7" r="3.5"/><circle cx="643.2" cy="524.1" r="3.5"/><circle cx="506.5" cy="537.1" r="3.5"/><circle cx="638.3" cy="544.7" r="3.5"/><circle cx="508.9" cy="566.2" r="3.5"/><circle cx="625.4" cy="542.4" r="3.5"/><circle cx="551.8" cy="626.7" r="3.5"/><circle cx="482.4" cy="649.7" r="3.5"/><circle cx="448.4" cy="651.2" r="3.5"/><circle cx="460.9" cy="666.5" r="3.5"/><circle cx="619" cy="534" r="3.5"/><circle cx="643" cy="633.6" r="3.5"/><circle cx="523.5" cy="652" r="3.5"/><circle cx="651.7" cy="521.8" r="3.5"/><circle cx="570.6" cy="662.7" r="3.5"/><circle cx="645.1" cy="521" r="3.5"/><circle cx="619.1" cy="685.7" r="3.5"/><circle cx="478.8" cy="652" r="3.5"/><circle cx="586.9" cy="650.4" r="3.5"/><circle cx="465.5" cy="673.4" r="3.5"/><circle cx="464" cy="600.7" r="3.5"/><circle cx="568.9" cy="534.8" r="3.5"/><circle cx="448.4" cy="528.7" r="3.5"/><circle cx="516.5" cy="563.9" r="3.5"/><circle cx="626.2" cy="552.4" r="3.5"/><circle cx="520.1" cy="569.3" r="3.5"/><circle cx="523.6" cy="672.7" r="3.5"/><circle cx="477.2" cy="605.3" r="3.5"/><circle cx="554.9" cy="658.9" r="3.5"/><circle cx="632.5" cy="642.8" r="3.5"/><circle cx="486.5" cy="522.5" r="3.5"/><circle cx="554.3" cy="527.1" r="3.5"/><circle cx="652.3" cy="653.5" r="3.5"/><circle cx="468.7" cy="518.7" r="3.5"/><circle cx="583.3" cy="626.7" r="3.5"/><circle cx="514.5" cy="634.4" r="3.5"/><circle cx="516.4" cy="658.9" r="3.5"/><circle cx="519.4" cy="671.1" r="3.5"/><circle cx="530.8" cy="589.2" r="3.5"/><circle cx="631.8" cy="583" r="3.5"/><circle cx="644.7" cy="572.3" r="3.5"/><circle cx="448.4" cy="637.4" r="3.5"/><circle cx="650.2" cy="667.3" r="3.5"/><circle cx="472.6" cy="527.1" r="3.5"/><circle cx="620.5" cy="561.6" r="3.5"/><circle cx="635.4" cy="537.8" r="3.5"/><circle cx="461.4" cy="652" r="3.5"/><circle cx="634.9" cy="580" r="3.5"/><circle cx="500.6" cy="674.2" r="3.5"/><circle cx="631.9" cy="568.5" r="3.5"/><circle cx="479.1" cy="526.4" r="3.5"/><circle cx="601.4" cy="630.5" r="3.5"/><circle cx="641.5" cy="609.8" r="3.5"/><circle cx="584" cy="661.9" r="3.5"/><circle cx="508.5" cy="589.2" r="3.5"/><circle cx="647.5" cy="586.1" r="3.5"/><circle cx="584.3" cy="534.8" r="3.5"/><circle cx="458.6" cy="563.1" r="3.5"/><circle cx="448.4" cy="658.9" r="3.5"/><circle cx="546.7" cy="638.2" r="3.5"/><circle cx="553.8" cy="527.9" r="3.5"/><circle cx="615.6" cy="585.3" r="3.5"/><circle cx="535" cy="635.1" r="3.5"/><circle cx="457.3" cy="629.8" r="3.5"/><circle cx="550.6" cy="523.3" r="3.5"/><circle cx="475.7" cy="629.8" r="3.5"/><circle cx="532.5" cy="586.1" r="3.5"/><circle cx="514.3" cy="521.8" r="3.5"/><circle cx="552.5" cy="656.6" r="3.5"/><circle cx="631.7" cy="553.9" r="3.5"/><circle cx="656.7" cy="543.2" r="3.5"/><circle cx="455.3" cy="497.2" r="3.5"/><circle cx="508.1" cy="666.5" r="3.5"/><circle cx="537.6" cy="556.2" r="3.5"/><circle cx="580.5" cy="573.8" r="3.5"/><circle cx="448.4" cy="606.8" r="3.5"/><circle cx="508.7" cy="522.5" r="3.5"/><circle cx="517.2" cy="684.9" r="3.5"/><circle cx="566.2" cy="670.4" r="3.5"/><circle cx="461.7" cy="532.5" r="3.5"/><circle cx="612.4" cy="514.9" r="3.5"/><circle cx="468.8" cy="560.8" r="3.5"/><circle cx="601.7" cy="673.4" r="3.5"/><circle cx="536.9" cy="611.4" r="3.5"/><circle cx="616.7" cy="498.8" r="3.5"/><circle cx="463.7" cy="607.6" r="3.5"/><circle cx="597" cy="524.1" r="3.5"/><circle cx="579.2" cy="629" r="3.5"/><circle cx="644.9" cy="512.6" r="3.5"/><circle cx="618.6" cy="544" r="3.5"/><circle cx="507.9" cy="603" r="3.5"/><circle cx="540.7" cy="520.2" r="3.5"/><circle cx="624.3" cy="677.3" r="3.5"/><circle cx="606.4" cy="671.1" r="3.5"/><circle cx="576.2" cy="608.3" r="3.5"/><circle cx="463" cy="558.5" r="3.5"/><circle cx="587.9" cy="649.7" r="3.5"/><circle cx="458.4" cy="507.2" r="3.5"/><circle cx="460.4" cy="658.1" r="3.5"/><circle cx="539.8" cy="551.6" r="3.5"/><circle cx="644.6" cy="635.1" r="3.5"/><circle cx="597.7" cy="681.9" r="3.5"/><circle cx="579.3" cy="582.3" r="3.5"/><circle cx="448.4" cy="577.7" r="3.5"/><circle cx="497.8" cy="635.1" r="3.5"/><circle cx="487" cy="603" r="3.5"/><circle cx="547.1" cy="544.7" r="3.5"/><circle cx="497.7" cy="534" r="3.5"/><circle cx="555.7" cy="570" r="3.5"/><circle cx="624.1" cy="578.4" r="3.5"/><circle cx="604.7" cy="531" r="3.5"/><circle cx="513.3" cy="633.6" r="3.5"/><circle cx="455.5" cy="655.8" r="3.5"/><circle cx="644.1" cy="573.8" r="3.5"/><circle cx="448.4" cy="630.5" r="3.5"/><circle cx="530.1" cy="502.6" r="3.5"/><circle cx="619.5" cy="528.7" r="3.5"/><circle cx="534.6" cy="685.7" r="3.5"/><circle cx="463.5" cy="589.9" r="3.5"/><circle cx="584.2" cy="609.1" r="3.5"/><circle cx="539" cy="570.8" r="3.5"/><circle cx="497.7" cy="511.8" r="3.5"/><circle cx="564.3" cy="623.6" r="3.5"/><circle cx="617.5" cy="658.1" r="3.5"/><circle cx="541.4" cy="581.5" r="3.5"/><circle cx="456.6" cy="528.7" r="3.5"/><circle cx="498.6" cy="529.4" r="3.5"/><circle cx="592.8" cy="600.7" r="3.5"/><circle cx="630.2" cy="554.7" r="3.5"/><circle cx="509.9" cy="593" r="3.5"/><circle cx="541.8" cy="613.7" r="3.5"/><circle cx="471.6" cy="569.3" r="3.5"/><circle cx="500.4" cy="672.7" r="3.5"/><circle cx="626.7" cy="531.7" r="3.5"/><circle cx="635.7" cy="537.1" r="3.5"/><circle cx="592.5" cy="527.1" r="3.5"/><circle cx="654.7" cy="661.2" r="3.5"/><circle cx="601.1" cy="635.9" r="3.5"/><circle cx="562.2" cy="523.3" r="3.5"/><circle cx="478.3" cy="624.4" r="3.5"/><circle cx="448.4" cy="618.3" r="3.5"/><circle cx="635.7" cy="529.4" r="3.5"/><circle cx="637.5" cy="635.9" r="3.5"/><circle cx="655" cy="634.4" r="3.5"/><circle cx="458.1" cy="545.5" r="3.5"/><circle cx="618.3" cy="649.7" r="3.5"/><circle cx="530.6" cy="573.8" r="3.5"/><circle cx="521" cy="530.2" r="3.5"/><circle cx="468.4" cy="678" r="3.5"/><circle cx="458.7" cy="533.2" r="3.5"/><circle cx="592" cy="599.9" r="3.5"/><circle cx="527.1" cy="538.6" r="3.5"/><circle cx="609.9" cy="625.9" r="3.5"/><circle cx="448.4" cy="541.7" r="3.5"/><circle cx="463.4" cy="524.8" r="3.5"/><circle cx="456" cy="563.1" r="3.5"/><circle cx="503.9" cy="634.4" r="3.5"/><circle cx="455.1" cy="524.8" r="3.5"/><circle cx="632.9" cy="652" r="3.5"/><circle cx="623.3" cy="656.6" r="3.5"/><circle cx="612.6" cy="668.8" r="3.5"/><circle cx="455.5" cy="557" r="3.5"/><circle cx="498.9" cy="606" r="3.5"/><circle cx="594.8" cy="577.7" r="3.5"/><circle cx="510.2" cy="547.8" r="3.5"/><circle cx="609" cy="504.9" r="3.5"/><circle cx="500.9" cy="670.4" r="3.5"/><circle cx="581.5" cy="591.5" r="3.5"/><circle cx="542.8" cy="655" r="3.5"/><circle cx="469.9" cy="642.8" r="3.5"/><circle cx="629.1" cy="593" r="3.5"/><circle cx="594" cy="524.1" r="3.5"/><circle cx="546.4" cy="582.3" r="3.5"/><circle cx="619.2" cy="534.8" r="3.5"/><circle cx="501.5" cy="517.2" r="3.5"/><circle cx="479.2" cy="513.3" r="3.5"/><circle cx="477.4" cy="595.3" r="3.5"/><circle cx="546.5" cy="620.6" r="3.5"/><circle cx="590" cy="518.7" r="3.5"/><circle cx="448.4" cy="503.4" r="3.5"/><circle cx="569.1" cy="520.2" r="3.5"/><circle cx="496.7" cy="646.6" r="3.5"/><circle cx="644" cy="660.4" r="3.5"/><circle cx="456.3" cy="677.3" r="3.5"/><circle cx="563.9" cy="676.5" r="3.5"/><circle cx="504.8" cy="609.1" r="3.5"/><circle cx="525.7" cy="583.8" r="3.5"/><circle cx="549.7" cy="667.3" r="3.5"/><circle cx="600.1" cy="528.7" r="3.5"/><circle cx="527.4" cy="550.9" r="3.5"/><circle cx="510.1" cy="505.7" r="3.5"/><circle cx="482.2" cy="633.6" r="3.5"/><circle cx="504.3" cy="601.4" r="3.5"/><circle cx="552" cy="612.1" r="3.5"/><circle cx="495.1" cy="623.6" r="3.5"/><circle cx="611.6" cy="534" r="3.5"/><circle cx="568.5" cy="532.5" r="3.5"/><circle cx="644.9" cy="561.6" r="3.5"/><circle cx="555.3" cy="605.3" r="3.5"/><circle cx="477.7" cy="540.1" r="3.5"/><circle cx="466.4" cy="585.3" r="3.5"/><circle cx="581.3" cy="583" r="3.5"/><circle cx="587.3" cy="594.5" r="3.5"/><circle cx="492.1" cy="586.1" r="3.5"/><circle cx="579.8" cy="642" r="3.5"/><circle cx="506.9" cy="557" r="3.5"/><circle cx="603.3" cy="550.1" r="3.5"/><circle cx="606" cy="550.9" r="3.5"/><circle cx="637.6" cy="598.4" r="3.5"/><circle cx="513.8" cy="622.1" r="3.5"/><circle cx="625.6" cy="574.6" r="3.5"/><circle cx="531.6" cy="625.2" r="3.5"/><circle cx="543.5" cy="571.5" r="3.5"/><circle cx="615.8" cy="531" r="3.5"/><circle cx="621.5" cy="551.6" r="3.5"/><circle cx="647" cy="534" r="3.5"/><circle cx="539.9" cy="501.8" r="3.5"/><circle cx="546.3" cy="621.3" r="3.5"/><circle cx="618.2" cy="546.3" r="3.5"/><circle cx="501.1" cy="519.5" r="3.5"/><circle cx="508.3" cy="598.4" r="3.5"/><circle cx="585.6" cy="657.3" r="3.5"/><circle cx="457.2" cy="596.8" r="3.5"/><circle cx="494.7" cy="661.2" r="3.5"/><circle cx="473.3" cy="663.5" r="3.5"/><circle cx="509.5" cy="554.7" r="3.5"/><circle cx="607.8" cy="582.3" r="3.5"/><circle cx="544.3" cy="508" r="3.5"/><circle cx="582.8" cy="557" r="3.5"/><circle cx="633.9" cy="556.2" r="3.5"/><circle cx="460.1" cy="640.5" r="3.5"/><circle cx="524" cy="666.5" r="3.5"/><circle cx="566.2" cy="504.9" r="3.5"/><circle cx="585.8" cy="515.6" r="3.5"/><circle cx="528.7" cy="629.8" r="3.5"/><circle cx="479.5" cy="536.3" r="3.5"/><circle cx="548.5" cy="550.1" r="3.5"/><circle cx="448.4" cy="587.6" r="3.5"/><circle cx="521.7" cy="668.8" r="3.5"/><circle cx="577" cy="635.9" r="3.5"/><circle cx="448.4" cy="588.4" r="3.5"/><circle cx="448.4" cy="603" r="3.5"/><circle cx="492.2" cy="586.1" r="3.5"/><circle cx="592.2" cy="604.5" r="3.5"/><circle cx="591.2" cy="630.5" r="3.5"/><circle cx="605.5" cy="634.4" r="3.5"/><circle cx="529.2" cy="580.7" r="3.5"/><circle cx="645" cy="565.4" r="3.5"/><circle cx="455.2" cy="544.7" r="3.5"/><circle cx="613.7" cy="529.4" r="3.5"/><circle cx="583.6" cy="681.9" r="3.5"/><circle cx="650.4" cy="545.5" r="3.5"/><circle cx="637.2" cy="669.6" r="3.5"/><circle cx="499.9" cy="629.8" r="3.5"/><circle cx="647.1" cy="541.7" r="3.5"/><circle cx="533.6" cy="544" r="3.5"/><circle cx="476.9" cy="622.9" r="3.5"/><circle cx="495.2" cy="533.2" r="3.5"/><circle cx="502.5" cy="498" r="3.5"/><circle cx="576.8" cy="665" r="3.5"/><circle cx="640.6" cy="597.6" r="3.5"/><circle cx="522" cy="681.9" r="3.5"/><circle cx="469.5" cy="553.9" r="3.5"/><circle cx="556.1" cy="683.4" r="3.5"/><circle cx="649.9" cy="528.7" r="3.5"/><circle cx="598.2" cy="675" r="3.5"/><circle cx="529.9" cy="524.8" r="3.5"/><circle cx="527.7" cy="655" r="3.5"/><circle cx="622.7" cy="670.4" r="3.5"/><circle cx="647.9" cy="547" r="3.5"/><circle cx="566.4" cy="646.6" r="3.5"/><circle cx="481.8" cy="556.2" r="3.5"/><circle cx="473.4" cy="603" r="3.5"/><circle cx="593.2" cy="661.2" r="3.5"/><circle cx="597.1" cy="542.4" r="3.5"/><circle cx="607.3" cy="570" r="3.5"/><circle cx="583.6" cy="541.7" r="3.5"/><circle cx="448.4" cy="652.7" r="3.5"/><circle cx="560.1" cy="505.7" r="3.5"/><circle cx="611.2" cy="629" r="3.5"/><circle cx="585.9" cy="635.9" r="3.5"/><circle cx="605.4" cy="546.3" r="3.5"/><circle cx="616.6" cy="618.3" r="3.5"/><circle cx="477.5" cy="543.2" r="3.5"/><circle cx="467.2" cy="511.8" r="3.5"/><circle cx="505.7" cy="606" r="3.5"/><circle cx="541.2" cy="566.2" r="3.5"/><circle cx="472.6" cy="653.5" r="3.5"/><circle cx="618.9" cy="567" r="3.5"/><circle cx="515" cy="536.3" r="3.5"/><circle cx="581.6" cy="514.9" r="3.5"/><circle cx="470.3" cy="649.7" r="3.5"/><circle cx="509.5" cy="615.2" r="3.5"/><circle cx="549.3" cy="516.4" r="3.5"/><circle cx="641.2" cy="537.8" r="3.5"/><circle cx="493.8" cy="684.9" r="3.5"/><circle cx="515.5" cy="547" r="3.5"/><circle cx="601.6" cy="499.5" r="3.5"/><circle cx="634.1" cy="668.8" r="3.5"/><circle cx="526.8" cy="655" r="3.5"/><circle cx="448.4" cy="637.4" r="3.5"/><circle cx="536.5" cy="575.4" r="3.5"/><circle cx="521.6" cy="658.1" r="3.5"/><circle cx="471.3" cy="599.9" r="3.5"/><circle cx="609.6" cy="510.3" r="3.5"/><circle cx="474.8" cy="631.3" r="3.5"/><circle cx="491.2" cy="675.7" r="3.5"/><circle cx="448.4" cy="566.2" r="3.5"/><circle cx="465.1" cy="654.3" r="3.5"/><circle cx="560.9" cy="596.1" r="3.5"/><circle cx="560.3" cy="659.6" r="3.5"/><circle cx="632.8" cy="569.3" r="3.5"/><circle cx="568.4" cy="638.2" r="3.5"/><circle cx="518.7" cy="608.3" r="3.5"/><circle cx="493.3" cy="553.2" r="3.5"/><circle cx="630.9" cy="603" r="3.5"/><circle cx="478.1" cy="621.3" r="3.5"/><circle cx="489.6" cy="594.5" r="3.5"/><circle cx="555.9" cy="505.7" r="3.5"/><circle cx="521.4" cy="583.8" r="3.5"/><circle cx="486.1" cy="553.2" r="3.5"/><circle cx="596.4" cy="607.6" r="3.5"/><circle cx="631.4" cy="526.4" r="3.5"/><circle cx="547.7" cy="502.6" r="3.5"/><circle cx="639.3" cy="563.1" r="3.5"/><circle cx="517.8" cy="625.9" r="3.5"/><circle cx="517.7" cy="534.8" r="3.5"/><circle cx="584.6" cy="533.2" r="3.5"/><circle cx="518.3" cy="626.7" r="3.5"/><circle cx="545.4" cy="566.2" r="3.5"/><circle cx="555.8" cy="505.7" r="3.5"/><circle cx="536.3" cy="600.7" r="3.5"/><circle cx="566.5" cy="570" r="3.5"/><circle cx="548.1" cy="544.7" r="3.5"/><circle cx="448.4" cy="521.8" r="3.5"/><circle cx="480.7" cy="661.9" r="3.5"/><circle cx="622.4" cy="502.6" r="3.5"/><circle cx="594.5" cy="586.1" r="3.5"/><circle cx="611.3" cy="531" r="3.5"/><circle cx="517.4" cy="617.5" r="3.5"/><circle cx="563.7" cy="658.1" r="3.5"/><circle cx="559.3" cy="554.7" r="3.5"/><circle cx="621" cy="625.9" r="3.5"/><circle cx="510.3" cy="541.7" r="3.5"/><circle cx="652.9" cy="681.1" r="3.5"/><circle cx="486.2" cy="665.8" r="3.5"/><circle cx="495" cy="657.3" r="3.5"/><circle cx="571.1" cy="679.6" r="3.5"/><circle cx="570.8" cy="516.4" r="3.5"/><circle cx="559.7" cy="602.2" r="3.5"/><circle cx="448.4" cy="685.7" r="3.5"/><circle cx="604" cy="615.2" r="3.5"/><circle cx="464.4" cy="636.7" r="3.5"/><circle cx="582.7" cy="664.2" r="3.5"/><circle cx="604.2" cy="560.1" r="3.5"/><circle cx="575.8" cy="557" r="3.5"/><circle cx="517.8" cy="640.5" r="3.5"/><circle cx="517.4" cy="528.7" r="3.5"/><circle cx="583.7" cy="502.6" r="3.5"/><circle cx="522" cy="648.9" r="3.5"/><circle cx="652.8" cy="570.8" r="3.5"/><circle cx="580.7" cy="607.6" r="3.5"/><circle cx="448.4" cy="648.9" r="3.5"/><circle cx="575.6" cy="655.8" r="3.5"/><circle cx="656.5" cy="679.6" r="3.5"/><circle cx="448.4" cy="535.5" r="3.5"/><circle cx="480.2" cy="685.7" r="3.5"/><circle cx="611.5" cy="562.4" r="3.5"/><circle cx="608.7" cy="653.5" r="3.5"/><circle cx="586.3" cy="630.5" r="3.5"/><circle cx="488.4" cy="572.3" r="3.5"/><circle cx="448.4" cy="552.4" r="3.5"/><circle cx="539.2" cy="574.6" r="3.5"/><circle cx="462.3" cy="554.7" r="3.5"/><circle cx="534.5" cy="658.9" r="3.5"/><circle cx="583.2" cy="547" r="3.5"/><circle cx="622.5" cy="625.2" r="3.5"/><circle cx="632.4" cy="636.7" r="3.5"/><circle cx="527.9" cy="501.1" r="3.5"/><circle cx="520" cy="584.6" r="3.5"/><circle cx="641.1" cy="674.2" r="3.5"/><circle cx="630.6" cy="586.9" r="3.5"/><circle cx="512.1" cy="665.8" r="3.5"/><circle cx="608.7" cy="532.5" r="3.5"/><circle cx="477.9" cy="616.7" r="3.5"/><circle cx="488.1" cy="616.7" r="3.5"/><circle cx="652.1" cy="502.6" r="3.5"/><circle cx="555" cy="613.7" r="3.5"/><circle cx="612.7" cy="529.4" r="3.5"/><circle cx="638.7" cy="536.3" r="3.5"/><circle cx="591.4" cy="557" r="3.5"/><circle cx="628.1" cy="634.4" r="3.5"/><circle cx="488.9" cy="681.1" r="3.5"/><circle cx="467.4" cy="603.7" r="3.5"/><circle cx="577.9" cy="656.6" r="3.5"/><circle cx="583" cy="680.3" r="3.5"/><circle cx="565.8" cy="543.2" r="3.5"/><circle cx="596.3" cy="576.1" r="3.5"/><circle cx="466.8" cy="594.5" r="3.5"/><circle cx="448.4" cy="679.6" r="3.5"/><circle cx="563.6" cy="606.8" r="3.5"/><circle cx="558.8" cy="655.8" r="3.5"/><circle cx="503.3" cy="625.2" r="3.5"/><circle cx="538.6" cy="663.5" r="3.5"/><circle cx="500.1" cy="616.7" r="3.5"/><circle cx="626.9" cy="567.7" r="3.5"/><circle cx="543.4" cy="540.1" r="3.5"/><circle cx="448.4" cy="618.3" r="3.5"/><circle cx="486.8" cy="520.2" r="3.5"/><circle cx="550.5" cy="535.5" r="3.5"/><circle cx="521.2" cy="581.5" r="3.5"/><circle cx="448.4" cy="558.5" r="3.5"/><circle cx="640.6" cy="524.1" r="3.5"/><circle cx="589.5" cy="558.5" r="3.5"/><circle cx="604.6" cy="599.9" r="3.5"/><circle cx="504" cy="520.2" r="3.5"/><circle cx="502.9" cy="588.4" r="3.5"/><circle cx="507.5" cy="633.6" r="3.5"/><circle cx="493" cy="550.1" r="3.5"/><circle cx="479.2" cy="533.2" r="3.5"/><circle cx="509.2" cy="550.1" r="3.5"/><circle cx="619.5" cy="650.4" r="3.5"/><circle cx="467.6" cy="561.6" r="3.5"/><circle cx="602.3" cy="668.8" r="3.5"/><circle cx="479.6" cy="506.4" r="3.5"/><circle cx="570.5" cy="668.1" r="3.5"/><circle cx="557.3" cy="547" r="3.5"/><circle cx="483.5" cy="556.2" r="3.5"/><circle cx="545.7" cy="574.6" r="3.5"/><circle cx="607.9" cy="545.5" r="3.5"/><circle cx="525.2" cy="602.2" r="3.5"/><circle cx="509.6" cy="573.1" r="3.5"/><circle cx="470.7" cy="580.7" r="3.5"/><circle cx="603.4" cy="597.6" r="3.5"/><circle cx="470.5" cy="546.3" r="3.5"/><circle cx="499.4" cy="684.2" r="3.5"/><circle cx="567.8" cy="555.5" r="3.5"/><circle cx="466.4" cy="645.9" r="3.5"/><circle cx="457.6" cy="529.4" r="3.5"/><circle cx="527.6" cy="512.6" r="3.5"/><circle cx="645.2" cy="516.4" r="3.5"/><circle cx="461.3" cy="593.8" r="3.5"/><circle cx="563.8" cy="553.2" r="3.5"/><circle cx="572.8" cy="560.8" r="3.5"/><circle cx="467.7" cy="559.3" r="3.5"/><circle cx="652" cy="593" r="3.5"/><circle cx="622.1" cy="664.2" r="3.5"/><circle cx="520.1" cy="495.7" r="3.5"/><circle cx="476.5" cy="632.1" r="3.5"/><circle cx="488.5" cy="641.3" r="3.5"/><circle cx="646.4" cy="629" r="3.5"/><circle cx="585" cy="639" r="3.5"/><circle cx="578.7" cy="560.8" r="3.5"/><circle cx="556.8" cy="594.5" r="3.5"/><circle cx="503" cy="678" r="3.5"/><circle cx="624.6" cy="602.2" r="3.5"/><circle cx="589.2" cy="644.3" r="3.5"/><circle cx="598.4" cy="560.8" r="3.5"/><circle cx="464.7" cy="518.7" r="3.5"/><circle cx="483.4" cy="589.9" r="3.5"/><circle cx="592.7" cy="563.9" r="3.5"/><circle cx="556.4" cy="645.9" r="3.5"/><circle cx="454.4" cy="592.2" r="3.5"/><circle cx="616.5" cy="674.2" r="3.5"/></g>
<use href="#st" x="495" y="494.9"/><use href="#st" x="574.1" y="494.9"/><use href="#st" x="654" y="494.9"/><use href="#st" x="656.5" y="686.5"/>
<path d="M434 638.6H666" stroke="#000" stroke-width="0.75" stroke-linecap="round" stroke-dasharray="1 3.1" fill="none"/>
<path d="M434 542.8H666" stroke="#000" stroke-width="0.75" stroke-linecap="round" stroke-dasharray="1 3.1" fill="none"/>
<path d="M447.5 583.1C449.2 583.8 454.8 586.1 458 587.3C461.2 588.5 462.7 589.7 466.8 590.5C470.9 591.3 477.1 592 482.6 592.2C488.1 592.4 494.8 591.6 500 591.5C505.2 591.4 508.7 591 514 591.5C519.3 592 526.9 594.3 531.6 594.3C536.3 594.3 538.8 592.3 542 591.5C545.2 590.7 547.4 589.4 550.9 589.4C554.4 589.4 558 591 563 591.2C568 591.4 576 591.6 580.7 590.8C585.4 590 588 587.6 591.2 586.6C594.4 585.6 596.5 584.5 600 584.5C603.5 584.5 608.2 585.6 612 586.6C615.8 587.6 619.5 589.6 622.7 590.8C626 592 628 593.7 631.5 594C635 594.3 640.5 593.1 643.7 592.6C646.9 592.1 649.5 591.1 650.7 590.8" fill="none" stroke="#f00" stroke-width="2.2" stroke-dasharray="8.5 8.5" stroke-linecap="round"/>
<path d="M434 590.7H666" stroke="#f00" stroke-width="2.2" fill="none"/>
<path class="ax" d="M434 494.9V686.5M434 686.5h-10.3M434 638.6h-10.3M434 590.7h-10.3M434 542.8h-10.3M434 494.9h-10.3M442.6 694.1H657.4M442.6 694.1v10.3M485.6 694.1v10.3M528.5 694.1v10.3M571.5 694.1v10.3M614.4 694.1v10.3M657.4 694.1v10.3"/>
<text class="m" x="442.6" y="729.6">0.0</text>
<text class="m" x="485.6" y="729.6">0.2</text>
<text class="m" x="528.5" y="729.6">0.4</text>
<text class="m" x="571.5" y="729.6">0.6</text>
<text class="m" x="614.4" y="729.6">0.8</text>
<text class="m" x="657.4" y="729.6">1.0</text>
<text class="m" transform="translate(410.3 686.5) rotate(-90)">0.00</text>
<text class="m" transform="translate(410.3 638.6) rotate(-90)">0.25</text>
<text class="m" transform="translate(410.3 590.7) rotate(-90)">0.50</text>
<text class="m" transform="translate(410.3 542.8) rotate(-90)">0.75</text>
<text class="m" transform="translate(410.3 494.9) rotate(-90)">1.00</text>
<text class="m b" x="550" y="452.1">DHARMa residual vs. predicted</text>
<text class="m" style="font-size:16.6px" x="549.3" y="770.1">Model predictions (rank transformed)</text>
<text class="m" transform="translate(370.2 590.7) rotate(-90)">DHARMa residual</text>
</svg></body></html>
